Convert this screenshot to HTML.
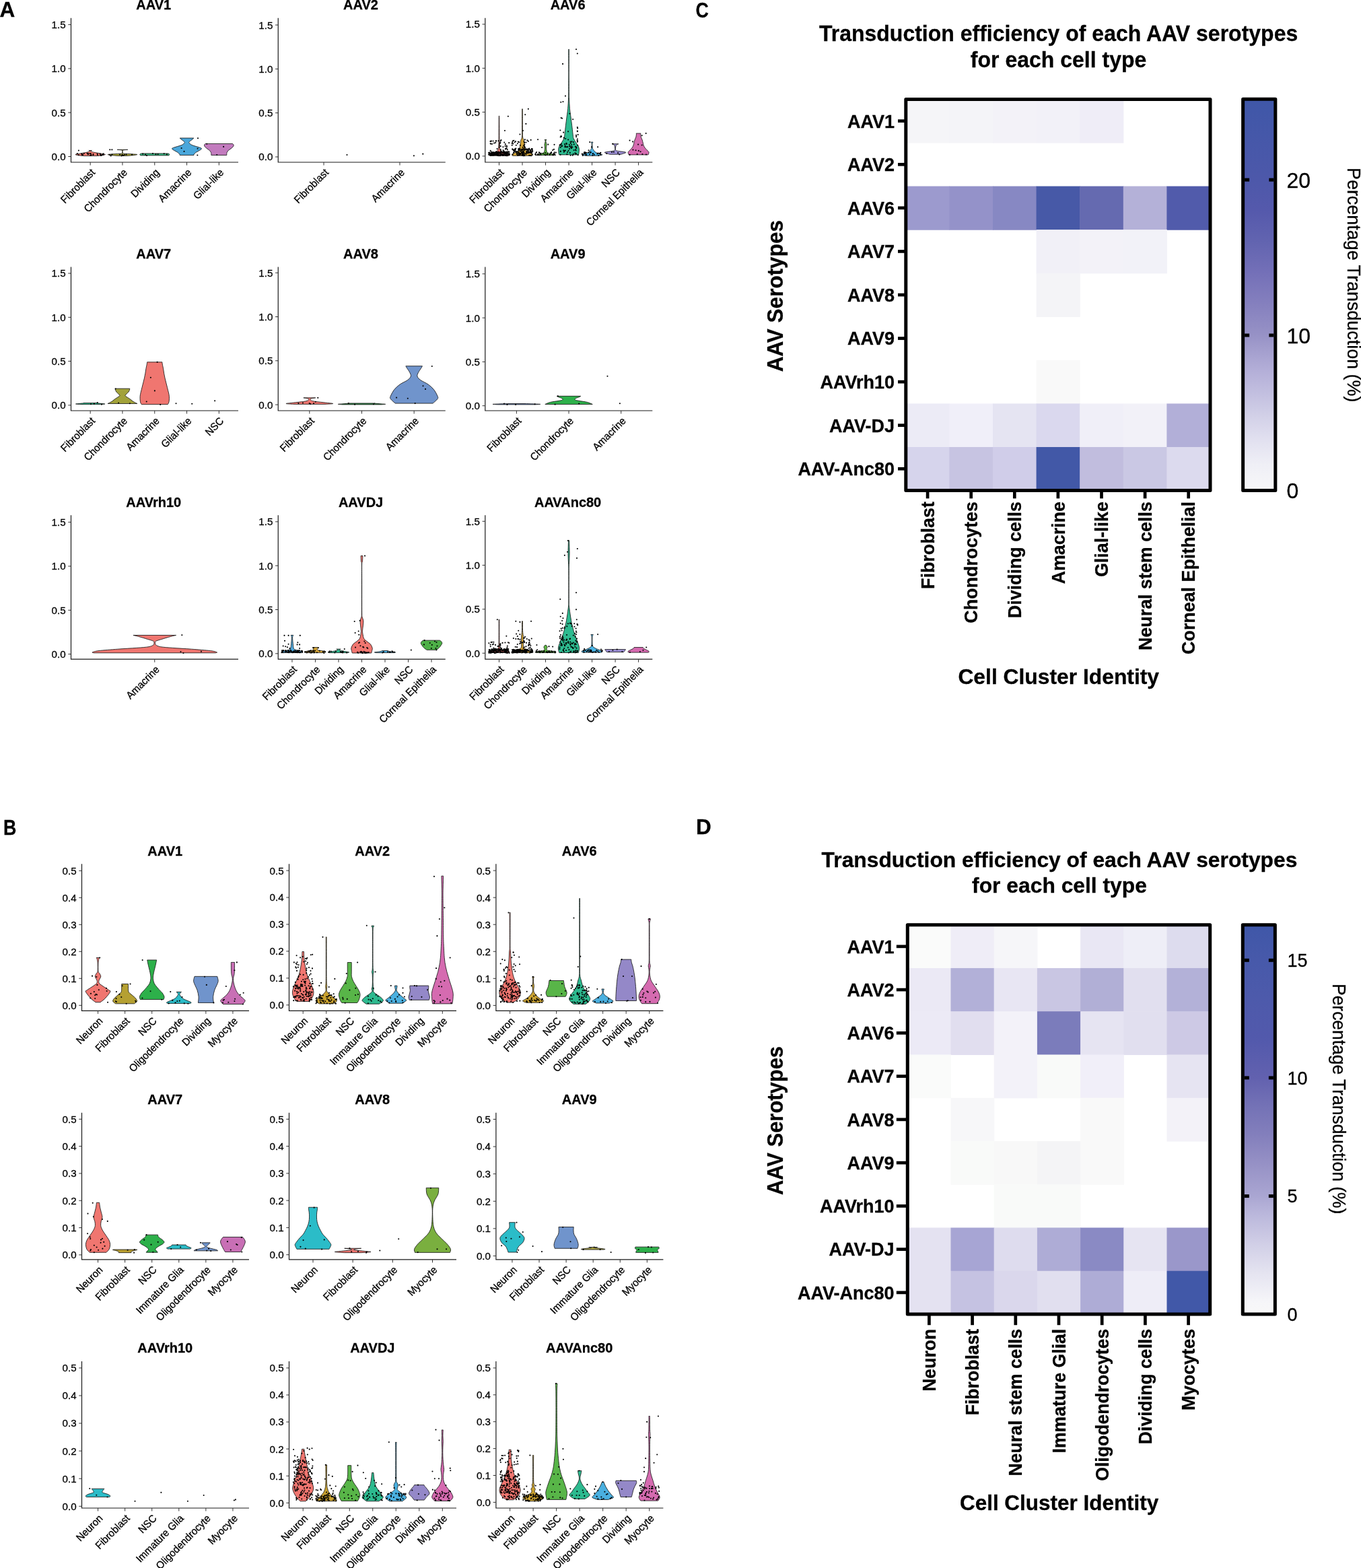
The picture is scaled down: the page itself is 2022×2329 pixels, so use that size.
<!DOCTYPE html>
<html><head><meta charset="utf-8"><title>AAV transduction figure</title>
<style>html,body{margin:0;padding:0;background:#fff;} svg{display:block;} text{font-family:"Liberation Sans",Arial,sans-serif;fill:#000;stroke:#000;stroke-width:0.3px;}</style>
</head><body>
<svg width="2022" height="2329" viewBox="0 0 2022 2329">
<rect width="2022" height="2329" fill="#fff"/>
<rect x="1345.80" y="147.40" width="65.20" height="65.18" fill="#F5F5F8"/>
<rect x="1410.40" y="147.40" width="65.20" height="65.18" fill="#F4F4F8"/>
<rect x="1475.00" y="147.40" width="65.20" height="65.18" fill="#F3F2F8"/>
<rect x="1539.60" y="147.40" width="65.20" height="65.18" fill="#F2F1F8"/>
<rect x="1604.20" y="147.40" width="65.20" height="65.18" fill="#EFEDF7"/>
<rect x="1345.80" y="276.56" width="65.20" height="65.18" fill="#9C9ACE"/>
<rect x="1410.40" y="276.56" width="65.20" height="65.18" fill="#9492C9"/>
<rect x="1475.00" y="276.56" width="65.20" height="65.18" fill="#8788C3"/>
<rect x="1539.60" y="276.56" width="65.20" height="65.18" fill="#4759A7"/>
<rect x="1604.20" y="276.56" width="65.20" height="65.18" fill="#656AB0"/>
<rect x="1668.80" y="276.56" width="65.20" height="65.18" fill="#B4B1D8"/>
<rect x="1733.40" y="276.56" width="65.20" height="65.18" fill="#515BAB"/>
<rect x="1539.60" y="341.13" width="65.20" height="65.18" fill="#F1F0F7"/>
<rect x="1604.20" y="341.13" width="65.20" height="65.18" fill="#F3F2F8"/>
<rect x="1668.80" y="341.13" width="65.20" height="65.18" fill="#F2F2F8"/>
<rect x="1539.60" y="405.71" width="65.20" height="65.18" fill="#F4F4F7"/>
<rect x="1539.60" y="534.87" width="65.20" height="65.18" fill="#F9F9F9"/>
<rect x="1345.80" y="599.44" width="65.20" height="65.18" fill="#ECEBF6"/>
<rect x="1410.40" y="599.44" width="65.20" height="65.18" fill="#F0EFF9"/>
<rect x="1475.00" y="599.44" width="65.20" height="65.18" fill="#E5E4F2"/>
<rect x="1539.60" y="599.44" width="65.20" height="65.18" fill="#DAD8EE"/>
<rect x="1604.20" y="599.44" width="65.20" height="65.18" fill="#F0EFF8"/>
<rect x="1668.80" y="599.44" width="65.20" height="65.18" fill="#F2F1F8"/>
<rect x="1733.40" y="599.44" width="65.20" height="65.18" fill="#B2AFD8"/>
<rect x="1345.80" y="664.02" width="65.20" height="65.18" fill="#D6D4EC"/>
<rect x="1410.40" y="664.02" width="65.20" height="65.18" fill="#C7C4E2"/>
<rect x="1475.00" y="664.02" width="65.20" height="65.18" fill="#D0CDE9"/>
<rect x="1539.60" y="664.02" width="65.20" height="65.18" fill="#4258A7"/>
<rect x="1604.20" y="664.02" width="65.20" height="65.18" fill="#C1BDDE"/>
<rect x="1668.80" y="664.02" width="65.20" height="65.18" fill="#CAC8E4"/>
<rect x="1733.40" y="664.02" width="65.20" height="65.18" fill="#DCDAEE"/>
<defs><linearGradient id="gC" x1="0" y1="1" x2="0" y2="0"><stop offset="0" stop-color="#F7F7F8"/><stop offset="0.067" stop-color="#EFEFF6"/><stop offset="0.127" stop-color="#E2E1F0"/><stop offset="0.187" stop-color="#D3D1E8"/><stop offset="0.246" stop-color="#C3C0E0"/><stop offset="0.306" stop-color="#B4AFD8"/><stop offset="0.397" stop-color="#9792C6"/><stop offset="0.476" stop-color="#8580BE"/><stop offset="0.556" stop-color="#7470B8"/><stop offset="0.635" stop-color="#6264B0"/><stop offset="0.714" stop-color="#5559AC"/><stop offset="0.794" stop-color="#4D58AA"/><stop offset="1" stop-color="#3F57A8"/></linearGradient></defs>
<rect x="1846.65" y="147.2" width="48.19999999999982" height="581.4000000000001" fill="url(#gC)"/>
<line x1="1334.0" y1="179.69" x2="1345.8" y2="179.69" stroke="#000" stroke-width="4.7"/>
<text transform="translate(1329.00,189.59)" font-size="27" font-weight="bold" text-anchor="end">AAV1</text>
<line x1="1334.0" y1="244.27" x2="1345.8" y2="244.27" stroke="#000" stroke-width="4.7"/>
<text transform="translate(1329.00,254.17)" font-size="27" font-weight="bold" text-anchor="end">AAV2</text>
<line x1="1334.0" y1="308.84" x2="1345.8" y2="308.84" stroke="#000" stroke-width="4.7"/>
<text transform="translate(1329.00,318.74)" font-size="27" font-weight="bold" text-anchor="end">AAV6</text>
<line x1="1334.0" y1="373.42" x2="1345.8" y2="373.42" stroke="#000" stroke-width="4.7"/>
<text transform="translate(1329.00,383.32)" font-size="27" font-weight="bold" text-anchor="end">AAV7</text>
<line x1="1334.0" y1="438.00" x2="1345.8" y2="438.00" stroke="#000" stroke-width="4.7"/>
<text transform="translate(1329.00,447.90)" font-size="27" font-weight="bold" text-anchor="end">AAV8</text>
<line x1="1334.0" y1="502.58" x2="1345.8" y2="502.58" stroke="#000" stroke-width="4.7"/>
<text transform="translate(1329.00,512.48)" font-size="27" font-weight="bold" text-anchor="end">AAV9</text>
<line x1="1334.0" y1="567.16" x2="1345.8" y2="567.16" stroke="#000" stroke-width="4.7"/>
<text transform="translate(1329.00,577.06)" font-size="27" font-weight="bold" text-anchor="end">AAVrh10</text>
<line x1="1334.0" y1="631.73" x2="1345.8" y2="631.73" stroke="#000" stroke-width="4.7"/>
<text transform="translate(1329.00,641.63)" font-size="27" font-weight="bold" text-anchor="end">AAV-DJ</text>
<line x1="1334.0" y1="696.31" x2="1345.8" y2="696.31" stroke="#000" stroke-width="4.7"/>
<text transform="translate(1329.00,706.21)" font-size="27" font-weight="bold" text-anchor="end">AAV-Anc80</text>
<line x1="1378.10" y1="728.6" x2="1378.10" y2="740.4" stroke="#000" stroke-width="4.7"/>
<text transform="translate(1387.70,745.10) rotate(-90) scale(0.995,1)" font-size="27" font-weight="bold" text-anchor="end">Fibroblast</text>
<line x1="1442.70" y1="728.6" x2="1442.70" y2="740.4" stroke="#000" stroke-width="4.7"/>
<text transform="translate(1452.30,745.10) rotate(-90) scale(0.995,1)" font-size="27" font-weight="bold" text-anchor="end">Chondrocytes</text>
<line x1="1507.30" y1="728.6" x2="1507.30" y2="740.4" stroke="#000" stroke-width="4.7"/>
<text transform="translate(1516.90,745.10) rotate(-90) scale(0.995,1)" font-size="27" font-weight="bold" text-anchor="end">Dividing cells</text>
<line x1="1571.90" y1="728.6" x2="1571.90" y2="740.4" stroke="#000" stroke-width="4.7"/>
<text transform="translate(1581.50,745.10) rotate(-90) scale(0.995,1)" font-size="27" font-weight="bold" text-anchor="end">Amacrine</text>
<line x1="1636.50" y1="728.6" x2="1636.50" y2="740.4" stroke="#000" stroke-width="4.7"/>
<text transform="translate(1646.10,745.10) rotate(-90) scale(0.995,1)" font-size="27" font-weight="bold" text-anchor="end">Glial-like</text>
<line x1="1701.10" y1="728.6" x2="1701.10" y2="740.4" stroke="#000" stroke-width="4.7"/>
<text transform="translate(1710.70,745.10) rotate(-90) scale(0.995,1)" font-size="27" font-weight="bold" text-anchor="end">Neural stem cells</text>
<line x1="1765.70" y1="728.6" x2="1765.70" y2="740.4" stroke="#000" stroke-width="4.7"/>
<text transform="translate(1775.30,745.10) rotate(-90) scale(0.995,1)" font-size="27" font-weight="bold" text-anchor="end">Corneal Epithelial</text>
<rect x="1345.8" y="147.4" width="452.20000000000005" height="581.2" fill="none" stroke="#000" stroke-width="5.0" stroke-linejoin="round"/>
<rect x="1846.65" y="147.2" width="48.19999999999982" height="581.4000000000001" fill="none" stroke="#000" stroke-width="5.0" stroke-linejoin="round"/>
<line x1="1849.15" y1="267.1" x2="1856.15" y2="267.1" stroke="#000" stroke-width="5"/>
<line x1="1885.35" y1="267.1" x2="1892.35" y2="267.1" stroke="#000" stroke-width="5"/>
<text transform="translate(1911.50,278.60)" font-size="32">20</text>
<line x1="1849.15" y1="498.0" x2="1856.15" y2="498.0" stroke="#000" stroke-width="5"/>
<line x1="1885.35" y1="498.0" x2="1892.35" y2="498.0" stroke="#000" stroke-width="5"/>
<text transform="translate(1911.50,509.50)" font-size="32">10</text>
<text transform="translate(1911.50,740.10)" font-size="32">0</text>
<text transform="translate(1572.60,61.30) scale(0.97,1)" font-size="33" font-weight="bold" text-anchor="middle">Transduction efficiency of each AAV serotypes</text>
<text transform="translate(1572.60,100.00) scale(0.97,1)" font-size="33" font-weight="bold" text-anchor="middle">for each cell type</text>
<text transform="translate(1163.20,439.70) rotate(-90) scale(0.955,1)" font-size="33" font-weight="bold" text-anchor="middle">AAV Serotypes</text>
<text transform="translate(1572.70,1015.70)" font-size="31.8" font-weight="bold" text-anchor="middle">Cell Cluster Identity</text>
<text transform="translate(2002.00,249.00) rotate(90) scale(0.975,1)" font-size="27.6">Percentage Transduction (%)</text>
<rect x="1348.30" y="1373.70" width="64.80" height="64.86" fill="#FAFBFA"/>
<rect x="1412.50" y="1373.70" width="64.80" height="64.86" fill="#EFEDF7"/>
<rect x="1476.70" y="1373.70" width="64.80" height="64.86" fill="#F6F6F9"/>
<rect x="1605.10" y="1373.70" width="64.80" height="64.86" fill="#E9E7F4"/>
<rect x="1669.30" y="1373.70" width="64.80" height="64.86" fill="#EEEEF7"/>
<rect x="1733.50" y="1373.70" width="64.80" height="64.86" fill="#DDDCEE"/>
<rect x="1348.30" y="1437.96" width="64.80" height="64.86" fill="#EBE9F5"/>
<rect x="1412.50" y="1437.96" width="64.80" height="64.86" fill="#B2B0D8"/>
<rect x="1476.70" y="1437.96" width="64.80" height="64.86" fill="#E8E6F3"/>
<rect x="1540.90" y="1437.96" width="64.80" height="64.86" fill="#C9C6E3"/>
<rect x="1605.10" y="1437.96" width="64.80" height="64.86" fill="#B1AFD6"/>
<rect x="1669.30" y="1437.96" width="64.80" height="64.86" fill="#E1DFEF"/>
<rect x="1733.50" y="1437.96" width="64.80" height="64.86" fill="#B3B1D8"/>
<rect x="1348.30" y="1502.21" width="64.80" height="64.86" fill="#ECEAF6"/>
<rect x="1412.50" y="1502.21" width="64.80" height="64.86" fill="#E1DEEF"/>
<rect x="1476.70" y="1502.21" width="64.80" height="64.86" fill="#F3F2F9"/>
<rect x="1540.90" y="1502.21" width="64.80" height="64.86" fill="#7B7CBB"/>
<rect x="1605.10" y="1502.21" width="64.80" height="64.86" fill="#E6E4F2"/>
<rect x="1669.30" y="1502.21" width="64.80" height="64.86" fill="#E1DFEF"/>
<rect x="1733.50" y="1502.21" width="64.80" height="64.86" fill="#CDC9E5"/>
<rect x="1348.30" y="1566.47" width="64.80" height="64.86" fill="#FAFBFA"/>
<rect x="1476.70" y="1566.47" width="64.80" height="64.86" fill="#F3F2F9"/>
<rect x="1540.90" y="1566.47" width="64.80" height="64.86" fill="#F9FAF9"/>
<rect x="1605.10" y="1566.47" width="64.80" height="64.86" fill="#F1EFF9"/>
<rect x="1733.50" y="1566.47" width="64.80" height="64.86" fill="#E6E4F2"/>
<rect x="1412.50" y="1630.72" width="64.80" height="64.86" fill="#F7F7F9"/>
<rect x="1605.10" y="1630.72" width="64.80" height="64.86" fill="#F9F9F9"/>
<rect x="1733.50" y="1630.72" width="64.80" height="64.86" fill="#F3F2F8"/>
<rect x="1412.50" y="1694.98" width="64.80" height="64.86" fill="#F9FAF9"/>
<rect x="1476.70" y="1694.98" width="64.80" height="64.86" fill="#F8F8F8"/>
<rect x="1540.90" y="1694.98" width="64.80" height="64.86" fill="#F4F4F6"/>
<rect x="1605.10" y="1694.98" width="64.80" height="64.86" fill="#F9F9F9"/>
<rect x="1476.70" y="1759.23" width="64.80" height="64.86" fill="#F9FAF9"/>
<rect x="1540.90" y="1759.23" width="64.80" height="64.86" fill="#F9FAF9"/>
<rect x="1348.30" y="1823.49" width="64.80" height="64.86" fill="#E4E2F1"/>
<rect x="1412.50" y="1823.49" width="64.80" height="64.86" fill="#A7A5D4"/>
<rect x="1476.70" y="1823.49" width="64.80" height="64.86" fill="#DEDCEE"/>
<rect x="1540.90" y="1823.49" width="64.80" height="64.86" fill="#AEACD6"/>
<rect x="1605.10" y="1823.49" width="64.80" height="64.86" fill="#8A8AC4"/>
<rect x="1669.30" y="1823.49" width="64.80" height="64.86" fill="#E6E4F2"/>
<rect x="1733.50" y="1823.49" width="64.80" height="64.86" fill="#9A97CA"/>
<rect x="1348.30" y="1887.74" width="64.80" height="64.86" fill="#E4E2F1"/>
<rect x="1412.50" y="1887.74" width="64.80" height="64.86" fill="#C5C2E2"/>
<rect x="1476.70" y="1887.74" width="64.80" height="64.86" fill="#DAD7EC"/>
<rect x="1540.90" y="1887.74" width="64.80" height="64.86" fill="#E1DFEF"/>
<rect x="1605.10" y="1887.74" width="64.80" height="64.86" fill="#AEACD6"/>
<rect x="1669.30" y="1887.74" width="64.80" height="64.86" fill="#EEEDF7"/>
<rect x="1733.50" y="1887.74" width="64.80" height="64.86" fill="#4158A8"/>
<defs><linearGradient id="gD" x1="0" y1="1" x2="0" y2="0"><stop offset="0" stop-color="#F8F8F8"/><stop offset="0.03" stop-color="#F6F6F9"/><stop offset="0.1" stop-color="#E6E5F1"/><stop offset="0.176" stop-color="#D2D0E7"/><stop offset="0.255" stop-color="#BBB8DC"/><stop offset="0.303" stop-color="#AAA6D2"/><stop offset="0.382" stop-color="#9792C6"/><stop offset="0.461" stop-color="#837FBC"/><stop offset="0.534" stop-color="#7472B6"/><stop offset="0.607" stop-color="#6261AF"/><stop offset="0.71" stop-color="#5259AC"/><stop offset="0.813" stop-color="#4D5AAB"/><stop offset="0.91" stop-color="#4759AA"/><stop offset="1" stop-color="#3F57A8"/></linearGradient></defs>
<rect x="1846.3" y="1373.7" width="48.049999999999955" height="578.3" fill="url(#gD)"/>
<line x1="1331.8" y1="1405.83" x2="1348.3" y2="1405.83" stroke="#000" stroke-width="4.7"/>
<text transform="translate(1328.50,1415.53)" font-size="27" font-weight="bold" text-anchor="end">AAV1</text>
<line x1="1331.8" y1="1470.08" x2="1348.3" y2="1470.08" stroke="#000" stroke-width="4.7"/>
<text transform="translate(1328.50,1479.78)" font-size="27" font-weight="bold" text-anchor="end">AAV2</text>
<line x1="1331.8" y1="1534.34" x2="1348.3" y2="1534.34" stroke="#000" stroke-width="4.7"/>
<text transform="translate(1328.50,1544.04)" font-size="27" font-weight="bold" text-anchor="end">AAV6</text>
<line x1="1331.8" y1="1598.59" x2="1348.3" y2="1598.59" stroke="#000" stroke-width="4.7"/>
<text transform="translate(1328.50,1608.29)" font-size="27" font-weight="bold" text-anchor="end">AAV7</text>
<line x1="1331.8" y1="1662.85" x2="1348.3" y2="1662.85" stroke="#000" stroke-width="4.7"/>
<text transform="translate(1328.50,1672.55)" font-size="27" font-weight="bold" text-anchor="end">AAV8</text>
<line x1="1331.8" y1="1727.11" x2="1348.3" y2="1727.11" stroke="#000" stroke-width="4.7"/>
<text transform="translate(1328.50,1736.81)" font-size="27" font-weight="bold" text-anchor="end">AAV9</text>
<line x1="1331.8" y1="1791.36" x2="1348.3" y2="1791.36" stroke="#000" stroke-width="4.7"/>
<text transform="translate(1328.50,1801.06)" font-size="27" font-weight="bold" text-anchor="end">AAVrh10</text>
<line x1="1331.8" y1="1855.62" x2="1348.3" y2="1855.62" stroke="#000" stroke-width="4.7"/>
<text transform="translate(1328.50,1865.32)" font-size="27" font-weight="bold" text-anchor="end">AAV-DJ</text>
<line x1="1331.8" y1="1919.87" x2="1348.3" y2="1919.87" stroke="#000" stroke-width="4.7"/>
<text transform="translate(1328.50,1929.57)" font-size="27" font-weight="bold" text-anchor="end">AAV-Anc80</text>
<line x1="1380.40" y1="1952.0" x2="1380.40" y2="1968.2" stroke="#000" stroke-width="4.7"/>
<text transform="translate(1390.00,1973.80) rotate(-90) scale(0.985,1)" font-size="27" font-weight="bold" text-anchor="end">Neuron</text>
<line x1="1444.60" y1="1952.0" x2="1444.60" y2="1968.2" stroke="#000" stroke-width="4.7"/>
<text transform="translate(1454.20,1973.80) rotate(-90) scale(0.985,1)" font-size="27" font-weight="bold" text-anchor="end">Fibroblast</text>
<line x1="1508.80" y1="1952.0" x2="1508.80" y2="1968.2" stroke="#000" stroke-width="4.7"/>
<text transform="translate(1518.40,1973.80) rotate(-90) scale(0.985,1)" font-size="27" font-weight="bold" text-anchor="end">Neural stem cells</text>
<line x1="1573.00" y1="1952.0" x2="1573.00" y2="1968.2" stroke="#000" stroke-width="4.7"/>
<text transform="translate(1582.60,1973.80) rotate(-90) scale(0.985,1)" font-size="27" font-weight="bold" text-anchor="end">Immature Glial</text>
<line x1="1637.20" y1="1952.0" x2="1637.20" y2="1968.2" stroke="#000" stroke-width="4.7"/>
<text transform="translate(1646.80,1973.80) rotate(-90) scale(0.985,1)" font-size="27" font-weight="bold" text-anchor="end">Oligodendrocytes</text>
<line x1="1701.40" y1="1952.0" x2="1701.40" y2="1968.2" stroke="#000" stroke-width="4.7"/>
<text transform="translate(1711.00,1973.80) rotate(-90) scale(0.985,1)" font-size="27" font-weight="bold" text-anchor="end">Dividing cells</text>
<line x1="1765.60" y1="1952.0" x2="1765.60" y2="1968.2" stroke="#000" stroke-width="4.7"/>
<text transform="translate(1775.20,1973.80) rotate(-90) scale(0.985,1)" font-size="27" font-weight="bold" text-anchor="end">Myocytes</text>
<rect x="1348.3" y="1373.7" width="449.4000000000001" height="578.3" fill="none" stroke="#000" stroke-width="5.0" stroke-linejoin="round"/>
<rect x="1846.3" y="1373.7" width="48.049999999999955" height="578.3" fill="none" stroke="#000" stroke-width="5.0" stroke-linejoin="round"/>
<line x1="1848.8" y1="1426.3" x2="1855.8" y2="1426.3" stroke="#000" stroke-width="5"/>
<line x1="1884.85" y1="1426.3" x2="1891.85" y2="1426.3" stroke="#000" stroke-width="5"/>
<text transform="translate(1912.50,1436.00)" font-size="27">15</text>
<line x1="1848.8" y1="1600.9" x2="1855.8" y2="1600.9" stroke="#000" stroke-width="5"/>
<line x1="1884.85" y1="1600.9" x2="1891.85" y2="1600.9" stroke="#000" stroke-width="5"/>
<text transform="translate(1912.50,1610.60)" font-size="27">10</text>
<line x1="1848.8" y1="1776.6" x2="1855.8" y2="1776.6" stroke="#000" stroke-width="5"/>
<line x1="1884.85" y1="1776.6" x2="1891.85" y2="1776.6" stroke="#000" stroke-width="5"/>
<text transform="translate(1912.50,1786.30)" font-size="27">5</text>
<text transform="translate(1912.50,1961.70)" font-size="27">0</text>
<text transform="translate(1574.00,1288.40)" font-size="31.8" font-weight="bold" text-anchor="middle">Transduction efficiency of each AAV serotypes</text>
<text transform="translate(1574.00,1325.90)" font-size="31.8" font-weight="bold" text-anchor="middle">for each cell type</text>
<text transform="translate(1163.10,1664.50) rotate(-90) scale(0.955,1)" font-size="32.4" font-weight="bold" text-anchor="middle">AAV Serotypes</text>
<text transform="translate(1573.60,2242.50) scale(1.015,1)" font-size="31.0" font-weight="bold" text-anchor="middle">Cell Cluster Identity</text>
<text transform="translate(1980.00,1461.00) rotate(90) scale(0.958,1)" font-size="27.6">Percentage Transduction (%)</text>
<text transform="translate(228.30,14.25)" font-size="20" font-weight="bold" text-anchor="middle">AAV1</text>
<path d="M123.71,231.57 C122.55,231.43 118.63,231.04 116.73,230.74 C114.84,230.43 112.92,230.04 112.34,229.76 C111.76,229.48 111.58,229.46 113.25,229.06 C114.91,228.67 119.52,227.90 122.31,227.39 C125.10,226.88 128.24,226.41 129.99,225.99 C131.73,225.57 132.17,225.16 132.78,224.88 C133.38,224.60 133.62,224.51 133.62,224.32 C133.62,224.13 133.07,223.90 132.78,223.76 C132.49,223.62 132.02,223.53 131.87,223.48 L136.47,223.48 C136.32,223.53 135.86,223.62 135.57,223.76 C135.28,223.90 134.73,224.13 134.73,224.32 C134.73,224.51 134.96,224.60 135.57,224.88 C136.17,225.16 136.61,225.57 138.36,225.99 C140.10,226.41 143.24,226.88 146.03,227.39 C148.82,227.90 153.44,228.67 155.10,229.06 C156.76,229.46 156.59,229.48 156.01,229.76 C155.42,230.04 153.51,230.43 151.61,230.74 C149.72,231.04 145.80,231.43 144.64,231.57 Z" fill="#F07A70" stroke="#1a1a1a" stroke-width="0.85" stroke-linejoin="round"/>
<circle cx="122.18" cy="230.27" r="1.05"/>
<circle cx="153.54" cy="228.20" r="1.05"/>
<circle cx="129.86" cy="227.98" r="1.05"/>
<circle cx="116.82" cy="230.18" r="1.05"/>
<circle cx="153.36" cy="229.60" r="1.05"/>
<circle cx="129.69" cy="227.71" r="1.05"/>
<circle cx="151.44" cy="230.30" r="1.05"/>
<circle cx="150.29" cy="230.84" r="1.05"/>
<circle cx="144.96" cy="229.97" r="1.05"/>
<circle cx="152.98" cy="229.81" r="1.05"/>
<circle cx="138.41" cy="230.06" r="1.05"/>
<circle cx="121.30" cy="228.75" r="1.05"/>
<circle cx="148.82" cy="228.66" r="1.05"/>
<circle cx="114.79" cy="228.15" r="1.05"/>
<circle cx="138.58" cy="229.03" r="1.05"/>
<circle cx="134.77" cy="228.11" r="1.05"/>
<circle cx="130.87" cy="229.37" r="1.05"/>
<circle cx="135.24" cy="230.79" r="1.05"/>
<circle cx="134.11" cy="230.96" r="1.05"/>
<circle cx="124.78" cy="228.00" r="1.05"/>
<circle cx="121.93" cy="229.09" r="1.05"/>
<circle cx="149.87" cy="230.46" r="1.05"/>
<circle cx="149.31" cy="230.33" r="1.05"/>
<circle cx="135.36" cy="229.85" r="1.05"/>
<circle cx="131.47" cy="228.28" r="1.05"/>
<circle cx="133.61" cy="228.27" r="1.05"/>
<circle cx="144.53" cy="228.45" r="1.05"/>
<circle cx="123.23" cy="230.02" r="1.05"/>
<circle cx="116.86" cy="223.48" r="1.05"/>
<path d="M174.29,231.43 C172.66,231.27 166.88,230.78 164.52,230.46 C162.16,230.13 159.55,229.76 160.13,229.48 C160.71,229.20 164.72,228.99 168.01,228.78 C171.30,228.57 177.64,228.46 179.87,228.23 C182.10,227.99 181.12,228.18 181.40,227.39 C181.68,226.60 182.03,224.27 181.54,223.48 C181.05,222.69 179.72,222.83 178.47,222.65 C177.23,222.46 174.81,222.41 174.08,222.37 L189.84,222.37 C189.11,222.41 186.69,222.46 185.45,222.65 C184.21,222.83 182.87,222.69 182.38,223.48 C181.89,224.27 182.24,226.60 182.52,227.39 C182.80,228.18 181.82,227.99 184.05,228.23 C186.29,228.46 192.62,228.57 195.91,228.78 C199.20,228.99 203.21,229.20 203.79,229.48 C204.38,229.76 201.76,230.13 199.40,230.46 C197.04,230.78 191.26,231.27 189.63,231.43 Z" fill="#A8A53A" stroke="#1a1a1a" stroke-width="0.85" stroke-linejoin="round"/>
<circle cx="196.05" cy="229.86" r="1.05"/>
<circle cx="187.67" cy="229.40" r="1.05"/>
<circle cx="181.38" cy="230.11" r="1.05"/>
<circle cx="180.56" cy="231.43" r="1.05"/>
<circle cx="183.39" cy="231.04" r="1.05"/>
<circle cx="166.36" cy="229.66" r="1.05"/>
<circle cx="182.26" cy="230.31" r="1.05"/>
<circle cx="163.12" cy="230.10" r="1.05"/>
<circle cx="185.18" cy="229.76" r="1.05"/>
<circle cx="178.08" cy="229.40" r="1.05"/>
<circle cx="163.31" cy="222.37" r="1.05"/>
<circle cx="166.38" cy="222.37" r="1.05"/>
<circle cx="164.71" cy="231.57" r="1.05"/>
<path d="M208.82,230.88 C208.67,230.76 208.07,230.48 207.92,230.18 C207.77,229.88 207.77,229.39 207.92,229.06 C208.07,228.74 208.44,228.41 208.82,228.23 C209.21,228.04 209.99,227.99 210.22,227.95 L249.28,227.95 C249.51,227.99 250.29,228.04 250.68,228.23 C251.06,228.41 251.43,228.74 251.58,229.06 C251.73,229.39 251.73,229.88 251.58,230.18 C251.43,230.48 250.83,230.76 250.68,230.88 Z" fill="#3DBA85" stroke="#1a1a1a" stroke-width="0.85" stroke-linejoin="round"/>
<circle cx="234.65" cy="228.96" r="1.05"/>
<circle cx="243.70" cy="228.22" r="1.05"/>
<circle cx="247.81" cy="229.35" r="1.05"/>
<circle cx="212.22" cy="228.61" r="1.05"/>
<circle cx="231.44" cy="229.12" r="1.05"/>
<circle cx="216.12" cy="229.67" r="1.05"/>
<circle cx="218.01" cy="231.02" r="1.05"/>
<circle cx="226.98" cy="228.08" r="1.05"/>
<path d="M267.08,230.46 C267.05,230.27 267.40,229.99 266.94,229.34 C266.47,228.69 265.42,227.41 264.29,226.55 C263.15,225.69 261.38,224.92 260.10,224.18 C258.82,223.44 257.34,222.71 256.61,222.09 C255.88,221.46 255.12,220.99 255.71,220.41 C256.29,219.83 258.20,219.25 260.10,218.60 C261.99,217.95 265.22,217.13 267.08,216.51 C268.94,215.88 270.21,215.41 271.26,214.83 C272.31,214.25 272.83,213.55 273.35,213.02 C273.88,212.48 274.52,212.21 274.40,211.62 C274.28,211.04 273.41,210.23 272.66,209.53 C271.90,208.83 270.62,208.02 269.87,207.44 C269.11,206.86 268.56,206.44 268.12,206.04 C267.68,205.65 267.37,205.23 267.21,205.07 L287.86,205.07 C287.71,205.23 287.40,205.65 286.96,206.04 C286.51,206.44 285.97,206.86 285.21,207.44 C284.46,208.02 283.18,208.83 282.42,209.53 C281.67,210.23 280.79,211.04 280.68,211.62 C280.56,212.21 281.20,212.48 281.72,213.02 C282.25,213.55 282.77,214.25 283.82,214.83 C284.86,215.41 286.14,215.88 288.00,216.51 C289.86,217.13 293.08,217.95 294.98,218.60 C296.87,219.25 298.79,219.83 299.37,220.41 C299.95,220.99 299.20,221.46 298.46,222.09 C297.73,222.71 296.26,223.44 294.98,224.18 C293.70,224.92 291.93,225.69 290.79,226.55 C289.65,227.41 288.61,228.69 288.14,229.34 C287.68,229.99 288.02,230.27 288.00,230.46 Z" fill="#4AA7DB" stroke="#1a1a1a" stroke-width="0.85" stroke-linejoin="round"/>
<circle cx="269.62" cy="219.99" r="1.05"/>
<circle cx="273.53" cy="224.88" r="1.05"/>
<circle cx="293.62" cy="220.69" r="1.05"/>
<circle cx="293.34" cy="230.46" r="1.05"/>
<circle cx="294.03" cy="205.35" r="1.05"/>
<path d="M313.82,230.46 C313.82,230.11 313.88,229.02 313.82,228.36 C313.76,227.71 313.88,227.37 313.47,226.55 C313.06,225.74 312.36,224.46 311.38,223.48 C310.39,222.51 308.70,221.62 307.54,220.69 C306.38,219.76 305.07,218.72 304.40,217.90 C303.73,217.09 303.49,216.46 303.49,215.81 C303.49,215.16 304.13,214.39 304.40,214.00 C304.67,213.60 304.98,213.53 305.10,213.44 L345.56,213.44 C345.67,213.53 345.99,213.60 346.25,214.00 C346.52,214.39 347.16,215.16 347.16,215.81 C347.16,216.46 346.93,217.09 346.25,217.90 C345.58,218.72 344.28,219.76 343.11,220.69 C341.95,221.62 340.27,222.51 339.28,223.48 C338.29,224.46 337.59,225.74 337.19,226.55 C336.78,227.37 336.89,227.71 336.84,228.36 C336.78,229.02 336.84,230.11 336.84,230.46 Z" fill="#C27BBE" stroke="#1a1a1a" stroke-width="0.85" stroke-linejoin="round"/>
<circle cx="307.29" cy="213.72" r="1.05"/>
<circle cx="332.12" cy="217.90" r="1.05"/>
<circle cx="322.22" cy="230.04" r="1.05"/>
<path d="M105.5,26.75 V241.0 H354.0" fill="none" stroke="#1a1a1a" stroke-width="1.2"/>
<line x1="101.3" y1="232.5" x2="105.5" y2="232.5" stroke="#333" stroke-width="1"/>
<text transform="translate(97.60,237.90)" font-size="15.2" text-anchor="end">0.0</text>
<line x1="101.3" y1="167.2" x2="105.5" y2="167.2" stroke="#333" stroke-width="1"/>
<text transform="translate(97.60,172.60)" font-size="15.2" text-anchor="end">0.5</text>
<line x1="101.3" y1="101.9" x2="105.5" y2="101.9" stroke="#333" stroke-width="1"/>
<text transform="translate(97.60,107.30)" font-size="15.2" text-anchor="end">1.0</text>
<line x1="101.3" y1="36.599999999999994" x2="105.5" y2="36.599999999999994" stroke="#333" stroke-width="1"/>
<text transform="translate(97.60,42.00)" font-size="15.2" text-anchor="end">1.5</text>
<line x1="134.17" y1="241.0" x2="134.17" y2="245.5" stroke="#333" stroke-width="1"/>
<text transform="translate(142.17,257.20) rotate(-45) scale(0.945,1)" font-size="15.6" text-anchor="end">Fibroblast</text>
<line x1="181.96" y1="241.0" x2="181.96" y2="245.5" stroke="#333" stroke-width="1"/>
<text transform="translate(189.96,257.20) rotate(-45) scale(0.945,1)" font-size="15.6" text-anchor="end">Chondrocyte</text>
<line x1="229.75" y1="241.0" x2="229.75" y2="245.5" stroke="#333" stroke-width="1"/>
<text transform="translate(237.75,257.20) rotate(-45) scale(0.945,1)" font-size="15.6" text-anchor="end">Dividing</text>
<line x1="277.54" y1="241.0" x2="277.54" y2="245.5" stroke="#333" stroke-width="1"/>
<text transform="translate(285.54,257.20) rotate(-45) scale(0.945,1)" font-size="15.6" text-anchor="end">Amacrine</text>
<line x1="325.33" y1="241.0" x2="325.33" y2="245.5" stroke="#333" stroke-width="1"/>
<text transform="translate(333.33,257.20) rotate(-45) scale(0.945,1)" font-size="15.6" text-anchor="end">Glial-like</text>
<text transform="translate(536.05,14.25)" font-size="20" font-weight="bold" text-anchor="middle">AAV2</text>
<circle cx="515.50" cy="230.00" r="1.05"/>
<circle cx="614.93" cy="231.34" r="1.05"/>
<circle cx="628.32" cy="228.66" r="1.05"/>
<path d="M413.25,26.75 V241.0 H661.75" fill="none" stroke="#1a1a1a" stroke-width="1.2"/>
<line x1="409.05" y1="233.0" x2="413.25" y2="233.0" stroke="#333" stroke-width="1"/>
<text transform="translate(405.35,238.40)" font-size="15.2" text-anchor="end">0.0</text>
<line x1="409.05" y1="167.7" x2="413.25" y2="167.7" stroke="#333" stroke-width="1"/>
<text transform="translate(405.35,173.10)" font-size="15.2" text-anchor="end">0.5</text>
<line x1="409.05" y1="102.4" x2="413.25" y2="102.4" stroke="#333" stroke-width="1"/>
<text transform="translate(405.35,107.80)" font-size="15.2" text-anchor="end">1.0</text>
<line x1="409.05" y1="37.099999999999994" x2="413.25" y2="37.099999999999994" stroke="#333" stroke-width="1"/>
<text transform="translate(405.35,42.50)" font-size="15.2" text-anchor="end">1.5</text>
<line x1="481.02" y1="241.0" x2="481.02" y2="245.5" stroke="#333" stroke-width="1"/>
<text transform="translate(489.02,257.20) rotate(-45) scale(0.945,1)" font-size="15.6" text-anchor="end">Fibroblast</text>
<line x1="593.98" y1="241.0" x2="593.98" y2="245.5" stroke="#333" stroke-width="1"/>
<text transform="translate(601.98,257.20) rotate(-45) scale(0.945,1)" font-size="15.6" text-anchor="end">Amacrine</text>
<text transform="translate(843.60,14.25)" font-size="20" font-weight="bold" text-anchor="middle">AAV6</text>
<path d="M727.56,231.32 C727.38,231.01 726.28,230.15 726.51,229.50 C726.74,228.85 727.15,228.11 728.95,227.41 C730.75,226.71 735.46,226.25 737.32,225.32 C739.18,224.39 739.53,223.11 740.11,221.83 C740.69,220.55 740.65,220.20 740.81,217.65 C740.97,215.09 741.03,211.83 741.09,206.48 C741.15,201.14 741.14,191.25 741.16,185.56 C741.18,179.86 741.22,174.51 741.23,172.30 L741.79,172.30 C741.80,174.51 741.83,179.86 741.86,185.56 C741.88,191.25 741.87,201.14 741.93,206.48 C741.98,211.83 742.04,215.09 742.21,217.65 C742.37,220.20 742.32,220.55 742.90,221.83 C743.48,223.11 743.83,224.39 745.69,225.32 C747.55,226.25 752.26,226.71 754.06,227.41 C755.87,228.11 756.27,228.85 756.51,229.50 C756.74,230.15 755.63,231.01 755.46,231.32 Z" fill="#F07A70" stroke="#1a1a1a" stroke-width="0.85" stroke-linejoin="round"/>
<circle cx="755.61" cy="229.31" r="1.05"/>
<circle cx="740.90" cy="228.55" r="1.05"/>
<circle cx="739.45" cy="227.03" r="1.05"/>
<circle cx="728.92" cy="230.08" r="1.05"/>
<circle cx="753.46" cy="230.07" r="1.05"/>
<circle cx="743.15" cy="231.13" r="1.05"/>
<circle cx="737.71" cy="227.27" r="1.05"/>
<circle cx="751.87" cy="227.15" r="1.05"/>
<circle cx="739.09" cy="228.46" r="1.05"/>
<circle cx="734.51" cy="228.52" r="1.05"/>
<circle cx="742.71" cy="230.33" r="1.05"/>
<circle cx="730.69" cy="227.36" r="1.05"/>
<circle cx="741.97" cy="227.02" r="1.05"/>
<circle cx="744.63" cy="226.83" r="1.05"/>
<circle cx="754.35" cy="227.00" r="1.05"/>
<circle cx="748.97" cy="226.64" r="1.05"/>
<circle cx="756.91" cy="229.84" r="1.05"/>
<circle cx="731.91" cy="226.25" r="1.05"/>
<circle cx="728.63" cy="231.02" r="1.05"/>
<circle cx="739.03" cy="230.86" r="1.05"/>
<circle cx="746.74" cy="225.92" r="1.05"/>
<circle cx="743.71" cy="225.86" r="1.05"/>
<circle cx="754.03" cy="227.47" r="1.05"/>
<circle cx="737.10" cy="226.65" r="1.05"/>
<circle cx="753.54" cy="228.68" r="1.05"/>
<circle cx="729.35" cy="227.19" r="1.05"/>
<circle cx="727.39" cy="228.65" r="1.05"/>
<circle cx="739.21" cy="226.76" r="1.05"/>
<circle cx="734.25" cy="228.55" r="1.05"/>
<circle cx="732.59" cy="226.82" r="1.05"/>
<circle cx="750.80" cy="230.85" r="1.05"/>
<circle cx="747.67" cy="230.21" r="1.05"/>
<circle cx="735.09" cy="229.65" r="1.05"/>
<circle cx="738.28" cy="229.98" r="1.05"/>
<circle cx="737.39" cy="229.98" r="1.05"/>
<circle cx="755.97" cy="228.32" r="1.05"/>
<circle cx="739.68" cy="228.75" r="1.05"/>
<circle cx="733.85" cy="226.74" r="1.05"/>
<circle cx="735.32" cy="227.55" r="1.05"/>
<circle cx="737.43" cy="225.35" r="1.05"/>
<circle cx="736.37" cy="226.10" r="1.05"/>
<circle cx="746.16" cy="228.96" r="1.05"/>
<circle cx="737.76" cy="226.55" r="1.05"/>
<circle cx="740.96" cy="228.72" r="1.05"/>
<circle cx="744.62" cy="229.20" r="1.05"/>
<circle cx="749.92" cy="229.40" r="1.05"/>
<circle cx="753.86" cy="225.43" r="1.05"/>
<circle cx="744.57" cy="229.66" r="1.05"/>
<circle cx="748.11" cy="225.97" r="1.05"/>
<circle cx="752.66" cy="230.58" r="1.05"/>
<circle cx="746.52" cy="228.70" r="1.05"/>
<circle cx="756.55" cy="229.37" r="1.05"/>
<circle cx="737.01" cy="227.16" r="1.05"/>
<circle cx="737.35" cy="225.68" r="1.05"/>
<circle cx="738.20" cy="226.33" r="1.05"/>
<circle cx="726.06" cy="227.02" r="1.05"/>
<circle cx="743.54" cy="230.33" r="1.05"/>
<circle cx="746.02" cy="228.56" r="1.05"/>
<circle cx="731.60" cy="226.67" r="1.05"/>
<circle cx="746.01" cy="230.34" r="1.05"/>
<circle cx="729.47" cy="228.93" r="1.05"/>
<circle cx="747.65" cy="226.78" r="1.05"/>
<circle cx="732.63" cy="228.80" r="1.05"/>
<circle cx="734.49" cy="227.14" r="1.05"/>
<circle cx="750.05" cy="227.71" r="1.05"/>
<circle cx="738.08" cy="229.12" r="1.05"/>
<circle cx="740.27" cy="229.90" r="1.05"/>
<circle cx="739.30" cy="229.70" r="1.05"/>
<circle cx="747.10" cy="230.77" r="1.05"/>
<circle cx="728.79" cy="229.48" r="1.05"/>
<circle cx="751.09" cy="228.26" r="1.05"/>
<circle cx="735.64" cy="226.89" r="1.05"/>
<circle cx="756.65" cy="228.22" r="1.05"/>
<circle cx="729.68" cy="225.37" r="1.05"/>
<circle cx="741.67" cy="227.12" r="1.05"/>
<circle cx="752.67" cy="228.51" r="1.05"/>
<circle cx="736.42" cy="228.98" r="1.05"/>
<circle cx="739.12" cy="228.68" r="1.05"/>
<circle cx="727.38" cy="230.02" r="1.05"/>
<circle cx="746.75" cy="229.77" r="1.05"/>
<circle cx="730.21" cy="230.39" r="1.05"/>
<circle cx="752.52" cy="226.53" r="1.05"/>
<circle cx="755.56" cy="225.36" r="1.05"/>
<circle cx="733.40" cy="230.13" r="1.05"/>
<circle cx="754.51" cy="225.86" r="1.05"/>
<circle cx="736.36" cy="229.99" r="1.05"/>
<circle cx="752.23" cy="231.17" r="1.05"/>
<circle cx="728.96" cy="230.14" r="1.05"/>
<circle cx="742.22" cy="231.27" r="1.05"/>
<circle cx="744.06" cy="228.41" r="1.05"/>
<circle cx="754.67" cy="229.50" r="1.05"/>
<circle cx="748.56" cy="230.66" r="1.05"/>
<circle cx="737.47" cy="226.66" r="1.05"/>
<circle cx="747.63" cy="229.92" r="1.05"/>
<circle cx="739.25" cy="227.50" r="1.05"/>
<circle cx="753.59" cy="231.21" r="1.05"/>
<circle cx="740.53" cy="231.17" r="1.05"/>
<circle cx="748.31" cy="225.33" r="1.05"/>
<circle cx="743.75" cy="227.01" r="1.05"/>
<circle cx="752.46" cy="229.65" r="1.05"/>
<circle cx="728.89" cy="229.62" r="1.05"/>
<circle cx="730.51" cy="228.24" r="1.05"/>
<circle cx="749.71" cy="227.71" r="1.05"/>
<circle cx="747.59" cy="228.83" r="1.05"/>
<circle cx="745.28" cy="226.00" r="1.05"/>
<circle cx="726.04" cy="229.62" r="1.05"/>
<circle cx="756.17" cy="230.57" r="1.05"/>
<circle cx="747.56" cy="229.74" r="1.05"/>
<circle cx="731.27" cy="229.58" r="1.05"/>
<circle cx="729.08" cy="229.74" r="1.05"/>
<circle cx="734.93" cy="229.80" r="1.05"/>
<circle cx="736.22" cy="227.55" r="1.05"/>
<circle cx="735.22" cy="230.07" r="1.05"/>
<circle cx="731.24" cy="230.55" r="1.05"/>
<circle cx="749.71" cy="227.26" r="1.05"/>
<circle cx="746.52" cy="230.76" r="1.05"/>
<circle cx="740.15" cy="225.64" r="1.05"/>
<circle cx="733.16" cy="226.29" r="1.05"/>
<circle cx="742.49" cy="230.46" r="1.05"/>
<circle cx="756.46" cy="225.69" r="1.05"/>
<circle cx="751.73" cy="225.57" r="1.05"/>
<circle cx="727.21" cy="228.01" r="1.05"/>
<circle cx="748.71" cy="225.71" r="1.05"/>
<circle cx="727.60" cy="228.91" r="1.05"/>
<circle cx="726.99" cy="227.72" r="1.05"/>
<circle cx="751.22" cy="228.64" r="1.05"/>
<circle cx="741.45" cy="226.39" r="1.05"/>
<circle cx="740.61" cy="226.25" r="1.05"/>
<circle cx="752.86" cy="228.50" r="1.05"/>
<circle cx="741.38" cy="225.74" r="1.05"/>
<circle cx="727.23" cy="226.81" r="1.05"/>
<circle cx="750.54" cy="226.25" r="1.05"/>
<circle cx="747.47" cy="230.38" r="1.05"/>
<circle cx="737.77" cy="226.99" r="1.05"/>
<circle cx="733.42" cy="230.59" r="1.05"/>
<circle cx="742.72" cy="227.73" r="1.05"/>
<circle cx="753.37" cy="225.91" r="1.05"/>
<circle cx="726.94" cy="226.60" r="1.05"/>
<circle cx="731.79" cy="230.48" r="1.05"/>
<circle cx="749.57" cy="228.54" r="1.05"/>
<circle cx="751.91" cy="227.26" r="1.05"/>
<circle cx="732.16" cy="227.55" r="1.05"/>
<circle cx="745.07" cy="225.56" r="1.05"/>
<circle cx="751.32" cy="227.98" r="1.05"/>
<circle cx="747.74" cy="226.25" r="1.05"/>
<circle cx="749.29" cy="225.63" r="1.05"/>
<circle cx="737.88" cy="227.85" r="1.05"/>
<circle cx="732.17" cy="229.33" r="1.05"/>
<circle cx="743.10" cy="230.41" r="1.05"/>
<circle cx="753.16" cy="228.68" r="1.05"/>
<circle cx="728.65" cy="223.69" r="1.05"/>
<circle cx="756.25" cy="212.16" r="1.05"/>
<circle cx="750.68" cy="216.88" r="1.05"/>
<circle cx="751.82" cy="220.21" r="1.05"/>
<circle cx="747.41" cy="218.25" r="1.05"/>
<circle cx="729.69" cy="209.33" r="1.05"/>
<circle cx="753.85" cy="222.34" r="1.05"/>
<circle cx="729.56" cy="213.68" r="1.05"/>
<circle cx="734.09" cy="212.44" r="1.05"/>
<circle cx="753.04" cy="218.06" r="1.05"/>
<circle cx="742.02" cy="215.43" r="1.05"/>
<circle cx="728.50" cy="210.06" r="1.05"/>
<circle cx="743.37" cy="211.50" r="1.05"/>
<circle cx="750.98" cy="221.41" r="1.05"/>
<circle cx="744.24" cy="224.42" r="1.05"/>
<circle cx="736.93" cy="209.80" r="1.05"/>
<circle cx="743.76" cy="222.26" r="1.05"/>
<circle cx="747.56" cy="223.27" r="1.05"/>
<circle cx="749.26" cy="211.61" r="1.05"/>
<circle cx="743.74" cy="217.09" r="1.05"/>
<circle cx="752.75" cy="220.60" r="1.05"/>
<circle cx="738.57" cy="221.06" r="1.05"/>
<circle cx="744.53" cy="207.97" r="1.05"/>
<circle cx="748.68" cy="224.60" r="1.05"/>
<circle cx="750.86" cy="214.15" r="1.05"/>
<circle cx="742.76" cy="212.91" r="1.05"/>
<circle cx="740.38" cy="209.29" r="1.05"/>
<circle cx="741.84" cy="218.50" r="1.05"/>
<circle cx="731.24" cy="213.80" r="1.05"/>
<circle cx="736.14" cy="212.04" r="1.05"/>
<circle cx="754.88" cy="172.72" r="1.05"/>
<circle cx="749.99" cy="193.93" r="1.05"/>
<circle cx="752.78" cy="216.53" r="1.05"/>
<circle cx="743.72" cy="209.27" r="1.05"/>
<circle cx="737.02" cy="209.00" r="1.05"/>
<circle cx="732.56" cy="209.55" r="1.05"/>
<circle cx="729.49" cy="209.97" r="1.05"/>
<circle cx="728.65" cy="213.18" r="1.05"/>
<path d="M761.37,231.32 C761.26,230.94 759.98,229.85 760.68,229.08 C761.37,228.32 763.93,227.69 765.56,226.71 C767.19,225.74 769.28,224.74 770.44,223.23 C771.60,221.71 772.07,219.51 772.53,217.65 C773.00,215.78 773.00,213.69 773.23,212.06 C773.46,210.44 773.60,209.04 773.93,207.88 C774.26,206.72 774.91,206.48 775.19,205.09 C775.46,203.69 775.52,202.76 775.60,199.51 C775.69,196.25 775.65,191.84 775.67,185.56 C775.70,179.28 775.73,165.79 775.74,161.84 L776.30,161.84 C776.31,165.79 776.35,179.28 776.37,185.56 C776.39,191.84 776.36,196.25 776.44,199.51 C776.52,202.76 776.58,203.69 776.86,205.09 C777.14,206.48 777.79,206.72 778.11,207.88 C778.44,209.04 778.58,210.44 778.81,212.06 C779.04,213.69 779.04,215.78 779.51,217.65 C779.97,219.51 780.44,221.71 781.60,223.23 C782.77,224.74 784.86,225.74 786.49,226.71 C788.11,227.69 790.67,228.32 791.37,229.08 C792.07,229.85 790.79,230.94 790.67,231.32 Z" fill="#D4A537" stroke="#1a1a1a" stroke-width="0.85" stroke-linejoin="round"/>
<circle cx="783.79" cy="227.44" r="1.05"/>
<circle cx="777.92" cy="225.80" r="1.05"/>
<circle cx="777.17" cy="227.80" r="1.05"/>
<circle cx="776.05" cy="222.17" r="1.05"/>
<circle cx="781.25" cy="228.27" r="1.05"/>
<circle cx="774.43" cy="223.12" r="1.05"/>
<circle cx="785.41" cy="221.82" r="1.05"/>
<circle cx="776.45" cy="230.76" r="1.05"/>
<circle cx="779.31" cy="228.43" r="1.05"/>
<circle cx="768.30" cy="228.92" r="1.05"/>
<circle cx="781.84" cy="227.21" r="1.05"/>
<circle cx="778.88" cy="229.96" r="1.05"/>
<circle cx="766.32" cy="220.66" r="1.05"/>
<circle cx="779.33" cy="231.26" r="1.05"/>
<circle cx="787.31" cy="222.48" r="1.05"/>
<circle cx="768.20" cy="228.09" r="1.05"/>
<circle cx="779.59" cy="222.62" r="1.05"/>
<circle cx="771.52" cy="228.20" r="1.05"/>
<circle cx="771.05" cy="227.45" r="1.05"/>
<circle cx="770.54" cy="220.90" r="1.05"/>
<circle cx="775.37" cy="230.37" r="1.05"/>
<circle cx="790.43" cy="229.47" r="1.05"/>
<circle cx="788.91" cy="231.19" r="1.05"/>
<circle cx="771.03" cy="222.55" r="1.05"/>
<circle cx="788.03" cy="222.70" r="1.05"/>
<circle cx="777.74" cy="231.25" r="1.05"/>
<circle cx="770.18" cy="228.26" r="1.05"/>
<circle cx="765.04" cy="221.32" r="1.05"/>
<circle cx="775.68" cy="221.83" r="1.05"/>
<circle cx="787.70" cy="223.36" r="1.05"/>
<circle cx="770.43" cy="222.13" r="1.05"/>
<circle cx="764.68" cy="223.30" r="1.05"/>
<circle cx="783.83" cy="222.57" r="1.05"/>
<circle cx="772.97" cy="224.67" r="1.05"/>
<circle cx="763.59" cy="223.09" r="1.05"/>
<circle cx="787.91" cy="230.86" r="1.05"/>
<circle cx="783.97" cy="224.07" r="1.05"/>
<circle cx="770.81" cy="226.86" r="1.05"/>
<circle cx="774.29" cy="224.02" r="1.05"/>
<circle cx="773.40" cy="228.91" r="1.05"/>
<circle cx="764.71" cy="222.31" r="1.05"/>
<circle cx="778.44" cy="223.36" r="1.05"/>
<circle cx="771.03" cy="230.07" r="1.05"/>
<circle cx="790.34" cy="225.63" r="1.05"/>
<circle cx="782.42" cy="225.38" r="1.05"/>
<circle cx="787.28" cy="225.29" r="1.05"/>
<circle cx="775.66" cy="222.00" r="1.05"/>
<circle cx="777.54" cy="225.99" r="1.05"/>
<circle cx="785.06" cy="225.12" r="1.05"/>
<circle cx="769.14" cy="230.86" r="1.05"/>
<circle cx="773.09" cy="228.14" r="1.05"/>
<circle cx="776.57" cy="225.03" r="1.05"/>
<circle cx="780.27" cy="221.41" r="1.05"/>
<circle cx="784.98" cy="223.54" r="1.05"/>
<circle cx="786.21" cy="230.71" r="1.05"/>
<circle cx="786.64" cy="231.03" r="1.05"/>
<circle cx="776.04" cy="229.22" r="1.05"/>
<circle cx="775.93" cy="227.46" r="1.05"/>
<circle cx="782.55" cy="221.27" r="1.05"/>
<circle cx="772.83" cy="228.52" r="1.05"/>
<circle cx="777.58" cy="221.16" r="1.05"/>
<circle cx="790.28" cy="224.30" r="1.05"/>
<circle cx="788.74" cy="225.20" r="1.05"/>
<circle cx="762.16" cy="221.97" r="1.05"/>
<circle cx="776.11" cy="222.93" r="1.05"/>
<circle cx="764.10" cy="224.53" r="1.05"/>
<circle cx="772.59" cy="230.11" r="1.05"/>
<circle cx="761.35" cy="221.53" r="1.05"/>
<circle cx="767.80" cy="228.82" r="1.05"/>
<circle cx="775.96" cy="226.57" r="1.05"/>
<circle cx="772.52" cy="227.87" r="1.05"/>
<circle cx="774.83" cy="226.29" r="1.05"/>
<circle cx="775.44" cy="221.85" r="1.05"/>
<circle cx="784.56" cy="221.45" r="1.05"/>
<circle cx="766.80" cy="226.31" r="1.05"/>
<circle cx="790.05" cy="226.96" r="1.05"/>
<circle cx="775.04" cy="225.93" r="1.05"/>
<circle cx="781.54" cy="229.10" r="1.05"/>
<circle cx="782.58" cy="222.28" r="1.05"/>
<circle cx="772.74" cy="222.14" r="1.05"/>
<circle cx="777.37" cy="229.69" r="1.05"/>
<circle cx="787.89" cy="224.62" r="1.05"/>
<circle cx="782.14" cy="225.36" r="1.05"/>
<circle cx="788.70" cy="226.97" r="1.05"/>
<circle cx="767.19" cy="224.98" r="1.05"/>
<circle cx="770.04" cy="225.95" r="1.05"/>
<circle cx="780.86" cy="221.86" r="1.05"/>
<circle cx="785.85" cy="226.64" r="1.05"/>
<circle cx="765.69" cy="222.70" r="1.05"/>
<circle cx="777.60" cy="221.47" r="1.05"/>
<circle cx="790.51" cy="222.91" r="1.05"/>
<circle cx="786.21" cy="220.53" r="1.05"/>
<circle cx="789.74" cy="221.08" r="1.05"/>
<circle cx="770.84" cy="223.75" r="1.05"/>
<circle cx="762.78" cy="223.34" r="1.05"/>
<circle cx="782.95" cy="225.94" r="1.05"/>
<circle cx="790.70" cy="221.06" r="1.05"/>
<circle cx="767.98" cy="225.93" r="1.05"/>
<circle cx="777.06" cy="228.02" r="1.05"/>
<circle cx="771.72" cy="221.43" r="1.05"/>
<circle cx="785.00" cy="227.08" r="1.05"/>
<circle cx="770.61" cy="230.32" r="1.05"/>
<circle cx="761.75" cy="229.56" r="1.05"/>
<circle cx="775.05" cy="227.58" r="1.05"/>
<circle cx="791.34" cy="224.48" r="1.05"/>
<circle cx="762.97" cy="227.04" r="1.05"/>
<circle cx="772.32" cy="220.88" r="1.05"/>
<circle cx="778.65" cy="227.07" r="1.05"/>
<circle cx="786.15" cy="221.29" r="1.05"/>
<circle cx="770.50" cy="221.58" r="1.05"/>
<circle cx="777.96" cy="224.99" r="1.05"/>
<circle cx="761.34" cy="221.46" r="1.05"/>
<circle cx="768.96" cy="225.56" r="1.05"/>
<circle cx="765.24" cy="224.89" r="1.05"/>
<circle cx="776.93" cy="229.66" r="1.05"/>
<circle cx="763.53" cy="225.95" r="1.05"/>
<circle cx="790.56" cy="222.32" r="1.05"/>
<circle cx="787.11" cy="226.48" r="1.05"/>
<circle cx="777.80" cy="221.08" r="1.05"/>
<circle cx="777.78" cy="231.27" r="1.05"/>
<circle cx="788.67" cy="207.88" r="1.05"/>
<circle cx="761.33" cy="210.89" r="1.05"/>
<circle cx="780.16" cy="219.48" r="1.05"/>
<circle cx="776.62" cy="218.86" r="1.05"/>
<circle cx="778.52" cy="210.52" r="1.05"/>
<circle cx="760.70" cy="215.70" r="1.05"/>
<circle cx="784.82" cy="209.84" r="1.05"/>
<circle cx="764.76" cy="211.36" r="1.05"/>
<circle cx="762.20" cy="213.41" r="1.05"/>
<circle cx="768.91" cy="213.25" r="1.05"/>
<circle cx="779.87" cy="207.38" r="1.05"/>
<circle cx="771.04" cy="211.14" r="1.05"/>
<circle cx="779.31" cy="214.79" r="1.05"/>
<circle cx="763.42" cy="208.75" r="1.05"/>
<circle cx="779.43" cy="211.83" r="1.05"/>
<circle cx="772.96" cy="215.75" r="1.05"/>
<circle cx="779.35" cy="217.80" r="1.05"/>
<circle cx="781.51" cy="211.53" r="1.05"/>
<circle cx="766.78" cy="215.78" r="1.05"/>
<circle cx="779.20" cy="218.06" r="1.05"/>
<circle cx="779.29" cy="218.86" r="1.05"/>
<circle cx="783.36" cy="208.42" r="1.05"/>
<circle cx="777.99" cy="216.16" r="1.05"/>
<circle cx="760.69" cy="212.93" r="1.05"/>
<circle cx="769.80" cy="210.56" r="1.05"/>
<circle cx="784.87" cy="161.84" r="1.05"/>
<circle cx="780.27" cy="170.21" r="1.05"/>
<circle cx="781.38" cy="183.88" r="1.05"/>
<circle cx="776.92" cy="193.93" r="1.05"/>
<circle cx="772.46" cy="199.51" r="1.05"/>
<circle cx="762.13" cy="209.00" r="1.05"/>
<circle cx="766.04" cy="209.97" r="1.05"/>
<path d="M795.19,230.48 C796.24,230.20 799.38,229.43 801.47,228.81 C803.56,228.18 806.47,227.64 807.75,226.71 C809.02,225.78 808.84,224.50 809.14,223.23 C809.44,221.95 809.58,220.44 809.56,219.04 C809.54,217.65 808.98,216.02 809.00,214.85 C809.02,213.69 809.51,212.99 809.70,212.06 C809.89,211.13 810.21,210.04 810.12,209.27 C810.02,208.51 809.30,207.76 809.14,207.46 L811.93,207.46 C811.77,207.76 811.05,208.51 810.95,209.27 C810.86,210.04 811.19,211.13 811.37,212.06 C811.56,212.99 812.05,213.69 812.07,214.85 C812.09,216.02 811.54,217.65 811.51,219.04 C811.49,220.44 811.63,221.95 811.93,223.23 C812.23,224.50 812.05,225.78 813.33,226.71 C814.61,227.64 817.51,228.18 819.60,228.81 C821.70,229.43 824.84,230.20 825.88,230.48 Z" fill="#5DB642" stroke="#1a1a1a" stroke-width="0.85" stroke-linejoin="round"/>
<circle cx="800.95" cy="226.34" r="1.05"/>
<circle cx="816.36" cy="229.71" r="1.05"/>
<circle cx="799.36" cy="228.75" r="1.05"/>
<circle cx="818.63" cy="227.36" r="1.05"/>
<circle cx="795.59" cy="229.82" r="1.05"/>
<circle cx="799.04" cy="230.32" r="1.05"/>
<circle cx="802.75" cy="228.08" r="1.05"/>
<circle cx="819.19" cy="226.15" r="1.05"/>
<circle cx="796.25" cy="227.28" r="1.05"/>
<circle cx="816.70" cy="230.11" r="1.05"/>
<circle cx="823.13" cy="229.23" r="1.05"/>
<circle cx="824.00" cy="228.61" r="1.05"/>
<circle cx="821.59" cy="229.41" r="1.05"/>
<circle cx="810.34" cy="230.39" r="1.05"/>
<circle cx="803.51" cy="229.94" r="1.05"/>
<circle cx="795.26" cy="229.05" r="1.05"/>
<circle cx="803.57" cy="227.73" r="1.05"/>
<circle cx="809.51" cy="229.49" r="1.05"/>
<circle cx="812.78" cy="229.90" r="1.05"/>
<circle cx="821.57" cy="230.45" r="1.05"/>
<circle cx="801.15" cy="230.21" r="1.05"/>
<circle cx="813.10" cy="227.99" r="1.05"/>
<circle cx="825.94" cy="226.51" r="1.05"/>
<circle cx="824.07" cy="228.84" r="1.05"/>
<circle cx="801.53" cy="226.93" r="1.05"/>
<circle cx="823.68" cy="226.21" r="1.05"/>
<circle cx="810.09" cy="226.93" r="1.05"/>
<circle cx="817.90" cy="227.64" r="1.05"/>
<circle cx="822.73" cy="228.01" r="1.05"/>
<circle cx="807.02" cy="228.31" r="1.05"/>
<circle cx="799.10" cy="207.18" r="1.05"/>
<circle cx="805.10" cy="219.04" r="1.05"/>
<circle cx="814.31" cy="214.58" r="1.05"/>
<circle cx="823.52" cy="214.85" r="1.05"/>
<circle cx="822.96" cy="221.83" r="1.05"/>
<circle cx="821.14" cy="222.95" r="1.05"/>
<circle cx="797.15" cy="226.02" r="1.05"/>
<path d="M830.75,229.92 C830.67,229.69 830.42,229.41 830.26,228.53 C830.10,227.64 829.86,225.88 829.77,224.62 C829.69,223.36 829.55,222.30 829.77,220.99 C829.99,219.69 830.32,218.37 831.10,216.81 C831.88,215.25 833.32,213.48 834.45,211.65 C835.58,209.81 837.17,207.32 837.87,205.79 C838.56,204.25 838.32,204.69 838.63,202.44 C838.95,200.18 839.32,195.95 839.75,192.25 C840.18,188.56 840.75,183.93 841.21,180.26 C841.68,176.58 842.13,173.30 842.54,170.21 C842.95,167.12 843.38,164.54 843.65,161.70 C843.93,158.87 844.05,156.03 844.21,153.19 C844.38,150.36 844.54,147.50 844.63,144.68 C844.72,141.87 844.74,140.54 844.77,136.31 C844.80,132.08 844.79,124.94 844.81,119.29 C844.82,113.64 844.88,110.08 844.88,102.41 C844.87,94.74 844.79,78.11 844.77,73.25 L845.33,73.25 C845.31,78.11 845.23,94.74 845.22,102.41 C845.22,110.08 845.28,113.64 845.29,119.29 C845.31,124.94 845.30,132.08 845.33,136.31 C845.36,140.54 845.38,141.87 845.47,144.68 C845.56,147.50 845.72,150.36 845.89,153.19 C846.05,156.03 846.17,158.87 846.45,161.70 C846.72,164.54 847.15,167.12 847.56,170.21 C847.97,173.30 848.42,176.58 848.89,180.26 C849.35,183.93 849.92,188.56 850.35,192.25 C850.78,195.95 851.15,200.18 851.47,202.44 C851.78,204.69 851.54,204.25 852.23,205.79 C852.93,207.32 854.52,209.81 855.65,211.65 C856.78,213.48 858.22,215.25 859.00,216.81 C859.78,218.37 860.11,219.69 860.33,220.99 C860.55,222.30 860.41,223.36 860.33,224.62 C860.24,225.88 860.00,227.64 859.84,228.53 C859.68,229.41 859.43,229.69 859.35,229.92 Z" fill="#2DBA8F" stroke="#1a1a1a" stroke-width="0.85" stroke-linejoin="round"/>
<circle cx="846.10" cy="221.09" r="1.05"/>
<circle cx="851.80" cy="228.87" r="1.05"/>
<circle cx="842.38" cy="229.15" r="1.05"/>
<circle cx="855.05" cy="228.49" r="1.05"/>
<circle cx="839.95" cy="223.53" r="1.05"/>
<circle cx="839.72" cy="218.09" r="1.05"/>
<circle cx="852.67" cy="223.00" r="1.05"/>
<circle cx="858.67" cy="230.19" r="1.05"/>
<circle cx="835.18" cy="216.67" r="1.05"/>
<circle cx="855.55" cy="223.48" r="1.05"/>
<circle cx="846.61" cy="216.71" r="1.05"/>
<circle cx="850.33" cy="218.44" r="1.05"/>
<circle cx="834.39" cy="216.97" r="1.05"/>
<circle cx="833.91" cy="213.69" r="1.05"/>
<circle cx="839.11" cy="214.13" r="1.05"/>
<circle cx="852.74" cy="214.36" r="1.05"/>
<circle cx="839.58" cy="216.52" r="1.05"/>
<circle cx="832.83" cy="224.47" r="1.05"/>
<circle cx="848.98" cy="218.62" r="1.05"/>
<circle cx="843.10" cy="226.06" r="1.05"/>
<circle cx="856.20" cy="228.43" r="1.05"/>
<circle cx="855.17" cy="222.32" r="1.05"/>
<circle cx="856.25" cy="219.88" r="1.05"/>
<circle cx="831.58" cy="215.39" r="1.05"/>
<circle cx="854.84" cy="217.78" r="1.05"/>
<circle cx="837.27" cy="223.41" r="1.05"/>
<circle cx="832.85" cy="218.86" r="1.05"/>
<circle cx="855.20" cy="228.01" r="1.05"/>
<circle cx="856.26" cy="218.46" r="1.05"/>
<circle cx="858.20" cy="215.68" r="1.05"/>
<circle cx="846.78" cy="226.92" r="1.05"/>
<circle cx="838.81" cy="224.13" r="1.05"/>
<circle cx="837.86" cy="225.78" r="1.05"/>
<circle cx="849.18" cy="215.27" r="1.05"/>
<circle cx="832.70" cy="225.08" r="1.05"/>
<circle cx="854.38" cy="227.25" r="1.05"/>
<circle cx="841.88" cy="218.37" r="1.05"/>
<circle cx="847.70" cy="230.75" r="1.05"/>
<circle cx="848.20" cy="219.12" r="1.05"/>
<circle cx="846.51" cy="217.65" r="1.05"/>
<circle cx="844.48" cy="223.84" r="1.05"/>
<circle cx="843.30" cy="218.16" r="1.05"/>
<circle cx="849.13" cy="218.02" r="1.05"/>
<circle cx="849.08" cy="220.23" r="1.05"/>
<circle cx="850.85" cy="230.79" r="1.05"/>
<circle cx="845.81" cy="214.68" r="1.05"/>
<circle cx="841.72" cy="213.91" r="1.05"/>
<circle cx="832.57" cy="229.76" r="1.05"/>
<circle cx="833.00" cy="215.10" r="1.05"/>
<circle cx="839.57" cy="218.36" r="1.05"/>
<circle cx="837.21" cy="196.65" r="1.05"/>
<circle cx="840.23" cy="205.98" r="1.05"/>
<circle cx="858.74" cy="200.07" r="1.05"/>
<circle cx="849.43" cy="210.37" r="1.05"/>
<circle cx="847.86" cy="212.64" r="1.05"/>
<circle cx="856.11" cy="203.17" r="1.05"/>
<circle cx="851.97" cy="211.12" r="1.05"/>
<circle cx="857.55" cy="208.59" r="1.05"/>
<circle cx="841.46" cy="212.70" r="1.05"/>
<circle cx="832.68" cy="203.46" r="1.05"/>
<circle cx="844.14" cy="207.55" r="1.05"/>
<circle cx="833.62" cy="201.99" r="1.05"/>
<circle cx="844.10" cy="195.36" r="1.05"/>
<circle cx="833.94" cy="203.04" r="1.05"/>
<circle cx="857.79" cy="194.59" r="1.05"/>
<circle cx="858.06" cy="209.54" r="1.05"/>
<circle cx="847.54" cy="210.46" r="1.05"/>
<circle cx="832.37" cy="193.45" r="1.05"/>
<circle cx="857.86" cy="195.32" r="1.05"/>
<circle cx="837.77" cy="204.66" r="1.05"/>
<circle cx="836.07" cy="94.88" r="1.05"/>
<circle cx="839.98" cy="142.59" r="1.05"/>
<circle cx="833.28" cy="151.80" r="1.05"/>
<circle cx="836.49" cy="150.96" r="1.05"/>
<circle cx="833.70" cy="175.09" r="1.05"/>
<circle cx="835.09" cy="175.79" r="1.05"/>
<circle cx="851.14" cy="177.19" r="1.05"/>
<circle cx="857.83" cy="189.05" r="1.05"/>
<circle cx="858.11" cy="190.44" r="1.05"/>
<circle cx="856.02" cy="200.90" r="1.05"/>
<circle cx="857.83" cy="206.48" r="1.05"/>
<circle cx="857.83" cy="210.67" r="1.05"/>
<circle cx="856.02" cy="73.25" r="1.05"/>
<circle cx="857.83" cy="79.53" r="1.05"/>
<circle cx="846.26" cy="168.82" r="1.05"/>
<path d="M870.50,231.32 C869.45,231.08 864.57,230.39 864.22,229.92 C863.87,229.46 866.89,229.06 868.40,228.53 C869.91,227.99 872.01,227.36 873.29,226.71 C874.56,226.06 875.38,225.32 876.08,224.62 C876.77,223.92 877.03,223.23 877.47,222.53 C877.91,221.83 878.45,221.48 878.73,220.44 C879.01,219.39 879.06,217.41 879.15,216.25 C879.23,215.09 879.38,214.32 879.22,213.46 C879.05,212.60 878.34,211.48 878.17,211.09 L880.96,211.09 C880.78,211.48 880.08,212.60 879.91,213.46 C879.75,214.32 879.90,215.09 879.98,216.25 C880.06,217.41 880.12,219.39 880.40,220.44 C880.68,221.48 881.21,221.83 881.66,222.53 C882.10,223.23 882.35,223.92 883.05,224.62 C883.75,225.32 884.56,226.06 885.84,226.71 C887.12,227.36 889.21,227.99 890.72,228.53 C892.24,229.06 895.26,229.46 894.91,229.92 C894.56,230.39 889.68,231.08 888.63,231.32 Z" fill="#4AB6E8" stroke="#1a1a1a" stroke-width="0.85" stroke-linejoin="round"/>
<circle cx="875.93" cy="229.30" r="1.05"/>
<circle cx="868.16" cy="227.42" r="1.05"/>
<circle cx="876.69" cy="226.10" r="1.05"/>
<circle cx="878.02" cy="226.20" r="1.05"/>
<circle cx="868.26" cy="228.33" r="1.05"/>
<circle cx="868.19" cy="226.42" r="1.05"/>
<circle cx="889.30" cy="231.10" r="1.05"/>
<circle cx="880.48" cy="228.59" r="1.05"/>
<circle cx="888.65" cy="227.56" r="1.05"/>
<circle cx="892.36" cy="226.73" r="1.05"/>
<circle cx="887.39" cy="228.56" r="1.05"/>
<circle cx="865.85" cy="231.02" r="1.05"/>
<circle cx="870.95" cy="226.71" r="1.05"/>
<circle cx="868.01" cy="227.47" r="1.05"/>
<circle cx="876.87" cy="226.71" r="1.05"/>
<circle cx="869.31" cy="226.35" r="1.05"/>
<circle cx="874.07" cy="226.64" r="1.05"/>
<circle cx="869.63" cy="227.47" r="1.05"/>
<circle cx="870.29" cy="230.11" r="1.05"/>
<circle cx="891.83" cy="227.56" r="1.05"/>
<circle cx="869.53" cy="228.02" r="1.05"/>
<circle cx="890.67" cy="227.93" r="1.05"/>
<circle cx="865.87" cy="229.22" r="1.05"/>
<circle cx="871.41" cy="229.69" r="1.05"/>
<circle cx="867.96" cy="226.89" r="1.05"/>
<circle cx="864.88" cy="228.47" r="1.05"/>
<circle cx="892.15" cy="229.66" r="1.05"/>
<circle cx="882.76" cy="229.64" r="1.05"/>
<circle cx="881.01" cy="228.08" r="1.05"/>
<circle cx="880.38" cy="230.93" r="1.05"/>
<circle cx="876.25" cy="211.09" r="1.05"/>
<circle cx="888.11" cy="218.34" r="1.05"/>
<circle cx="879.04" cy="218.34" r="1.05"/>
<circle cx="874.58" cy="223.23" r="1.05"/>
<path d="M905.71,229.22 C905.13,229.04 903.44,228.53 902.22,228.11 C901.00,227.69 898.73,227.11 898.38,226.71 C898.03,226.32 898.44,226.09 900.13,225.74 C901.81,225.39 906.31,225.04 908.50,224.62 C910.68,224.20 912.40,224.16 913.24,223.23 C914.08,222.30 913.61,220.32 913.52,219.04 C913.43,217.76 913.11,216.30 912.68,215.55 C912.25,214.81 911.52,214.88 910.94,214.58 C910.36,214.27 909.49,213.88 909.19,213.74 L918.96,213.74 C918.67,213.88 917.80,214.27 917.22,214.58 C916.64,214.88 915.90,214.81 915.47,215.55 C915.04,216.30 914.73,217.76 914.64,219.04 C914.54,220.32 914.08,222.30 914.91,223.23 C915.75,224.16 917.47,224.20 919.66,224.62 C921.84,225.04 926.34,225.39 928.03,225.74 C929.71,226.09 930.12,226.32 929.77,226.71 C929.42,227.11 927.16,227.69 925.94,228.11 C924.72,228.53 923.03,229.04 922.45,229.22 Z" fill="#9C8FD6" stroke="#1a1a1a" stroke-width="0.85" stroke-linejoin="round"/>
<circle cx="901.36" cy="228.11" r="1.05"/>
<circle cx="909.03" cy="226.02" r="1.05"/>
<circle cx="911.82" cy="225.74" r="1.05"/>
<circle cx="918.10" cy="227.13" r="1.05"/>
<circle cx="920.20" cy="229.50" r="1.05"/>
<circle cx="910.43" cy="213.46" r="1.05"/>
<path d="M934.29,229.92 C934.12,229.50 933.36,228.18 933.25,227.41 C933.13,226.64 932.96,226.25 933.59,225.32 C934.23,224.39 935.98,223.11 937.08,221.83 C938.19,220.55 939.47,219.04 940.22,217.65 C940.98,216.25 941.15,215.09 941.62,213.46 C942.08,211.83 942.49,209.51 943.01,207.88 C943.53,206.25 944.35,205.09 944.76,203.69 C945.16,202.30 945.39,200.44 945.45,199.51 C945.51,198.58 945.16,198.35 945.10,198.11 L952.08,198.11 C952.02,198.35 951.67,198.58 951.73,199.51 C951.79,200.44 952.02,202.30 952.43,203.69 C952.84,205.09 953.65,206.25 954.17,207.88 C954.70,209.51 955.10,211.83 955.57,213.46 C956.03,215.09 956.21,216.25 956.96,217.65 C957.72,219.04 959.00,220.55 960.10,221.83 C961.21,223.11 962.95,224.39 963.59,225.32 C964.23,226.25 964.05,226.64 963.94,227.41 C963.82,228.18 963.07,229.50 962.89,229.92 Z" fill="#D56BB0" stroke="#1a1a1a" stroke-width="0.85" stroke-linejoin="round"/>
<circle cx="935.54" cy="208.58" r="1.05"/>
<circle cx="940.15" cy="210.39" r="1.05"/>
<circle cx="948.10" cy="214.58" r="1.05"/>
<circle cx="953.68" cy="215.55" r="1.05"/>
<circle cx="940.42" cy="222.53" r="1.05"/>
<circle cx="944.61" cy="223.23" r="1.05"/>
<circle cx="948.79" cy="223.92" r="1.05"/>
<circle cx="951.58" cy="225.32" r="1.05"/>
<circle cx="935.54" cy="229.92" r="1.05"/>
<circle cx="946.70" cy="229.08" r="1.05"/>
<circle cx="954.38" cy="229.08" r="1.05"/>
<circle cx="959.96" cy="229.50" r="1.05"/>
<circle cx="959.68" cy="198.11" r="1.05"/>
<circle cx="953.68" cy="201.18" r="1.05"/>
<path d="M720.8,26.75 V241.0 H969.3" fill="none" stroke="#1a1a1a" stroke-width="1.2"/>
<line x1="716.5999999999999" y1="231.9" x2="720.8" y2="231.9" stroke="#333" stroke-width="1"/>
<text transform="translate(712.90,237.30)" font-size="15.2" text-anchor="end">0.0</text>
<line x1="716.5999999999999" y1="166.60000000000002" x2="720.8" y2="166.60000000000002" stroke="#333" stroke-width="1"/>
<text transform="translate(712.90,172.00)" font-size="15.2" text-anchor="end">0.5</text>
<line x1="716.5999999999999" y1="101.30000000000001" x2="720.8" y2="101.30000000000001" stroke="#333" stroke-width="1"/>
<text transform="translate(712.90,106.70)" font-size="15.2" text-anchor="end">1.0</text>
<line x1="716.5999999999999" y1="36.0" x2="720.8" y2="36.0" stroke="#333" stroke-width="1"/>
<text transform="translate(712.90,41.40)" font-size="15.2" text-anchor="end">1.5</text>
<line x1="741.51" y1="241.0" x2="741.51" y2="245.5" stroke="#333" stroke-width="1"/>
<text transform="translate(749.51,257.20) rotate(-45) scale(0.945,1)" font-size="15.6" text-anchor="end">Fibroblast</text>
<line x1="776.02" y1="241.0" x2="776.02" y2="245.5" stroke="#333" stroke-width="1"/>
<text transform="translate(784.02,257.20) rotate(-45) scale(0.945,1)" font-size="15.6" text-anchor="end">Chondrocyte</text>
<line x1="810.54" y1="241.0" x2="810.54" y2="245.5" stroke="#333" stroke-width="1"/>
<text transform="translate(818.54,257.20) rotate(-45) scale(0.945,1)" font-size="15.6" text-anchor="end">Dividing</text>
<line x1="845.05" y1="241.0" x2="845.05" y2="245.5" stroke="#333" stroke-width="1"/>
<text transform="translate(853.05,257.20) rotate(-45) scale(0.945,1)" font-size="15.6" text-anchor="end">Amacrine</text>
<line x1="879.56" y1="241.0" x2="879.56" y2="245.5" stroke="#333" stroke-width="1"/>
<text transform="translate(887.56,257.20) rotate(-45) scale(0.945,1)" font-size="15.6" text-anchor="end">Glial-like</text>
<line x1="914.08" y1="241.0" x2="914.08" y2="245.5" stroke="#333" stroke-width="1"/>
<text transform="translate(922.08,257.20) rotate(-45) scale(0.945,1)" font-size="15.6" text-anchor="end">NSC</text>
<line x1="948.59" y1="241.0" x2="948.59" y2="245.5" stroke="#333" stroke-width="1"/>
<text transform="translate(956.59,257.20) rotate(-45) scale(0.945,1)" font-size="15.6" text-anchor="end">Corneal Epithelia</text>
<text transform="translate(228.30,383.90)" font-size="20" font-weight="bold" text-anchor="middle">AAV7</text>
<path d="M120.22,600.64 C118.94,600.54 113.13,600.26 112.55,600.08 C111.97,599.89 114.87,599.73 116.73,599.52 C118.59,599.31 122.49,598.99 123.71,598.82 C124.93,598.66 124.00,598.59 124.06,598.54 L144.29,598.54 C144.35,598.59 143.42,598.66 144.64,598.82 C145.86,598.99 149.75,599.31 151.61,599.52 C153.47,599.73 156.38,599.89 155.80,600.08 C155.22,600.26 149.40,600.54 148.12,600.64 Z" fill="#2CB88A" stroke="#1a1a1a" stroke-width="0.85" stroke-linejoin="round"/>
<circle cx="134.99" cy="600.22" r="1.05"/>
<circle cx="139.88" cy="599.80" r="1.05"/>
<circle cx="144.76" cy="598.12" r="1.05"/>
<circle cx="151.04" cy="600.64" r="1.05"/>
<path d="M159.99,599.52 C160.40,599.33 161.33,598.99 162.43,598.40 C163.53,597.82 165.34,596.89 166.62,596.03 C167.89,595.17 168.82,594.17 170.10,593.24 C171.38,592.31 173.07,591.27 174.29,590.45 C175.51,589.64 176.85,588.94 177.43,588.36 C178.01,587.78 178.07,587.55 177.78,586.96 C177.49,586.38 176.50,585.69 175.68,584.87 C174.87,584.06 173.59,583.01 172.89,582.08 C172.20,581.15 171.79,580.11 171.50,579.29 C171.21,578.48 171.21,577.55 171.15,577.20 L192.77,577.20 C192.72,577.55 192.72,578.48 192.42,579.29 C192.13,580.11 191.73,581.15 191.03,582.08 C190.33,583.01 189.05,584.06 188.24,584.87 C187.43,585.69 186.44,586.38 186.15,586.96 C185.86,587.55 185.91,587.78 186.50,588.36 C187.08,588.94 188.41,589.64 189.63,590.45 C190.86,591.27 192.54,592.31 193.82,593.24 C195.10,594.17 196.03,595.17 197.31,596.03 C198.59,596.89 200.39,597.82 201.49,598.40 C202.60,598.99 203.53,599.33 203.93,599.52 Z" fill="#A2A23A" stroke="#1a1a1a" stroke-width="0.85" stroke-linejoin="round"/>
<circle cx="171.69" cy="577.48" r="1.05"/>
<circle cx="176.15" cy="598.54" r="1.05"/>
<circle cx="192.89" cy="599.24" r="1.05"/>
<path d="M210.22,600.64 C209.99,600.22 209.17,599.24 208.82,598.12 C208.47,597.01 208.24,595.57 208.13,593.94 C208.01,592.31 207.95,590.22 208.13,588.36 C208.30,586.50 208.71,584.87 209.17,582.78 C209.64,580.69 210.34,578.13 210.92,575.80 C211.50,573.48 212.08,571.15 212.66,568.83 C213.24,566.50 213.88,564.18 214.40,561.85 C214.93,559.53 215.39,557.20 215.80,554.88 C216.21,552.55 216.44,550.23 216.85,547.90 C217.25,545.58 217.95,542.60 218.24,540.93 C218.53,539.25 218.53,538.37 218.59,537.86 L240.91,537.86 C240.97,538.37 240.97,539.25 241.26,540.93 C241.55,542.60 242.25,545.58 242.65,547.90 C243.06,550.23 243.29,552.55 243.70,554.88 C244.11,557.20 244.57,559.53 245.10,561.85 C245.62,564.18 246.26,566.50 246.84,568.83 C247.42,571.15 248.00,573.48 248.58,575.80 C249.16,578.13 249.86,580.69 250.33,582.78 C250.79,584.87 251.20,586.50 251.37,588.36 C251.55,590.22 251.49,592.31 251.37,593.94 C251.26,595.57 251.03,597.01 250.68,598.12 C250.33,599.24 249.51,600.22 249.28,600.64 Z" fill="#F07670" stroke="#1a1a1a" stroke-width="0.85" stroke-linejoin="round"/>
<circle cx="233.63" cy="537.86" r="1.05"/>
<circle cx="223.86" cy="560.74" r="1.05"/>
<circle cx="229.86" cy="580.41" r="1.05"/>
<circle cx="217.72" cy="596.45" r="1.05"/>
<circle cx="238.23" cy="600.92" r="1.05"/>
<circle cx="261.53" cy="599.24" r="1.05"/>
<circle cx="285.25" cy="599.80" r="1.05"/>
<circle cx="319.15" cy="595.33" r="1.05"/>
<path d="M105.5,396.4 V610.0 H354.0" fill="none" stroke="#1a1a1a" stroke-width="1.2"/>
<line x1="101.3" y1="601.9" x2="105.5" y2="601.9" stroke="#333" stroke-width="1"/>
<text transform="translate(97.60,607.30)" font-size="15.2" text-anchor="end">0.0</text>
<line x1="101.3" y1="536.6" x2="105.5" y2="536.6" stroke="#333" stroke-width="1"/>
<text transform="translate(97.60,542.00)" font-size="15.2" text-anchor="end">0.5</text>
<line x1="101.3" y1="471.29999999999995" x2="105.5" y2="471.29999999999995" stroke="#333" stroke-width="1"/>
<text transform="translate(97.60,476.70)" font-size="15.2" text-anchor="end">1.0</text>
<line x1="101.3" y1="406.0" x2="105.5" y2="406.0" stroke="#333" stroke-width="1"/>
<text transform="translate(97.60,411.40)" font-size="15.2" text-anchor="end">1.5</text>
<line x1="134.17" y1="610.0" x2="134.17" y2="614.5" stroke="#333" stroke-width="1"/>
<text transform="translate(142.17,626.20) rotate(-45) scale(0.945,1)" font-size="15.6" text-anchor="end">Fibroblast</text>
<line x1="181.96" y1="610.0" x2="181.96" y2="614.5" stroke="#333" stroke-width="1"/>
<text transform="translate(189.96,626.20) rotate(-45) scale(0.945,1)" font-size="15.6" text-anchor="end">Chondrocyte</text>
<line x1="229.75" y1="610.0" x2="229.75" y2="614.5" stroke="#333" stroke-width="1"/>
<text transform="translate(237.75,626.20) rotate(-45) scale(0.945,1)" font-size="15.6" text-anchor="end">Amacrine</text>
<line x1="277.54" y1="610.0" x2="277.54" y2="614.5" stroke="#333" stroke-width="1"/>
<text transform="translate(285.54,626.20) rotate(-45) scale(0.945,1)" font-size="15.6" text-anchor="end">Glial-like</text>
<line x1="325.33" y1="610.0" x2="325.33" y2="614.5" stroke="#333" stroke-width="1"/>
<text transform="translate(333.33,626.20) rotate(-45) scale(0.945,1)" font-size="15.6" text-anchor="end">NSC</text>
<text transform="translate(536.05,383.90)" font-size="20" font-weight="bold" text-anchor="middle">AAV8</text>
<path d="M435.43,600.36 C433.69,600.22 425.32,599.85 424.97,599.52 C424.62,599.19 429.85,598.82 433.34,598.40 C436.82,597.99 442.52,597.40 445.89,597.01 C449.26,596.61 451.59,596.43 453.57,596.03 C455.54,595.64 456.91,595.17 457.75,594.64 C458.59,594.10 458.82,593.31 458.59,592.82 C458.36,592.34 457.63,592.03 456.36,591.71 C455.08,591.38 451.82,591.01 450.92,590.87 L468.77,590.87 C467.87,591.01 464.61,591.38 463.33,591.71 C462.05,592.03 461.33,592.34 461.10,592.82 C460.87,593.31 461.10,594.10 461.94,594.64 C462.77,595.17 464.15,595.64 466.12,596.03 C468.10,596.43 470.42,596.61 473.79,597.01 C477.17,597.40 482.86,597.99 486.35,598.40 C489.84,598.82 495.07,599.19 494.72,599.52 C494.37,599.85 486.00,600.22 484.26,600.36 Z" fill="#F07670" stroke="#1a1a1a" stroke-width="0.85" stroke-linejoin="round"/>
<circle cx="472.29" cy="590.87" r="1.05"/>
<circle cx="443.41" cy="599.10" r="1.05"/>
<circle cx="449.97" cy="598.54" r="1.05"/>
<circle cx="459.74" cy="598.96" r="1.05"/>
<circle cx="461.13" cy="599.94" r="1.05"/>
<circle cx="466.01" cy="599.24" r="1.05"/>
<circle cx="468.80" cy="596.73" r="1.05"/>
<path d="M508.20,600.92 C507.21,600.82 502.04,600.54 502.27,600.36 C502.51,600.17 506.98,600.01 509.60,599.80 C512.21,599.59 516.57,599.24 517.97,599.10 C519.36,598.96 517.97,598.99 517.97,598.96 L557.03,598.96 C557.03,598.99 555.64,598.96 557.03,599.10 C558.43,599.24 562.79,599.59 565.40,599.80 C568.02,600.01 572.49,600.17 572.73,600.36 C572.96,600.54 567.79,600.82 566.80,600.92 Z" fill="#2F8A48" stroke="#1a1a1a" stroke-width="0.85" stroke-linejoin="round"/>
<circle cx="517.63" cy="599.10" r="1.05"/>
<circle cx="527.12" cy="600.64" r="1.05"/>
<circle cx="555.02" cy="600.22" r="1.05"/>
<path d="M587.25,599.10 C586.09,598.01 581.44,594.34 580.28,592.54 C579.12,590.75 579.35,590.68 580.28,588.36 C581.21,586.03 583.53,581.50 585.86,578.59 C588.18,575.69 590.97,573.25 594.23,570.92 C597.49,568.60 602.72,566.62 605.39,564.64 C608.06,562.67 609.69,560.92 610.27,559.06 C610.85,557.20 609.92,555.69 608.88,553.48 C607.83,551.27 605.00,547.44 604.00,545.81 C603.00,544.18 603.07,544.07 602.88,543.72 L627.43,543.72 C627.25,544.07 627.32,544.18 626.32,545.81 C625.32,547.44 622.48,551.27 621.43,553.48 C620.39,555.69 619.46,557.20 620.04,559.06 C620.62,560.92 622.25,562.67 624.92,564.64 C627.60,566.62 632.83,568.60 636.08,570.92 C639.34,573.25 642.13,575.69 644.45,578.59 C646.78,581.50 649.10,586.03 650.03,588.36 C650.96,590.68 651.20,590.75 650.03,592.54 C648.87,594.34 644.22,598.01 643.06,599.10 Z" fill="#7094CC" stroke="#1a1a1a" stroke-width="0.85" stroke-linejoin="round"/>
<circle cx="641.79" cy="544.00" r="1.05"/>
<circle cx="628.54" cy="573.29" r="1.05"/>
<circle cx="632.03" cy="577.90" r="1.05"/>
<circle cx="589.06" cy="590.59" r="1.05"/>
<circle cx="605.80" cy="591.71" r="1.05"/>
<circle cx="616.68" cy="599.10" r="1.05"/>
<path d="M413.25,396.4 V610.0 H661.75" fill="none" stroke="#1a1a1a" stroke-width="1.2"/>
<line x1="409.05" y1="601.1" x2="413.25" y2="601.1" stroke="#333" stroke-width="1"/>
<text transform="translate(405.35,606.50)" font-size="15.2" text-anchor="end">0.0</text>
<line x1="409.05" y1="535.8000000000001" x2="413.25" y2="535.8000000000001" stroke="#333" stroke-width="1"/>
<text transform="translate(405.35,541.20)" font-size="15.2" text-anchor="end">0.5</text>
<line x1="409.05" y1="470.5" x2="413.25" y2="470.5" stroke="#333" stroke-width="1"/>
<text transform="translate(405.35,475.90)" font-size="15.2" text-anchor="end">1.0</text>
<line x1="409.05" y1="405.20000000000005" x2="413.25" y2="405.20000000000005" stroke="#333" stroke-width="1"/>
<text transform="translate(405.35,410.60)" font-size="15.2" text-anchor="end">1.5</text>
<line x1="459.84" y1="610.0" x2="459.84" y2="614.5" stroke="#333" stroke-width="1"/>
<text transform="translate(467.84,626.20) rotate(-45) scale(0.945,1)" font-size="15.6" text-anchor="end">Fibroblast</text>
<line x1="537.50" y1="610.0" x2="537.50" y2="614.5" stroke="#333" stroke-width="1"/>
<text transform="translate(545.50,626.20) rotate(-45) scale(0.945,1)" font-size="15.6" text-anchor="end">Chondrocyte</text>
<line x1="615.16" y1="610.0" x2="615.16" y2="614.5" stroke="#333" stroke-width="1"/>
<text transform="translate(623.16,626.20) rotate(-45) scale(0.945,1)" font-size="15.6" text-anchor="end">Amacrine</text>
<text transform="translate(843.60,383.90)" font-size="20" font-weight="bold" text-anchor="middle">AAV9</text>
<path d="M739.49,600.92 C738.27,600.82 731.01,600.54 732.17,600.36 C733.33,600.17 742.92,599.94 746.47,599.80 C750.01,599.66 752.28,599.57 753.44,599.52 L781.34,599.52 C782.51,599.57 784.77,599.66 788.32,599.80 C791.87,599.94 801.46,600.17 802.62,600.36 C803.78,600.54 796.52,600.82 795.30,600.92 Z" fill="#6C8CC8" stroke="#1a1a1a" stroke-width="0.85" stroke-linejoin="round"/>
<circle cx="749.02" cy="599.52" r="1.05"/>
<circle cx="753.48" cy="600.92" r="1.05"/>
<circle cx="766.04" cy="600.92" r="1.05"/>
<circle cx="794.64" cy="600.22" r="1.05"/>
<path d="M809.82,600.50 C811.11,599.99 814.18,598.29 817.57,597.43 C820.95,596.57 827.10,595.92 830.12,595.33 C833.15,594.75 834.89,594.52 835.70,593.94 C836.52,593.36 836.17,592.61 835.01,591.85 C833.84,591.08 830.01,589.92 828.73,589.34 C827.45,588.75 827.56,588.52 827.33,588.36 L862.77,588.36 C862.54,588.52 862.65,588.75 861.37,589.34 C860.09,589.92 856.26,591.08 855.09,591.85 C853.93,592.61 853.58,593.36 854.40,593.94 C855.21,594.52 856.95,594.75 859.98,595.33 C863.00,595.92 869.15,596.57 872.53,597.43 C875.92,598.29 878.99,599.99 880.28,600.50 Z" fill="#2DB04A" stroke="#1a1a1a" stroke-width="0.85" stroke-linejoin="round"/>
<circle cx="828.82" cy="588.36" r="1.05"/>
<circle cx="824.63" cy="600.64" r="1.05"/>
<circle cx="860.21" cy="599.52" r="1.05"/>
<circle cx="902.48" cy="558.78" r="1.05"/>
<circle cx="920.89" cy="599.24" r="1.05"/>
<path d="M720.8,396.4 V610.0 H969.3" fill="none" stroke="#1a1a1a" stroke-width="1.2"/>
<line x1="716.5999999999999" y1="602.7" x2="720.8" y2="602.7" stroke="#333" stroke-width="1"/>
<text transform="translate(712.90,608.10)" font-size="15.2" text-anchor="end">0.0</text>
<line x1="716.5999999999999" y1="537.4000000000001" x2="720.8" y2="537.4000000000001" stroke="#333" stroke-width="1"/>
<text transform="translate(712.90,542.80)" font-size="15.2" text-anchor="end">0.5</text>
<line x1="716.5999999999999" y1="472.1" x2="720.8" y2="472.1" stroke="#333" stroke-width="1"/>
<text transform="translate(712.90,477.50)" font-size="15.2" text-anchor="end">1.0</text>
<line x1="716.5999999999999" y1="406.80000000000007" x2="720.8" y2="406.80000000000007" stroke="#333" stroke-width="1"/>
<text transform="translate(712.90,412.20)" font-size="15.2" text-anchor="end">1.5</text>
<line x1="767.39" y1="610.0" x2="767.39" y2="614.5" stroke="#333" stroke-width="1"/>
<text transform="translate(775.39,626.20) rotate(-45) scale(0.945,1)" font-size="15.6" text-anchor="end">Fibroblast</text>
<line x1="845.05" y1="610.0" x2="845.05" y2="614.5" stroke="#333" stroke-width="1"/>
<text transform="translate(853.05,626.20) rotate(-45) scale(0.945,1)" font-size="15.6" text-anchor="end">Chondrocyte</text>
<line x1="922.71" y1="610.0" x2="922.71" y2="614.5" stroke="#333" stroke-width="1"/>
<text transform="translate(930.71,626.20) rotate(-45) scale(0.945,1)" font-size="15.6" text-anchor="end">Amacrine</text>
<text transform="translate(228.30,752.70)" font-size="20" font-weight="bold" text-anchor="middle">AAVrh10</text>
<path d="M139.07,969.76 C138.77,969.60 135.93,969.32 137.26,968.78 C138.58,968.25 140.74,967.32 147.02,966.55 C153.30,965.78 165.62,964.88 174.92,964.18 C184.22,963.48 195.15,962.95 202.82,962.37 C210.50,961.78 216.78,961.44 220.96,960.69 C225.15,959.95 226.63,958.83 227.94,957.90 C229.24,956.97 228.77,956.04 228.77,955.11 C228.77,954.18 229.47,953.25 227.94,952.32 C226.40,951.39 223.29,950.69 219.57,949.53 C215.85,948.37 209.22,946.35 205.61,945.35 C202.01,944.35 199.22,943.83 197.94,943.53 L261.56,943.53 C260.28,943.83 257.49,944.35 253.89,945.35 C250.28,946.35 243.65,948.37 239.93,949.53 C236.21,950.69 233.10,951.39 231.56,952.32 C230.03,953.25 230.73,954.18 230.73,955.11 C230.73,956.04 230.26,956.97 231.56,957.90 C232.87,958.83 234.35,959.95 238.54,960.69 C242.72,961.44 249.00,961.78 256.68,962.37 C264.35,962.95 275.28,963.48 284.58,964.18 C293.88,964.88 306.20,965.78 312.48,966.55 C318.76,967.32 320.92,968.25 322.24,968.78 C323.57,969.32 320.73,969.60 320.43,969.76 Z" fill="#F07670" stroke="#1a1a1a" stroke-width="0.85" stroke-linejoin="round"/>
<circle cx="270.32" cy="943.25" r="1.05"/>
<circle cx="268.50" cy="967.95" r="1.05"/>
<circle cx="272.41" cy="970.04" r="1.05"/>
<circle cx="298.92" cy="967.67" r="1.05"/>
<path d="M105.5,765.2 V979.2 H354.0" fill="none" stroke="#1a1a1a" stroke-width="1.2"/>
<line x1="101.3" y1="971.6" x2="105.5" y2="971.6" stroke="#333" stroke-width="1"/>
<text transform="translate(97.60,977.00)" font-size="15.2" text-anchor="end">0.0</text>
<line x1="101.3" y1="906.3000000000001" x2="105.5" y2="906.3000000000001" stroke="#333" stroke-width="1"/>
<text transform="translate(97.60,911.70)" font-size="15.2" text-anchor="end">0.5</text>
<line x1="101.3" y1="841.0" x2="105.5" y2="841.0" stroke="#333" stroke-width="1"/>
<text transform="translate(97.60,846.40)" font-size="15.2" text-anchor="end">1.0</text>
<line x1="101.3" y1="775.7" x2="105.5" y2="775.7" stroke="#333" stroke-width="1"/>
<text transform="translate(97.60,781.10)" font-size="15.2" text-anchor="end">1.5</text>
<line x1="229.75" y1="979.2" x2="229.75" y2="983.7" stroke="#333" stroke-width="1"/>
<text transform="translate(237.75,995.40) rotate(-45) scale(0.945,1)" font-size="15.6" text-anchor="end">Amacrine</text>
<text transform="translate(536.05,752.70)" font-size="20" font-weight="bold" text-anchor="middle">AAVDJ</text>
<path d="M420.01,969.55 C419.75,969.32 418.01,968.62 418.47,968.16 C418.94,967.69 420.91,967.27 422.80,966.76 C424.68,966.25 428.26,965.83 429.77,965.09 C431.28,964.35 431.42,963.46 431.87,962.30 C432.31,961.14 432.24,959.74 432.42,958.11 C432.61,956.49 432.84,954.16 432.98,952.53 C433.12,950.91 433.24,949.51 433.26,948.35 C433.28,947.19 433.26,946.26 433.12,945.56 C432.98,944.86 432.57,944.51 432.42,944.16 C432.27,943.81 432.25,943.58 432.21,943.47 L435.70,943.47 C435.67,943.58 435.64,943.81 435.49,944.16 C435.34,944.51 434.93,944.86 434.80,945.56 C434.66,946.26 434.63,947.19 434.66,948.35 C434.68,949.51 434.80,950.91 434.93,952.53 C435.07,954.16 435.31,956.49 435.49,958.11 C435.68,959.74 435.61,961.14 436.05,962.30 C436.49,963.46 436.63,964.35 438.14,965.09 C439.65,965.83 443.24,966.25 445.12,966.76 C447.00,967.27 448.98,967.69 449.44,968.16 C449.91,968.62 448.16,969.32 447.91,969.55 Z" fill="#4FA8DC" stroke="#1a1a1a" stroke-width="0.85" stroke-linejoin="round"/>
<circle cx="419.57" cy="968.79" r="1.05"/>
<circle cx="423.67" cy="968.24" r="1.05"/>
<circle cx="448.88" cy="966.82" r="1.05"/>
<circle cx="430.07" cy="967.42" r="1.05"/>
<circle cx="438.81" cy="968.00" r="1.05"/>
<circle cx="431.69" cy="967.75" r="1.05"/>
<circle cx="432.55" cy="967.06" r="1.05"/>
<circle cx="431.80" cy="965.87" r="1.05"/>
<circle cx="439.24" cy="968.87" r="1.05"/>
<circle cx="424.22" cy="965.98" r="1.05"/>
<circle cx="439.68" cy="968.49" r="1.05"/>
<circle cx="445.67" cy="969.13" r="1.05"/>
<circle cx="436.80" cy="968.02" r="1.05"/>
<circle cx="419.69" cy="967.84" r="1.05"/>
<circle cx="433.85" cy="968.65" r="1.05"/>
<circle cx="427.46" cy="968.64" r="1.05"/>
<circle cx="435.19" cy="968.57" r="1.05"/>
<circle cx="447.76" cy="966.70" r="1.05"/>
<circle cx="428.51" cy="966.09" r="1.05"/>
<circle cx="436.06" cy="967.60" r="1.05"/>
<circle cx="436.97" cy="968.80" r="1.05"/>
<circle cx="420.26" cy="969.12" r="1.05"/>
<circle cx="439.78" cy="969.03" r="1.05"/>
<circle cx="441.61" cy="966.29" r="1.05"/>
<circle cx="421.32" cy="965.93" r="1.05"/>
<circle cx="418.48" cy="969.19" r="1.05"/>
<circle cx="442.69" cy="968.93" r="1.05"/>
<circle cx="444.92" cy="966.36" r="1.05"/>
<circle cx="448.81" cy="967.63" r="1.05"/>
<circle cx="441.69" cy="967.35" r="1.05"/>
<circle cx="441.94" cy="969.16" r="1.05"/>
<circle cx="425.39" cy="966.68" r="1.05"/>
<circle cx="438.67" cy="965.91" r="1.05"/>
<circle cx="432.79" cy="967.64" r="1.05"/>
<circle cx="444.16" cy="965.98" r="1.05"/>
<circle cx="440.33" cy="968.17" r="1.05"/>
<circle cx="446.43" cy="969.01" r="1.05"/>
<circle cx="419.29" cy="967.53" r="1.05"/>
<circle cx="420.86" cy="966.27" r="1.05"/>
<circle cx="442.92" cy="966.93" r="1.05"/>
<circle cx="442.57" cy="967.29" r="1.05"/>
<circle cx="443.08" cy="967.74" r="1.05"/>
<circle cx="435.92" cy="968.77" r="1.05"/>
<circle cx="434.71" cy="969.27" r="1.05"/>
<circle cx="442.24" cy="966.74" r="1.05"/>
<circle cx="428.89" cy="967.89" r="1.05"/>
<circle cx="427.82" cy="968.85" r="1.05"/>
<circle cx="444.61" cy="969.28" r="1.05"/>
<circle cx="418.87" cy="968.83" r="1.05"/>
<circle cx="435.50" cy="968.42" r="1.05"/>
<circle cx="429.66" cy="968.86" r="1.05"/>
<circle cx="425.15" cy="967.49" r="1.05"/>
<circle cx="420.04" cy="967.39" r="1.05"/>
<circle cx="419.12" cy="966.14" r="1.05"/>
<circle cx="428.09" cy="966.55" r="1.05"/>
<circle cx="425.52" cy="968.10" r="1.05"/>
<circle cx="449.14" cy="968.84" r="1.05"/>
<circle cx="436.87" cy="967.07" r="1.05"/>
<circle cx="443.62" cy="968.01" r="1.05"/>
<circle cx="429.14" cy="969.31" r="1.05"/>
<circle cx="422.49" cy="943.88" r="1.05"/>
<circle cx="428.62" cy="943.88" r="1.05"/>
<circle cx="445.78" cy="943.88" r="1.05"/>
<circle cx="423.04" cy="951.84" r="1.05"/>
<circle cx="428.62" cy="956.72" r="1.05"/>
<circle cx="442.30" cy="954.21" r="1.05"/>
<circle cx="441.60" cy="957.42" r="1.05"/>
<circle cx="445.09" cy="957.42" r="1.05"/>
<circle cx="420.67" cy="959.51" r="1.05"/>
<circle cx="424.16" cy="960.21" r="1.05"/>
<circle cx="426.95" cy="961.18" r="1.05"/>
<circle cx="445.09" cy="963.00" r="1.05"/>
<circle cx="430.44" cy="963.00" r="1.05"/>
<path d="M455.92,969.55 C455.43,969.32 452.64,968.62 452.99,968.16 C453.34,967.69 456.13,967.16 458.01,966.76 C459.89,966.37 463.01,966.18 464.29,965.79 C465.57,965.39 465.57,964.86 465.68,964.39 C465.80,963.93 465.28,963.39 464.98,963.00 C464.69,962.60 464.05,962.25 463.94,962.02 C463.82,961.79 464.23,961.67 464.29,961.60 L472.66,961.60 C472.72,961.67 473.12,961.79 473.01,962.02 C472.89,962.25 472.25,962.60 471.96,963.00 C471.67,963.39 471.15,963.93 471.26,964.39 C471.38,964.86 471.38,965.39 472.66,965.79 C473.94,966.18 477.05,966.37 478.94,966.76 C480.82,967.16 483.61,967.69 483.96,968.16 C484.31,968.62 481.52,969.32 481.03,969.55 Z" fill="#D4A537" stroke="#1a1a1a" stroke-width="0.85" stroke-linejoin="round"/>
<circle cx="463.16" cy="969.26" r="1.05"/>
<circle cx="466.58" cy="969.48" r="1.05"/>
<circle cx="462.53" cy="968.64" r="1.05"/>
<circle cx="461.24" cy="969.44" r="1.05"/>
<circle cx="465.54" cy="966.79" r="1.05"/>
<circle cx="464.98" cy="967.52" r="1.05"/>
<circle cx="453.31" cy="968.84" r="1.05"/>
<circle cx="456.25" cy="968.27" r="1.05"/>
<circle cx="461.21" cy="966.59" r="1.05"/>
<circle cx="458.35" cy="967.59" r="1.05"/>
<circle cx="474.82" cy="966.75" r="1.05"/>
<circle cx="465.97" cy="966.60" r="1.05"/>
<circle cx="459.56" cy="967.90" r="1.05"/>
<circle cx="463.54" cy="968.47" r="1.05"/>
<circle cx="461.87" cy="966.47" r="1.05"/>
<circle cx="483.11" cy="968.22" r="1.05"/>
<circle cx="481.67" cy="967.20" r="1.05"/>
<circle cx="466.89" cy="968.74" r="1.05"/>
<circle cx="462.75" cy="969.50" r="1.05"/>
<circle cx="453.23" cy="967.99" r="1.05"/>
<circle cx="479.90" cy="968.14" r="1.05"/>
<circle cx="455.73" cy="969.45" r="1.05"/>
<circle cx="470.97" cy="969.23" r="1.05"/>
<circle cx="460.09" cy="966.82" r="1.05"/>
<circle cx="465.77" cy="967.24" r="1.05"/>
<circle cx="466.01" cy="962.02" r="1.05"/>
<circle cx="472.99" cy="962.30" r="1.05"/>
<circle cx="468.11" cy="966.48" r="1.05"/>
<circle cx="481.36" cy="969.97" r="1.05"/>
<path d="M489.04,969.55 C488.78,969.39 486.34,968.97 487.50,968.58 C488.66,968.18 493.66,967.65 496.01,967.18 C498.36,966.72 500.78,966.18 501.59,965.79 C502.40,965.39 501.18,965.09 500.89,964.81 C500.60,964.53 500.02,964.23 499.85,964.11 L506.13,964.11 C505.95,964.23 505.37,964.53 505.08,964.81 C504.79,965.09 503.57,965.39 504.38,965.79 C505.20,966.18 507.61,966.72 509.96,967.18 C512.31,967.65 517.31,968.18 518.47,968.58 C519.63,968.97 517.19,969.39 516.94,969.55 Z" fill="#2DBA8F" stroke="#1a1a1a" stroke-width="0.85" stroke-linejoin="round"/>
<circle cx="515.13" cy="969.41" r="1.05"/>
<circle cx="509.06" cy="969.52" r="1.05"/>
<circle cx="491.88" cy="967.48" r="1.05"/>
<circle cx="508.62" cy="967.82" r="1.05"/>
<circle cx="506.96" cy="968.90" r="1.05"/>
<circle cx="509.60" cy="967.48" r="1.05"/>
<circle cx="498.94" cy="967.54" r="1.05"/>
<circle cx="489.60" cy="967.24" r="1.05"/>
<circle cx="505.77" cy="968.04" r="1.05"/>
<circle cx="509.44" cy="968.69" r="1.05"/>
<circle cx="497.32" cy="969.39" r="1.05"/>
<circle cx="488.85" cy="968.65" r="1.05"/>
<circle cx="511.77" cy="963.97" r="1.05"/>
<path d="M523.27,969.97 C523.06,969.16 522.25,966.37 522.01,965.09 C521.78,963.81 521.43,963.69 521.88,962.30 C522.32,960.90 523.27,958.35 524.67,956.72 C526.06,955.09 528.62,953.93 530.25,952.53 C531.87,951.14 533.50,949.98 534.43,948.35 C535.36,946.72 535.48,944.63 535.83,942.77 C536.17,940.91 536.57,939.51 536.52,937.19 C536.48,934.86 535.78,931.37 535.55,928.82 C535.31,926.26 534.90,923.93 535.13,921.84 C535.36,919.75 536.58,918.12 536.94,916.26 C537.30,914.40 537.22,915.10 537.29,910.68 C537.36,906.26 537.35,897.89 537.36,889.75 C537.37,881.62 537.36,870.46 537.36,861.85 C537.36,853.25 537.50,842.79 537.36,838.14 C537.22,833.49 536.73,836.04 536.52,833.95 C536.31,831.86 536.17,826.98 536.10,825.58 L538.90,825.58 C538.83,826.98 538.69,831.86 538.48,833.95 C538.27,836.04 537.78,833.49 537.64,838.14 C537.50,842.79 537.64,853.25 537.64,861.85 C537.64,870.46 537.63,881.62 537.64,889.75 C537.65,897.89 537.64,906.26 537.71,910.68 C537.78,915.10 537.70,914.40 538.06,916.26 C538.42,918.12 539.64,919.75 539.87,921.84 C540.10,923.93 539.69,926.26 539.45,928.82 C539.22,931.37 538.52,934.86 538.48,937.19 C538.43,939.51 538.83,940.91 539.17,942.77 C539.52,944.63 539.64,946.72 540.57,948.35 C541.50,949.98 543.13,951.14 544.75,952.53 C546.38,953.93 548.94,955.09 550.33,956.72 C551.73,958.35 552.68,960.90 553.12,962.30 C553.57,963.69 553.22,963.81 552.99,965.09 C552.75,966.37 551.94,969.16 551.73,969.97 Z" fill="#F07670" stroke="#1a1a1a" stroke-width="0.85" stroke-linejoin="round"/>
<circle cx="539.06" cy="969.88" r="1.05"/>
<circle cx="542.24" cy="969.35" r="1.05"/>
<circle cx="545.45" cy="969.55" r="1.05"/>
<circle cx="531.55" cy="968.90" r="1.05"/>
<circle cx="546.92" cy="969.07" r="1.05"/>
<circle cx="537.52" cy="968.42" r="1.05"/>
<circle cx="538.12" cy="969.47" r="1.05"/>
<circle cx="543.96" cy="969.08" r="1.05"/>
<circle cx="540.60" cy="967.91" r="1.05"/>
<circle cx="536.32" cy="968.60" r="1.05"/>
<circle cx="537.97" cy="969.43" r="1.05"/>
<circle cx="538.27" cy="969.26" r="1.05"/>
<circle cx="531.07" cy="968.85" r="1.05"/>
<circle cx="536.37" cy="967.91" r="1.05"/>
<circle cx="542.17" cy="969.87" r="1.05"/>
<circle cx="535.13" cy="968.58" r="1.05"/>
<circle cx="532.07" cy="969.68" r="1.05"/>
<circle cx="543.89" cy="969.74" r="1.05"/>
<circle cx="547.78" cy="969.15" r="1.05"/>
<circle cx="542.12" cy="968.67" r="1.05"/>
<circle cx="542.05" cy="825.58" r="1.05"/>
<circle cx="526.70" cy="922.96" r="1.05"/>
<circle cx="534.65" cy="921.84" r="1.05"/>
<circle cx="527.68" cy="939.98" r="1.05"/>
<circle cx="532.70" cy="937.47" r="1.05"/>
<circle cx="533.26" cy="942.77" r="1.05"/>
<circle cx="534.09" cy="954.21" r="1.05"/>
<circle cx="532.98" cy="955.04" r="1.05"/>
<circle cx="541.35" cy="952.53" r="1.05"/>
<circle cx="542.74" cy="955.04" r="1.05"/>
<circle cx="535.49" cy="959.23" r="1.05"/>
<circle cx="539.26" cy="960.90" r="1.05"/>
<circle cx="540.23" cy="961.60" r="1.05"/>
<circle cx="528.09" cy="961.60" r="1.05"/>
<circle cx="545.25" cy="962.02" r="1.05"/>
<circle cx="546.23" cy="963.00" r="1.05"/>
<path d="M558.06,969.55 C557.81,969.41 555.60,969.00 556.53,968.72 C557.46,968.44 561.76,968.20 563.64,967.88 C565.53,967.55 567.13,967.00 567.83,966.76 C568.53,966.53 567.83,966.53 567.83,966.48 L576.20,966.48 C576.20,966.53 575.50,966.53 576.20,966.76 C576.90,967.00 578.50,967.55 580.38,967.88 C582.27,968.20 586.57,968.44 587.50,968.72 C588.43,969.00 586.22,969.41 585.96,969.55 Z" fill="#4FB3E5" stroke="#1a1a1a" stroke-width="0.85" stroke-linejoin="round"/>
<circle cx="585.59" cy="968.58" r="1.05"/>
<circle cx="579.69" cy="968.59" r="1.05"/>
<circle cx="583.15" cy="968.17" r="1.05"/>
<circle cx="576.26" cy="968.21" r="1.05"/>
<circle cx="569.92" cy="968.34" r="1.05"/>
<circle cx="568.31" cy="969.38" r="1.05"/>
<circle cx="582.50" cy="967.18" r="1.05"/>
<circle cx="579.02" cy="969.00" r="1.05"/>
<circle cx="610.82" cy="965.51" r="1.05"/>
<path d="M634.07,965.37 C633.37,964.86 631.04,963.39 629.88,962.30 C628.72,961.21 627.86,959.97 627.09,958.81 C626.32,957.65 625.34,956.37 625.28,955.32 C625.22,954.28 626.15,953.23 626.74,952.53 C627.33,951.84 628.49,951.37 628.83,951.14 L653.25,951.14 C653.60,951.37 654.75,951.84 655.34,952.53 C655.93,953.23 656.86,954.28 656.81,955.32 C656.75,956.37 655.76,957.65 654.99,958.81 C654.23,959.97 653.36,961.21 652.20,962.30 C651.04,963.39 648.71,964.86 648.02,965.37 Z" fill="#4DB047" stroke="#1a1a1a" stroke-width="0.85" stroke-linejoin="round"/>
<circle cx="630.63" cy="951.14" r="1.05"/>
<circle cx="645.98" cy="952.53" r="1.05"/>
<circle cx="648.49" cy="953.93" r="1.05"/>
<circle cx="629.94" cy="957.42" r="1.05"/>
<circle cx="638.73" cy="955.04" r="1.05"/>
<circle cx="641.79" cy="957.83" r="1.05"/>
<circle cx="649.47" cy="959.51" r="1.05"/>
<circle cx="640.82" cy="963.00" r="1.05"/>
<circle cx="647.38" cy="963.00" r="1.05"/>
<circle cx="648.49" cy="965.37" r="1.05"/>
<path d="M413.25,765.2 V979.2 H661.75" fill="none" stroke="#1a1a1a" stroke-width="1.2"/>
<line x1="409.05" y1="970.8" x2="413.25" y2="970.8" stroke="#333" stroke-width="1"/>
<text transform="translate(405.35,976.20)" font-size="15.2" text-anchor="end">0.0</text>
<line x1="409.05" y1="905.5" x2="413.25" y2="905.5" stroke="#333" stroke-width="1"/>
<text transform="translate(405.35,910.90)" font-size="15.2" text-anchor="end">0.5</text>
<line x1="409.05" y1="840.1999999999999" x2="413.25" y2="840.1999999999999" stroke="#333" stroke-width="1"/>
<text transform="translate(405.35,845.60)" font-size="15.2" text-anchor="end">1.0</text>
<line x1="409.05" y1="774.9" x2="413.25" y2="774.9" stroke="#333" stroke-width="1"/>
<text transform="translate(405.35,780.30)" font-size="15.2" text-anchor="end">1.5</text>
<line x1="433.96" y1="979.2" x2="433.96" y2="983.7" stroke="#333" stroke-width="1"/>
<text transform="translate(441.96,995.40) rotate(-45) scale(0.945,1)" font-size="15.6" text-anchor="end">Fibroblast</text>
<line x1="468.47" y1="979.2" x2="468.47" y2="983.7" stroke="#333" stroke-width="1"/>
<text transform="translate(476.47,995.40) rotate(-45) scale(0.945,1)" font-size="15.6" text-anchor="end">Chondrocyte</text>
<line x1="502.99" y1="979.2" x2="502.99" y2="983.7" stroke="#333" stroke-width="1"/>
<text transform="translate(510.99,995.40) rotate(-45) scale(0.945,1)" font-size="15.6" text-anchor="end">Dividing</text>
<line x1="537.50" y1="979.2" x2="537.50" y2="983.7" stroke="#333" stroke-width="1"/>
<text transform="translate(545.50,995.40) rotate(-45) scale(0.945,1)" font-size="15.6" text-anchor="end">Amacrine</text>
<line x1="572.01" y1="979.2" x2="572.01" y2="983.7" stroke="#333" stroke-width="1"/>
<text transform="translate(580.01,995.40) rotate(-45) scale(0.945,1)" font-size="15.6" text-anchor="end">Glial-like</text>
<line x1="606.53" y1="979.2" x2="606.53" y2="983.7" stroke="#333" stroke-width="1"/>
<text transform="translate(614.53,995.40) rotate(-45) scale(0.945,1)" font-size="15.6" text-anchor="end">NSC</text>
<line x1="641.04" y1="979.2" x2="641.04" y2="983.7" stroke="#333" stroke-width="1"/>
<text transform="translate(649.04,995.40) rotate(-45) scale(0.945,1)" font-size="15.6" text-anchor="end">Corneal Epithelia</text>
<text transform="translate(843.60,752.70)" font-size="20" font-weight="bold" text-anchor="middle">AAVAnc80</text>
<path d="M727.56,969.50 C727.30,969.27 725.44,968.64 726.02,968.11 C726.60,967.57 728.93,966.88 731.05,966.29 C733.16,965.71 737.11,965.60 738.72,964.62 C740.32,963.64 740.28,962.30 740.67,960.44 C741.07,958.58 741.01,956.95 741.09,953.46 C741.17,949.97 741.15,945.04 741.16,939.51 C741.17,933.98 741.16,923.47 741.16,920.26 L741.86,920.26 C741.86,923.47 741.85,933.98 741.86,939.51 C741.87,945.04 741.85,949.97 741.93,953.46 C742.01,956.95 741.95,958.58 742.35,960.44 C742.74,962.30 742.69,963.64 744.30,964.62 C745.90,965.60 749.86,965.71 751.97,966.29 C754.09,966.88 756.41,967.57 756.99,968.11 C757.58,968.64 755.71,969.27 755.46,969.50 Z" fill="#F07670" stroke="#1a1a1a" stroke-width="0.85" stroke-linejoin="round"/>
<circle cx="736.42" cy="964.55" r="1.05"/>
<circle cx="734.56" cy="964.29" r="1.05"/>
<circle cx="751.52" cy="968.17" r="1.05"/>
<circle cx="730.59" cy="966.81" r="1.05"/>
<circle cx="742.93" cy="967.82" r="1.05"/>
<circle cx="744.87" cy="964.32" r="1.05"/>
<circle cx="752.42" cy="966.63" r="1.05"/>
<circle cx="736.38" cy="965.69" r="1.05"/>
<circle cx="752.39" cy="967.22" r="1.05"/>
<circle cx="737.70" cy="964.16" r="1.05"/>
<circle cx="737.87" cy="968.15" r="1.05"/>
<circle cx="734.24" cy="965.24" r="1.05"/>
<circle cx="737.97" cy="969.13" r="1.05"/>
<circle cx="743.47" cy="969.13" r="1.05"/>
<circle cx="752.73" cy="964.38" r="1.05"/>
<circle cx="734.16" cy="968.24" r="1.05"/>
<circle cx="753.78" cy="969.64" r="1.05"/>
<circle cx="733.24" cy="968.88" r="1.05"/>
<circle cx="726.61" cy="967.91" r="1.05"/>
<circle cx="747.36" cy="965.62" r="1.05"/>
<circle cx="751.80" cy="967.10" r="1.05"/>
<circle cx="749.74" cy="966.65" r="1.05"/>
<circle cx="735.17" cy="964.33" r="1.05"/>
<circle cx="739.24" cy="968.25" r="1.05"/>
<circle cx="736.14" cy="966.82" r="1.05"/>
<circle cx="737.00" cy="969.36" r="1.05"/>
<circle cx="727.17" cy="969.55" r="1.05"/>
<circle cx="751.99" cy="967.98" r="1.05"/>
<circle cx="741.64" cy="966.10" r="1.05"/>
<circle cx="747.68" cy="968.57" r="1.05"/>
<circle cx="746.26" cy="965.54" r="1.05"/>
<circle cx="728.87" cy="966.77" r="1.05"/>
<circle cx="728.54" cy="969.34" r="1.05"/>
<circle cx="744.57" cy="968.28" r="1.05"/>
<circle cx="745.05" cy="968.97" r="1.05"/>
<circle cx="727.67" cy="968.84" r="1.05"/>
<circle cx="726.41" cy="969.82" r="1.05"/>
<circle cx="727.28" cy="967.23" r="1.05"/>
<circle cx="746.48" cy="966.82" r="1.05"/>
<circle cx="750.41" cy="966.97" r="1.05"/>
<circle cx="735.81" cy="966.76" r="1.05"/>
<circle cx="751.61" cy="965.09" r="1.05"/>
<circle cx="735.87" cy="969.86" r="1.05"/>
<circle cx="729.69" cy="969.01" r="1.05"/>
<circle cx="726.83" cy="965.06" r="1.05"/>
<circle cx="754.10" cy="969.79" r="1.05"/>
<circle cx="746.29" cy="969.22" r="1.05"/>
<circle cx="737.98" cy="968.61" r="1.05"/>
<circle cx="751.17" cy="967.41" r="1.05"/>
<circle cx="748.59" cy="964.19" r="1.05"/>
<circle cx="755.46" cy="968.23" r="1.05"/>
<circle cx="733.98" cy="968.49" r="1.05"/>
<circle cx="741.86" cy="965.04" r="1.05"/>
<circle cx="734.39" cy="965.65" r="1.05"/>
<circle cx="726.78" cy="967.28" r="1.05"/>
<circle cx="753.78" cy="965.46" r="1.05"/>
<circle cx="732.82" cy="967.66" r="1.05"/>
<circle cx="751.60" cy="968.28" r="1.05"/>
<circle cx="732.45" cy="966.90" r="1.05"/>
<circle cx="742.24" cy="964.79" r="1.05"/>
<circle cx="730.11" cy="966.41" r="1.05"/>
<circle cx="732.36" cy="964.38" r="1.05"/>
<circle cx="736.31" cy="964.49" r="1.05"/>
<circle cx="749.88" cy="964.88" r="1.05"/>
<circle cx="742.96" cy="969.33" r="1.05"/>
<circle cx="749.02" cy="964.18" r="1.05"/>
<circle cx="737.49" cy="967.03" r="1.05"/>
<circle cx="745.60" cy="965.79" r="1.05"/>
<circle cx="752.67" cy="968.90" r="1.05"/>
<circle cx="753.15" cy="965.18" r="1.05"/>
<circle cx="752.72" cy="968.26" r="1.05"/>
<circle cx="740.27" cy="969.02" r="1.05"/>
<circle cx="750.78" cy="966.36" r="1.05"/>
<circle cx="740.97" cy="967.18" r="1.05"/>
<circle cx="726.60" cy="968.06" r="1.05"/>
<circle cx="742.59" cy="966.30" r="1.05"/>
<circle cx="752.06" cy="969.67" r="1.05"/>
<circle cx="729.41" cy="966.35" r="1.05"/>
<circle cx="743.84" cy="964.74" r="1.05"/>
<circle cx="739.76" cy="968.51" r="1.05"/>
<circle cx="727.10" cy="968.06" r="1.05"/>
<circle cx="752.53" cy="968.83" r="1.05"/>
<circle cx="749.89" cy="966.10" r="1.05"/>
<circle cx="730.31" cy="964.37" r="1.05"/>
<circle cx="742.41" cy="966.69" r="1.05"/>
<circle cx="732.90" cy="966.89" r="1.05"/>
<circle cx="727.28" cy="967.23" r="1.05"/>
<circle cx="746.72" cy="966.14" r="1.05"/>
<circle cx="752.03" cy="969.09" r="1.05"/>
<circle cx="751.18" cy="968.89" r="1.05"/>
<circle cx="750.20" cy="965.92" r="1.05"/>
<circle cx="726.78" cy="968.10" r="1.05"/>
<circle cx="755.28" cy="964.06" r="1.05"/>
<circle cx="738.71" cy="968.54" r="1.05"/>
<circle cx="740.66" cy="966.58" r="1.05"/>
<circle cx="743.72" cy="964.94" r="1.05"/>
<circle cx="727.25" cy="966.83" r="1.05"/>
<circle cx="731.88" cy="968.92" r="1.05"/>
<circle cx="753.00" cy="966.76" r="1.05"/>
<circle cx="734.98" cy="966.21" r="1.05"/>
<circle cx="728.95" cy="967.59" r="1.05"/>
<circle cx="743.62" cy="964.51" r="1.05"/>
<circle cx="748.13" cy="965.76" r="1.05"/>
<circle cx="751.11" cy="968.11" r="1.05"/>
<circle cx="729.23" cy="969.62" r="1.05"/>
<circle cx="750.18" cy="964.25" r="1.05"/>
<circle cx="749.87" cy="968.45" r="1.05"/>
<circle cx="727.50" cy="965.66" r="1.05"/>
<circle cx="745.26" cy="964.21" r="1.05"/>
<circle cx="736.40" cy="966.98" r="1.05"/>
<circle cx="744.82" cy="964.89" r="1.05"/>
<circle cx="739.44" cy="968.79" r="1.05"/>
<circle cx="732.95" cy="968.01" r="1.05"/>
<circle cx="731.49" cy="965.35" r="1.05"/>
<circle cx="732.62" cy="968.28" r="1.05"/>
<circle cx="732.98" cy="965.28" r="1.05"/>
<circle cx="749.69" cy="964.84" r="1.05"/>
<circle cx="740.97" cy="967.02" r="1.05"/>
<circle cx="744.33" cy="968.63" r="1.05"/>
<circle cx="739.90" cy="966.02" r="1.05"/>
<circle cx="744.64" cy="964.74" r="1.05"/>
<circle cx="751.16" cy="965.58" r="1.05"/>
<circle cx="752.02" cy="964.43" r="1.05"/>
<circle cx="743.28" cy="966.79" r="1.05"/>
<circle cx="737.58" cy="967.61" r="1.05"/>
<circle cx="743.52" cy="968.65" r="1.05"/>
<circle cx="729.88" cy="968.26" r="1.05"/>
<circle cx="734.80" cy="969.89" r="1.05"/>
<circle cx="734.10" cy="966.57" r="1.05"/>
<circle cx="729.42" cy="969.75" r="1.05"/>
<circle cx="749.70" cy="965.72" r="1.05"/>
<circle cx="727.62" cy="965.02" r="1.05"/>
<circle cx="731.19" cy="968.87" r="1.05"/>
<circle cx="742.06" cy="964.27" r="1.05"/>
<circle cx="727.11" cy="966.35" r="1.05"/>
<circle cx="740.56" cy="964.09" r="1.05"/>
<circle cx="738.29" cy="965.17" r="1.05"/>
<circle cx="749.91" cy="968.73" r="1.05"/>
<circle cx="756.59" cy="969.88" r="1.05"/>
<circle cx="749.37" cy="967.78" r="1.05"/>
<circle cx="745.48" cy="965.68" r="1.05"/>
<circle cx="736.53" cy="965.69" r="1.05"/>
<circle cx="755.29" cy="966.39" r="1.05"/>
<circle cx="730.13" cy="968.76" r="1.05"/>
<circle cx="737.91" cy="967.43" r="1.05"/>
<circle cx="727.50" cy="968.24" r="1.05"/>
<circle cx="740.45" cy="963.97" r="1.05"/>
<circle cx="751.04" cy="966.20" r="1.05"/>
<circle cx="754.96" cy="966.51" r="1.05"/>
<circle cx="736.86" cy="969.19" r="1.05"/>
<circle cx="746.56" cy="954.92" r="1.05"/>
<circle cx="726.32" cy="955.18" r="1.05"/>
<circle cx="729.63" cy="954.08" r="1.05"/>
<circle cx="743.41" cy="958.81" r="1.05"/>
<circle cx="754.96" cy="954.18" r="1.05"/>
<circle cx="741.19" cy="959.64" r="1.05"/>
<circle cx="750.46" cy="954.55" r="1.05"/>
<circle cx="739.52" cy="959.97" r="1.05"/>
<circle cx="743.32" cy="961.52" r="1.05"/>
<circle cx="733.35" cy="953.82" r="1.05"/>
<circle cx="743.45" cy="956.39" r="1.05"/>
<circle cx="733.16" cy="956.62" r="1.05"/>
<circle cx="742.98" cy="957.30" r="1.05"/>
<circle cx="728.63" cy="957.61" r="1.05"/>
<circle cx="753.83" cy="959.50" r="1.05"/>
<circle cx="753.06" cy="963.47" r="1.05"/>
<circle cx="733.37" cy="962.62" r="1.05"/>
<circle cx="735.58" cy="963.53" r="1.05"/>
<circle cx="728.71" cy="960.31" r="1.05"/>
<circle cx="756.28" cy="954.98" r="1.05"/>
<circle cx="738.83" cy="920.26" r="1.05"/>
<circle cx="752.37" cy="944.81" r="1.05"/>
<circle cx="730.88" cy="953.74" r="1.05"/>
<circle cx="731.86" cy="957.37" r="1.05"/>
<circle cx="736.04" cy="957.92" r="1.05"/>
<circle cx="745.11" cy="962.95" r="1.05"/>
<circle cx="753.48" cy="961.83" r="1.05"/>
<circle cx="754.18" cy="964.34" r="1.05"/>
<path d="M762.07,969.50 C761.82,969.27 759.84,968.69 760.54,968.11 C761.23,967.53 764.37,966.71 766.26,966.02 C768.14,965.32 770.50,964.62 771.84,963.92 C773.17,963.23 773.81,962.88 774.28,961.83 C774.74,960.78 774.59,959.51 774.63,957.65 C774.66,955.78 774.49,952.76 774.49,950.67 C774.49,948.58 774.49,946.95 774.63,945.09 C774.77,943.23 775.16,941.60 775.32,939.51 C775.49,937.42 775.57,935.32 775.60,932.53 C775.64,929.74 775.55,924.40 775.53,922.77 L776.51,922.77 C776.50,924.40 776.41,929.74 776.44,932.53 C776.48,935.32 776.56,937.42 776.72,939.51 C776.88,941.60 777.28,943.23 777.42,945.09 C777.56,946.95 777.56,948.58 777.56,950.67 C777.56,952.76 777.38,955.78 777.42,957.65 C777.45,959.51 777.30,960.78 777.77,961.83 C778.23,962.88 778.87,963.23 780.21,963.92 C781.54,964.62 783.90,965.32 785.79,966.02 C787.67,966.71 790.81,967.53 791.51,968.11 C792.21,968.69 790.23,969.27 789.97,969.50 Z" fill="#D4A537" stroke="#1a1a1a" stroke-width="0.85" stroke-linejoin="round"/>
<circle cx="774.05" cy="966.25" r="1.05"/>
<circle cx="778.87" cy="965.37" r="1.05"/>
<circle cx="789.77" cy="965.54" r="1.05"/>
<circle cx="780.40" cy="964.72" r="1.05"/>
<circle cx="767.47" cy="969.56" r="1.05"/>
<circle cx="764.42" cy="968.31" r="1.05"/>
<circle cx="769.53" cy="968.40" r="1.05"/>
<circle cx="777.52" cy="967.77" r="1.05"/>
<circle cx="765.76" cy="968.09" r="1.05"/>
<circle cx="782.10" cy="965.45" r="1.05"/>
<circle cx="772.58" cy="969.11" r="1.05"/>
<circle cx="762.09" cy="966.48" r="1.05"/>
<circle cx="779.75" cy="967.68" r="1.05"/>
<circle cx="763.77" cy="966.01" r="1.05"/>
<circle cx="767.73" cy="966.32" r="1.05"/>
<circle cx="791.10" cy="966.38" r="1.05"/>
<circle cx="772.25" cy="965.94" r="1.05"/>
<circle cx="768.83" cy="968.77" r="1.05"/>
<circle cx="789.67" cy="968.53" r="1.05"/>
<circle cx="763.30" cy="969.50" r="1.05"/>
<circle cx="783.80" cy="964.77" r="1.05"/>
<circle cx="781.52" cy="964.88" r="1.05"/>
<circle cx="773.79" cy="967.36" r="1.05"/>
<circle cx="780.24" cy="969.53" r="1.05"/>
<circle cx="762.23" cy="966.50" r="1.05"/>
<circle cx="772.06" cy="966.06" r="1.05"/>
<circle cx="790.45" cy="968.84" r="1.05"/>
<circle cx="785.76" cy="967.22" r="1.05"/>
<circle cx="775.15" cy="966.66" r="1.05"/>
<circle cx="782.89" cy="969.18" r="1.05"/>
<circle cx="767.45" cy="966.55" r="1.05"/>
<circle cx="767.95" cy="965.43" r="1.05"/>
<circle cx="767.96" cy="965.10" r="1.05"/>
<circle cx="763.70" cy="965.13" r="1.05"/>
<circle cx="784.99" cy="966.08" r="1.05"/>
<circle cx="778.87" cy="967.68" r="1.05"/>
<circle cx="770.70" cy="967.64" r="1.05"/>
<circle cx="770.00" cy="964.72" r="1.05"/>
<circle cx="766.84" cy="966.78" r="1.05"/>
<circle cx="774.08" cy="967.06" r="1.05"/>
<circle cx="775.88" cy="968.87" r="1.05"/>
<circle cx="761.44" cy="969.73" r="1.05"/>
<circle cx="788.32" cy="967.43" r="1.05"/>
<circle cx="787.40" cy="964.68" r="1.05"/>
<circle cx="782.76" cy="967.28" r="1.05"/>
<circle cx="776.06" cy="968.86" r="1.05"/>
<circle cx="767.31" cy="968.10" r="1.05"/>
<circle cx="773.03" cy="965.83" r="1.05"/>
<circle cx="764.87" cy="968.47" r="1.05"/>
<circle cx="762.95" cy="964.83" r="1.05"/>
<circle cx="772.03" cy="967.70" r="1.05"/>
<circle cx="787.79" cy="968.59" r="1.05"/>
<circle cx="769.15" cy="969.50" r="1.05"/>
<circle cx="766.98" cy="965.52" r="1.05"/>
<circle cx="762.54" cy="967.75" r="1.05"/>
<circle cx="790.36" cy="965.14" r="1.05"/>
<circle cx="778.99" cy="965.92" r="1.05"/>
<circle cx="763.05" cy="968.66" r="1.05"/>
<circle cx="771.34" cy="967.04" r="1.05"/>
<circle cx="788.93" cy="968.86" r="1.05"/>
<circle cx="778.31" cy="968.02" r="1.05"/>
<circle cx="775.35" cy="969.52" r="1.05"/>
<circle cx="764.54" cy="966.81" r="1.05"/>
<circle cx="781.47" cy="969.39" r="1.05"/>
<circle cx="766.70" cy="966.78" r="1.05"/>
<circle cx="781.74" cy="967.05" r="1.05"/>
<circle cx="776.72" cy="968.77" r="1.05"/>
<circle cx="783.79" cy="966.07" r="1.05"/>
<circle cx="783.51" cy="966.19" r="1.05"/>
<circle cx="780.65" cy="967.33" r="1.05"/>
<circle cx="768.44" cy="968.17" r="1.05"/>
<circle cx="770.25" cy="966.61" r="1.05"/>
<circle cx="772.09" cy="967.21" r="1.05"/>
<circle cx="773.02" cy="965.17" r="1.05"/>
<circle cx="776.57" cy="966.84" r="1.05"/>
<circle cx="769.31" cy="967.08" r="1.05"/>
<circle cx="762.45" cy="966.96" r="1.05"/>
<circle cx="781.71" cy="965.05" r="1.05"/>
<circle cx="772.53" cy="968.33" r="1.05"/>
<circle cx="760.57" cy="969.27" r="1.05"/>
<circle cx="762.92" cy="968.49" r="1.05"/>
<circle cx="780.12" cy="967.25" r="1.05"/>
<circle cx="782.49" cy="966.95" r="1.05"/>
<circle cx="774.28" cy="967.37" r="1.05"/>
<circle cx="790.36" cy="967.60" r="1.05"/>
<circle cx="779.20" cy="968.34" r="1.05"/>
<circle cx="772.27" cy="968.84" r="1.05"/>
<circle cx="768.17" cy="967.69" r="1.05"/>
<circle cx="765.11" cy="965.50" r="1.05"/>
<circle cx="776.42" cy="965.73" r="1.05"/>
<circle cx="765.86" cy="969.22" r="1.05"/>
<circle cx="771.34" cy="965.48" r="1.05"/>
<circle cx="769.12" cy="964.79" r="1.05"/>
<circle cx="771.50" cy="966.80" r="1.05"/>
<circle cx="763.20" cy="967.93" r="1.05"/>
<circle cx="780.10" cy="967.27" r="1.05"/>
<circle cx="789.43" cy="968.07" r="1.05"/>
<circle cx="772.24" cy="965.00" r="1.05"/>
<circle cx="787.96" cy="968.37" r="1.05"/>
<circle cx="770.59" cy="967.48" r="1.05"/>
<circle cx="780.24" cy="966.70" r="1.05"/>
<circle cx="769.79" cy="965.47" r="1.05"/>
<circle cx="789.43" cy="965.76" r="1.05"/>
<circle cx="781.72" cy="964.86" r="1.05"/>
<circle cx="760.94" cy="967.88" r="1.05"/>
<circle cx="790.93" cy="967.77" r="1.05"/>
<circle cx="777.28" cy="966.59" r="1.05"/>
<circle cx="775.05" cy="965.98" r="1.05"/>
<circle cx="780.25" cy="968.78" r="1.05"/>
<circle cx="787.15" cy="969.81" r="1.05"/>
<circle cx="770.28" cy="965.68" r="1.05"/>
<circle cx="769.47" cy="968.52" r="1.05"/>
<circle cx="777.54" cy="967.56" r="1.05"/>
<circle cx="761.15" cy="965.14" r="1.05"/>
<circle cx="791.36" cy="968.57" r="1.05"/>
<circle cx="781.62" cy="967.94" r="1.05"/>
<circle cx="779.45" cy="965.55" r="1.05"/>
<circle cx="781.61" cy="967.85" r="1.05"/>
<circle cx="782.51" cy="967.56" r="1.05"/>
<circle cx="775.81" cy="965.77" r="1.05"/>
<circle cx="762.85" cy="948.09" r="1.05"/>
<circle cx="775.84" cy="954.46" r="1.05"/>
<circle cx="779.16" cy="953.84" r="1.05"/>
<circle cx="773.42" cy="955.06" r="1.05"/>
<circle cx="770.11" cy="949.08" r="1.05"/>
<circle cx="785.69" cy="962.81" r="1.05"/>
<circle cx="785.70" cy="950.24" r="1.05"/>
<circle cx="789.43" cy="963.51" r="1.05"/>
<circle cx="779.27" cy="961.31" r="1.05"/>
<circle cx="779.03" cy="953.92" r="1.05"/>
<circle cx="785.93" cy="954.71" r="1.05"/>
<circle cx="772.19" cy="955.99" r="1.05"/>
<circle cx="785.99" cy="957.66" r="1.05"/>
<circle cx="777.79" cy="947.78" r="1.05"/>
<circle cx="772.47" cy="949.86" r="1.05"/>
<circle cx="789.77" cy="948.53" r="1.05"/>
<circle cx="786.62" cy="954.04" r="1.05"/>
<circle cx="787.47" cy="956.73" r="1.05"/>
<circle cx="786.00" cy="957.30" r="1.05"/>
<circle cx="779.22" cy="947.50" r="1.05"/>
<circle cx="781.54" cy="960.24" r="1.05"/>
<circle cx="765.74" cy="960.86" r="1.05"/>
<circle cx="775.97" cy="954.26" r="1.05"/>
<circle cx="777.67" cy="962.76" r="1.05"/>
<circle cx="785.12" cy="958.91" r="1.05"/>
<circle cx="766.32" cy="922.77" r="1.05"/>
<circle cx="772.46" cy="923.88" r="1.05"/>
<circle cx="789.06" cy="922.77" r="1.05"/>
<circle cx="770.22" cy="936.72" r="1.05"/>
<circle cx="767.15" cy="941.60" r="1.05"/>
<circle cx="772.32" cy="942.30" r="1.05"/>
<circle cx="768.83" cy="945.09" r="1.05"/>
<circle cx="766.32" cy="949.00" r="1.05"/>
<circle cx="769.53" cy="949.00" r="1.05"/>
<circle cx="779.99" cy="945.79" r="1.05"/>
<circle cx="782.78" cy="949.00" r="1.05"/>
<circle cx="786.69" cy="951.37" r="1.05"/>
<circle cx="778.59" cy="952.06" r="1.05"/>
<circle cx="782.08" cy="954.85" r="1.05"/>
<circle cx="773.01" cy="952.76" r="1.05"/>
<circle cx="768.83" cy="956.95" r="1.05"/>
<circle cx="785.57" cy="956.95" r="1.05"/>
<circle cx="788.36" cy="959.04" r="1.05"/>
<circle cx="787.66" cy="961.83" r="1.05"/>
<circle cx="768.13" cy="961.13" r="1.05"/>
<path d="M796.59,969.50 C796.33,969.34 794.12,968.92 795.05,968.53 C795.98,968.13 800.05,967.55 802.17,967.13 C804.28,966.71 806.61,966.43 807.75,966.02 C808.89,965.60 808.84,965.09 809.00,964.62 C809.16,964.16 808.89,963.69 808.72,963.23 C808.56,962.76 808.12,962.30 808.02,961.83 C807.93,961.37 808.00,960.88 808.16,960.44 C808.33,959.99 808.77,959.53 809.00,959.18 C809.23,958.83 809.47,958.48 809.56,958.34 L811.51,958.34 C811.61,958.48 811.84,958.83 812.07,959.18 C812.30,959.53 812.75,959.99 812.91,960.44 C813.07,960.88 813.14,961.37 813.05,961.83 C812.95,962.30 812.51,962.76 812.35,963.23 C812.19,963.69 811.91,964.16 812.07,964.62 C812.23,965.09 812.19,965.60 813.33,966.02 C814.47,966.43 816.79,966.71 818.91,967.13 C821.02,967.55 825.09,968.13 826.02,968.53 C826.95,968.92 824.74,969.34 824.49,969.50 Z" fill="#5DB642" stroke="#1a1a1a" stroke-width="0.85" stroke-linejoin="round"/>
<circle cx="806.46" cy="969.09" r="1.05"/>
<circle cx="802.30" cy="968.04" r="1.05"/>
<circle cx="800.51" cy="967.86" r="1.05"/>
<circle cx="801.02" cy="967.45" r="1.05"/>
<circle cx="824.71" cy="969.38" r="1.05"/>
<circle cx="796.92" cy="968.39" r="1.05"/>
<circle cx="801.61" cy="968.78" r="1.05"/>
<circle cx="815.88" cy="967.00" r="1.05"/>
<circle cx="812.00" cy="968.26" r="1.05"/>
<circle cx="816.07" cy="968.69" r="1.05"/>
<circle cx="814.07" cy="968.20" r="1.05"/>
<circle cx="798.08" cy="968.00" r="1.05"/>
<circle cx="804.08" cy="967.46" r="1.05"/>
<circle cx="821.57" cy="967.47" r="1.05"/>
<circle cx="811.69" cy="968.08" r="1.05"/>
<circle cx="802.27" cy="967.80" r="1.05"/>
<circle cx="817.58" cy="969.06" r="1.05"/>
<circle cx="813.15" cy="969.27" r="1.05"/>
<circle cx="824.82" cy="968.17" r="1.05"/>
<circle cx="819.22" cy="966.95" r="1.05"/>
<circle cx="800.61" cy="967.49" r="1.05"/>
<circle cx="801.29" cy="967.57" r="1.05"/>
<circle cx="820.20" cy="968.82" r="1.05"/>
<circle cx="824.16" cy="967.63" r="1.05"/>
<circle cx="808.68" cy="967.10" r="1.05"/>
<circle cx="802.25" cy="969.16" r="1.05"/>
<circle cx="806.66" cy="968.66" r="1.05"/>
<circle cx="806.31" cy="968.58" r="1.05"/>
<circle cx="796.72" cy="966.84" r="1.05"/>
<circle cx="808.34" cy="968.04" r="1.05"/>
<circle cx="797.43" cy="958.06" r="1.05"/>
<circle cx="798.12" cy="965.32" r="1.05"/>
<circle cx="815.56" cy="960.16" r="1.05"/>
<circle cx="821.14" cy="960.44" r="1.05"/>
<path d="M830.75,969.50 C830.70,969.34 830.69,969.71 830.47,968.53 C830.25,967.34 829.27,964.57 829.42,962.39 C829.58,960.20 830.62,957.74 831.38,955.41 C832.13,953.09 833.09,950.76 833.96,948.44 C834.83,946.11 835.81,943.93 836.61,941.46 C837.41,939.00 838.09,936.25 838.77,933.65 C839.46,931.05 840.14,928.60 840.73,925.84 C841.31,923.07 841.78,919.98 842.26,917.05 C842.74,914.12 843.19,911.17 843.59,908.26 C843.98,905.35 844.42,901.77 844.63,899.61 C844.85,897.45 844.82,898.19 844.88,895.28 C844.93,892.38 844.93,887.26 844.95,882.17 C844.96,877.08 844.96,870.55 844.95,864.73 C844.93,858.92 844.93,851.64 844.88,847.29 C844.82,842.95 844.74,841.55 844.63,838.64 C844.52,835.74 844.32,832.76 844.21,829.85 C844.11,826.95 844.00,824.11 844.00,821.21 C844.00,818.30 844.14,815.32 844.21,812.42 C844.28,809.51 844.39,805.37 844.42,803.77 C844.46,802.16 844.42,802.95 844.42,802.79 L845.68,802.79 C845.68,802.95 845.64,802.16 845.68,803.77 C845.71,805.37 845.82,809.51 845.89,812.42 C845.96,815.32 846.10,818.30 846.10,821.21 C846.10,824.11 845.99,826.95 845.89,829.85 C845.78,832.76 845.58,835.74 845.47,838.64 C845.36,841.55 845.28,842.95 845.22,847.29 C845.17,851.64 845.17,858.92 845.15,864.73 C845.14,870.55 845.14,877.08 845.15,882.17 C845.17,887.26 845.17,892.38 845.22,895.28 C845.28,898.19 845.25,897.45 845.47,899.61 C845.68,901.77 846.12,905.35 846.51,908.26 C846.91,911.17 847.36,914.12 847.84,917.05 C848.32,919.98 848.79,923.07 849.37,925.84 C849.96,928.60 850.64,931.05 851.33,933.65 C852.01,936.25 852.69,939.00 853.49,941.46 C854.29,943.93 855.27,946.11 856.14,948.44 C857.01,950.76 857.97,953.09 858.72,955.41 C859.48,957.74 860.52,960.20 860.67,962.39 C860.83,964.57 859.85,967.34 859.63,968.53 C859.41,969.71 859.40,969.34 859.35,969.50 Z" fill="#2DBA8F" stroke="#1a1a1a" stroke-width="0.85" stroke-linejoin="round"/>
<circle cx="832.01" cy="948.30" r="1.05"/>
<circle cx="836.74" cy="966.33" r="1.05"/>
<circle cx="838.21" cy="962.94" r="1.05"/>
<circle cx="843.63" cy="954.45" r="1.05"/>
<circle cx="847.14" cy="956.58" r="1.05"/>
<circle cx="832.35" cy="953.56" r="1.05"/>
<circle cx="833.62" cy="956.08" r="1.05"/>
<circle cx="847.04" cy="948.59" r="1.05"/>
<circle cx="851.02" cy="962.47" r="1.05"/>
<circle cx="841.28" cy="950.96" r="1.05"/>
<circle cx="856.51" cy="962.67" r="1.05"/>
<circle cx="854.27" cy="955.90" r="1.05"/>
<circle cx="834.33" cy="949.92" r="1.05"/>
<circle cx="844.23" cy="952.82" r="1.05"/>
<circle cx="837.93" cy="967.74" r="1.05"/>
<circle cx="853.82" cy="957.78" r="1.05"/>
<circle cx="851.77" cy="954.58" r="1.05"/>
<circle cx="854.25" cy="967.34" r="1.05"/>
<circle cx="856.91" cy="953.68" r="1.05"/>
<circle cx="856.23" cy="968.63" r="1.05"/>
<circle cx="840.91" cy="955.05" r="1.05"/>
<circle cx="855.59" cy="966.05" r="1.05"/>
<circle cx="854.34" cy="960.75" r="1.05"/>
<circle cx="836.07" cy="948.88" r="1.05"/>
<circle cx="857.00" cy="948.59" r="1.05"/>
<circle cx="849.64" cy="961.03" r="1.05"/>
<circle cx="834.69" cy="957.31" r="1.05"/>
<circle cx="852.23" cy="967.25" r="1.05"/>
<circle cx="847.34" cy="953.58" r="1.05"/>
<circle cx="851.55" cy="962.93" r="1.05"/>
<circle cx="836.20" cy="951.41" r="1.05"/>
<circle cx="842.18" cy="950.01" r="1.05"/>
<circle cx="849.25" cy="955.46" r="1.05"/>
<circle cx="837.59" cy="953.78" r="1.05"/>
<circle cx="841.18" cy="954.76" r="1.05"/>
<circle cx="846.49" cy="949.14" r="1.05"/>
<circle cx="831.43" cy="963.90" r="1.05"/>
<circle cx="857.80" cy="967.87" r="1.05"/>
<circle cx="831.58" cy="961.52" r="1.05"/>
<circle cx="855.82" cy="957.00" r="1.05"/>
<circle cx="851.21" cy="961.94" r="1.05"/>
<circle cx="835.66" cy="949.23" r="1.05"/>
<circle cx="847.57" cy="957.90" r="1.05"/>
<circle cx="834.82" cy="958.72" r="1.05"/>
<circle cx="833.89" cy="969.03" r="1.05"/>
<circle cx="838.94" cy="959.11" r="1.05"/>
<circle cx="854.73" cy="969.37" r="1.05"/>
<circle cx="852.30" cy="968.68" r="1.05"/>
<circle cx="833.15" cy="958.51" r="1.05"/>
<circle cx="841.86" cy="949.65" r="1.05"/>
<circle cx="838.40" cy="957.06" r="1.05"/>
<circle cx="843.85" cy="961.82" r="1.05"/>
<circle cx="839.44" cy="958.98" r="1.05"/>
<circle cx="848.36" cy="967.46" r="1.05"/>
<circle cx="845.37" cy="965.11" r="1.05"/>
<circle cx="855.42" cy="951.66" r="1.05"/>
<circle cx="844.67" cy="954.96" r="1.05"/>
<circle cx="857.90" cy="966.66" r="1.05"/>
<circle cx="834.90" cy="947.66" r="1.05"/>
<circle cx="836.93" cy="965.14" r="1.05"/>
<circle cx="848.32" cy="960.61" r="1.05"/>
<circle cx="840.96" cy="956.73" r="1.05"/>
<circle cx="833.91" cy="955.76" r="1.05"/>
<circle cx="841.04" cy="966.05" r="1.05"/>
<circle cx="844.81" cy="969.43" r="1.05"/>
<circle cx="836.54" cy="947.40" r="1.05"/>
<circle cx="850.33" cy="956.16" r="1.05"/>
<circle cx="857.39" cy="952.93" r="1.05"/>
<circle cx="847.14" cy="968.33" r="1.05"/>
<circle cx="838.15" cy="950.58" r="1.05"/>
<circle cx="858.15" cy="928.49" r="1.05"/>
<circle cx="851.82" cy="943.72" r="1.05"/>
<circle cx="839.03" cy="931.54" r="1.05"/>
<circle cx="856.38" cy="939.30" r="1.05"/>
<circle cx="849.65" cy="929.95" r="1.05"/>
<circle cx="831.59" cy="937.29" r="1.05"/>
<circle cx="835.83" cy="945.41" r="1.05"/>
<circle cx="847.35" cy="925.86" r="1.05"/>
<circle cx="832.19" cy="945.60" r="1.05"/>
<circle cx="842.01" cy="942.95" r="1.05"/>
<circle cx="847.05" cy="925.66" r="1.05"/>
<circle cx="843.90" cy="926.33" r="1.05"/>
<circle cx="855.66" cy="933.48" r="1.05"/>
<circle cx="842.31" cy="930.35" r="1.05"/>
<circle cx="835.62" cy="927.08" r="1.05"/>
<circle cx="853.46" cy="930.69" r="1.05"/>
<circle cx="838.69" cy="933.29" r="1.05"/>
<circle cx="848.98" cy="926.63" r="1.05"/>
<circle cx="835.99" cy="932.81" r="1.05"/>
<circle cx="855.80" cy="937.48" r="1.05"/>
<circle cx="843.88" cy="803.07" r="1.05"/>
<circle cx="857.83" cy="815.07" r="1.05"/>
<circle cx="843.05" cy="819.81" r="1.05"/>
<circle cx="838.86" cy="824.83" r="1.05"/>
<circle cx="857.00" cy="829.02" r="1.05"/>
<circle cx="856.02" cy="880.22" r="1.05"/>
<circle cx="832.30" cy="889.98" r="1.05"/>
<circle cx="856.02" cy="905.33" r="1.05"/>
<circle cx="835.79" cy="910.91" r="1.05"/>
<circle cx="832.72" cy="915.79" r="1.05"/>
<circle cx="836.49" cy="918.30" r="1.05"/>
<circle cx="835.09" cy="922.07" r="1.05"/>
<circle cx="832.72" cy="925.84" r="1.05"/>
<circle cx="856.72" cy="920.26" r="1.05"/>
<circle cx="853.23" cy="926.26" r="1.05"/>
<circle cx="857.42" cy="926.95" r="1.05"/>
<circle cx="858.11" cy="927.65" r="1.05"/>
<circle cx="833.70" cy="933.65" r="1.05"/>
<circle cx="834.68" cy="936.44" r="1.05"/>
<circle cx="833.00" cy="943.00" r="1.05"/>
<circle cx="831.89" cy="945.79" r="1.05"/>
<circle cx="853.93" cy="940.90" r="1.05"/>
<circle cx="856.02" cy="942.30" r="1.05"/>
<circle cx="854.63" cy="945.79" r="1.05"/>
<path d="M865.61,969.08 C865.36,968.81 863.50,968.04 864.08,967.41 C864.66,966.78 867.45,966.02 869.10,965.32 C870.75,964.62 872.59,963.92 873.98,963.23 C875.38,962.53 876.68,961.83 877.47,961.13 C878.26,960.44 878.45,960.32 878.73,959.04 C879.01,957.76 879.08,955.55 879.15,953.46 C879.22,951.37 879.25,948.11 879.15,946.48 C879.04,944.86 878.74,944.35 878.52,943.69 C878.30,943.04 877.94,942.76 877.82,942.58 L881.31,942.58 C881.19,942.76 880.83,943.04 880.61,943.69 C880.39,944.35 880.09,944.86 879.98,946.48 C879.88,948.11 879.91,951.37 879.98,953.46 C880.05,955.55 880.12,957.76 880.40,959.04 C880.68,960.32 880.87,960.44 881.66,961.13 C882.45,961.83 883.75,962.53 885.14,963.23 C886.54,963.92 888.38,964.62 890.03,965.32 C891.68,966.02 894.47,966.78 895.05,967.41 C895.63,968.04 893.77,968.81 893.51,969.08 Z" fill="#4AB6E8" stroke="#1a1a1a" stroke-width="0.85" stroke-linejoin="round"/>
<circle cx="871.63" cy="967.65" r="1.05"/>
<circle cx="874.82" cy="968.31" r="1.05"/>
<circle cx="867.34" cy="966.07" r="1.05"/>
<circle cx="877.43" cy="967.94" r="1.05"/>
<circle cx="894.14" cy="967.52" r="1.05"/>
<circle cx="869.55" cy="965.99" r="1.05"/>
<circle cx="874.10" cy="965.48" r="1.05"/>
<circle cx="878.72" cy="968.13" r="1.05"/>
<circle cx="878.46" cy="965.96" r="1.05"/>
<circle cx="876.58" cy="967.67" r="1.05"/>
<circle cx="894.69" cy="966.19" r="1.05"/>
<circle cx="885.30" cy="968.47" r="1.05"/>
<circle cx="875.82" cy="965.55" r="1.05"/>
<circle cx="884.73" cy="968.42" r="1.05"/>
<circle cx="886.15" cy="966.05" r="1.05"/>
<circle cx="893.34" cy="966.70" r="1.05"/>
<circle cx="888.11" cy="966.93" r="1.05"/>
<circle cx="882.49" cy="968.23" r="1.05"/>
<circle cx="867.08" cy="966.68" r="1.05"/>
<circle cx="867.56" cy="968.86" r="1.05"/>
<circle cx="878.13" cy="966.74" r="1.05"/>
<circle cx="889.77" cy="968.70" r="1.05"/>
<circle cx="880.43" cy="968.88" r="1.05"/>
<circle cx="873.08" cy="966.47" r="1.05"/>
<circle cx="877.48" cy="965.55" r="1.05"/>
<circle cx="888.11" cy="942.30" r="1.05"/>
<circle cx="868.16" cy="963.92" r="1.05"/>
<circle cx="879.74" cy="959.04" r="1.05"/>
<circle cx="892.99" cy="964.62" r="1.05"/>
<path d="M901.52,968.53 C901.29,968.22 900.53,967.25 900.13,966.71 C899.72,966.18 899.31,965.67 899.08,965.32 C898.85,964.97 898.79,964.74 898.73,964.62 L929.42,964.62 C929.37,964.74 929.31,964.97 929.07,965.32 C928.84,965.67 928.44,966.18 928.03,966.71 C927.62,967.25 926.87,968.22 926.63,968.53 Z" fill="#9C8FD6" stroke="#1a1a1a" stroke-width="0.85" stroke-linejoin="round"/>
<circle cx="904.85" cy="968.11" r="1.05"/>
<circle cx="910.43" cy="965.74" r="1.05"/>
<circle cx="916.71" cy="964.62" r="1.05"/>
<circle cx="924.38" cy="968.11" r="1.05"/>
<path d="M933.59,969.08 C933.51,968.81 932.58,968.04 933.11,967.41 C933.63,966.78 935.43,966.02 936.73,965.32 C938.04,964.62 940.05,963.85 940.92,963.23 C941.79,962.60 941.79,961.83 941.96,961.55 L955.22,961.55 C955.39,961.83 955.39,962.60 956.26,963.23 C957.14,963.85 959.15,964.62 960.45,965.32 C961.75,966.02 963.55,966.78 964.08,967.41 C964.60,968.04 963.67,968.81 963.59,969.08 Z" fill="#D56BB0" stroke="#1a1a1a" stroke-width="0.85" stroke-linejoin="round"/>
<circle cx="935.96" cy="968.81" r="1.05"/>
<circle cx="950.89" cy="968.11" r="1.05"/>
<circle cx="955.49" cy="965.74" r="1.05"/>
<circle cx="960.23" cy="961.55" r="1.05"/>
<path d="M720.8,765.2 V979.2 H969.3" fill="none" stroke="#1a1a1a" stroke-width="1.2"/>
<line x1="716.5999999999999" y1="970.2" x2="720.8" y2="970.2" stroke="#333" stroke-width="1"/>
<text transform="translate(712.90,975.60)" font-size="15.2" text-anchor="end">0.0</text>
<line x1="716.5999999999999" y1="904.9000000000001" x2="720.8" y2="904.9000000000001" stroke="#333" stroke-width="1"/>
<text transform="translate(712.90,910.30)" font-size="15.2" text-anchor="end">0.5</text>
<line x1="716.5999999999999" y1="839.6" x2="720.8" y2="839.6" stroke="#333" stroke-width="1"/>
<text transform="translate(712.90,845.00)" font-size="15.2" text-anchor="end">1.0</text>
<line x1="716.5999999999999" y1="774.3000000000001" x2="720.8" y2="774.3000000000001" stroke="#333" stroke-width="1"/>
<text transform="translate(712.90,779.70)" font-size="15.2" text-anchor="end">1.5</text>
<line x1="741.51" y1="979.2" x2="741.51" y2="983.7" stroke="#333" stroke-width="1"/>
<text transform="translate(749.51,995.40) rotate(-45) scale(0.945,1)" font-size="15.6" text-anchor="end">Fibroblast</text>
<line x1="776.02" y1="979.2" x2="776.02" y2="983.7" stroke="#333" stroke-width="1"/>
<text transform="translate(784.02,995.40) rotate(-45) scale(0.945,1)" font-size="15.6" text-anchor="end">Chondrocyte</text>
<line x1="810.54" y1="979.2" x2="810.54" y2="983.7" stroke="#333" stroke-width="1"/>
<text transform="translate(818.54,995.40) rotate(-45) scale(0.945,1)" font-size="15.6" text-anchor="end">Dividing</text>
<line x1="845.05" y1="979.2" x2="845.05" y2="983.7" stroke="#333" stroke-width="1"/>
<text transform="translate(853.05,995.40) rotate(-45) scale(0.945,1)" font-size="15.6" text-anchor="end">Amacrine</text>
<line x1="879.56" y1="979.2" x2="879.56" y2="983.7" stroke="#333" stroke-width="1"/>
<text transform="translate(887.56,995.40) rotate(-45) scale(0.945,1)" font-size="15.6" text-anchor="end">Glial-like</text>
<line x1="914.08" y1="979.2" x2="914.08" y2="983.7" stroke="#333" stroke-width="1"/>
<text transform="translate(922.08,995.40) rotate(-45) scale(0.945,1)" font-size="15.6" text-anchor="end">NSC</text>
<line x1="948.59" y1="979.2" x2="948.59" y2="983.7" stroke="#333" stroke-width="1"/>
<text transform="translate(956.59,995.40) rotate(-45) scale(0.945,1)" font-size="15.6" text-anchor="end">Corneal Epithelia</text>
<text transform="translate(245.30,1270.65)" font-size="20" font-weight="bold" text-anchor="middle">AAV1</text>
<path d="M142.06,1488.71 C140.90,1487.78 137.53,1485.68 135.09,1483.12 C132.64,1480.57 128.34,1475.45 127.41,1473.36 C126.48,1471.27 127.76,1471.96 129.50,1470.57 C131.25,1469.17 135.55,1466.62 137.88,1464.99 C140.20,1463.36 142.41,1462.20 143.46,1460.80 C144.50,1459.41 144.39,1458.01 144.15,1456.62 C143.92,1455.22 142.53,1453.60 142.06,1452.43 C141.60,1451.27 141.13,1450.81 141.36,1449.64 C141.60,1448.48 142.83,1446.62 143.46,1445.46 C144.08,1444.30 144.85,1445.23 145.13,1442.67 C145.41,1440.11 145.29,1433.13 145.13,1430.11 C144.97,1427.09 144.48,1425.81 144.15,1424.53 C143.83,1423.25 143.34,1422.79 143.18,1422.44 L147.92,1422.44 C147.76,1422.79 147.27,1423.25 146.94,1424.53 C146.62,1425.81 146.13,1427.09 145.97,1430.11 C145.80,1433.13 145.69,1440.11 145.97,1442.67 C146.25,1445.23 147.01,1444.30 147.64,1445.46 C148.27,1446.62 149.50,1448.48 149.73,1449.64 C149.97,1450.81 149.50,1451.27 149.04,1452.43 C148.57,1453.60 147.18,1455.22 146.94,1456.62 C146.71,1458.01 146.59,1459.41 147.64,1460.80 C148.69,1462.20 150.90,1463.36 153.22,1464.99 C155.55,1466.62 159.85,1469.17 161.59,1470.57 C163.34,1471.96 164.61,1471.27 163.68,1473.36 C162.75,1475.45 158.45,1480.57 156.01,1483.12 C153.57,1485.68 150.20,1487.78 149.04,1488.71 Z" fill="#F07670" stroke="#1a1a1a" stroke-width="0.85" stroke-linejoin="round"/>
<circle cx="148.20" cy="1422.44" r="1.05"/>
<circle cx="137.04" cy="1449.64" r="1.05"/>
<circle cx="143.32" cy="1451.04" r="1.05"/>
<circle cx="144.44" cy="1462.90" r="1.05"/>
<circle cx="146.81" cy="1470.29" r="1.05"/>
<circle cx="157.97" cy="1467.78" r="1.05"/>
<circle cx="158.67" cy="1471.96" r="1.05"/>
<circle cx="139.83" cy="1473.08" r="1.05"/>
<circle cx="134.95" cy="1475.87" r="1.05"/>
<circle cx="142.62" cy="1476.85" r="1.05"/>
<circle cx="144.02" cy="1477.54" r="1.05"/>
<circle cx="141.23" cy="1478.24" r="1.05"/>
<circle cx="134.25" cy="1482.43" r="1.05"/>
<circle cx="141.23" cy="1483.12" r="1.05"/>
<circle cx="160.06" cy="1488.71" r="1.05"/>
<path d="M171.68,1490.80 C171.10,1490.33 168.84,1488.82 168.19,1488.01 C167.54,1487.19 167.54,1486.73 167.77,1485.92 C168.00,1485.10 168.82,1484.06 169.59,1483.12 C170.35,1482.19 171.21,1481.38 172.38,1480.33 C173.54,1479.29 175.34,1477.89 176.56,1476.85 C177.78,1475.80 179.03,1475.10 179.70,1474.06 C180.37,1473.01 180.43,1472.66 180.61,1470.57 C180.78,1468.48 180.72,1463.01 180.75,1461.50 L190.51,1461.50 C190.54,1463.01 190.48,1468.48 190.65,1470.57 C190.83,1472.66 190.88,1473.01 191.56,1474.06 C192.23,1475.10 193.48,1475.80 194.70,1476.85 C195.92,1477.89 197.72,1479.29 198.88,1480.33 C200.04,1481.38 200.91,1482.19 201.67,1483.12 C202.44,1484.06 203.25,1485.10 203.49,1485.92 C203.72,1486.73 203.72,1487.19 203.07,1488.01 C202.42,1488.82 200.16,1490.33 199.58,1490.80 Z" fill="#B5A032" stroke="#1a1a1a" stroke-width="0.85" stroke-linejoin="round"/>
<circle cx="193.54" cy="1461.50" r="1.05"/>
<circle cx="181.69" cy="1464.29" r="1.05"/>
<circle cx="172.90" cy="1473.08" r="1.05"/>
<circle cx="177.50" cy="1476.85" r="1.05"/>
<circle cx="180.29" cy="1481.03" r="1.05"/>
<circle cx="172.62" cy="1483.12" r="1.05"/>
<circle cx="171.92" cy="1487.31" r="1.05"/>
<circle cx="172.90" cy="1488.01" r="1.05"/>
<circle cx="201.22" cy="1486.61" r="1.05"/>
<circle cx="201.92" cy="1488.01" r="1.05"/>
<circle cx="187.69" cy="1490.80" r="1.05"/>
<path d="M208.27,1484.52 C208.13,1483.82 207.09,1481.96 207.43,1480.33 C207.78,1478.71 209.41,1476.15 210.36,1474.75 C211.32,1473.36 211.88,1473.36 213.15,1471.96 C214.43,1470.57 216.53,1468.24 218.04,1466.38 C219.55,1464.52 221.23,1462.90 222.22,1460.80 C223.21,1458.71 223.73,1455.92 223.97,1453.83 C224.20,1451.74 223.91,1450.34 223.62,1448.25 C223.33,1446.16 222.75,1443.60 222.22,1441.27 C221.70,1438.95 221.06,1436.85 220.48,1434.30 C219.90,1431.74 219.02,1427.32 218.73,1425.93 L232.69,1425.93 C232.39,1427.32 231.52,1431.74 230.94,1434.30 C230.36,1436.85 229.72,1438.95 229.20,1441.27 C228.67,1443.60 228.09,1446.16 227.80,1448.25 C227.51,1450.34 227.22,1451.74 227.45,1453.83 C227.69,1455.92 228.21,1458.71 229.20,1460.80 C230.19,1462.90 231.87,1464.52 233.38,1466.38 C234.89,1468.24 236.99,1470.57 238.27,1471.96 C239.54,1473.36 240.10,1473.36 241.06,1474.75 C242.01,1476.15 243.64,1478.71 243.99,1480.33 C244.33,1481.96 243.29,1483.82 243.15,1484.52 Z" fill="#2DB04A" stroke="#1a1a1a" stroke-width="0.85" stroke-linejoin="round"/>
<circle cx="211.68" cy="1425.93" r="1.05"/>
<circle cx="223.54" cy="1472.24" r="1.05"/>
<circle cx="211.40" cy="1482.43" r="1.05"/>
<circle cx="240.28" cy="1484.80" r="1.05"/>
<path d="M249.05,1490.38 C248.79,1490.15 246.93,1489.61 247.51,1488.98 C248.10,1488.36 250.89,1487.36 252.54,1486.61 C254.19,1485.87 256.02,1485.22 257.42,1484.52 C258.81,1483.82 260.04,1483.12 260.91,1482.43 C261.78,1481.73 262.05,1481.15 262.65,1480.33 C263.26,1479.52 264.30,1478.36 264.53,1477.54 C264.77,1476.73 264.45,1476.15 264.05,1475.45 C263.64,1474.75 262.42,1473.71 262.09,1473.36 L269.49,1473.36 C269.16,1473.71 267.94,1474.75 267.53,1475.45 C267.13,1476.15 266.81,1476.73 267.05,1477.54 C267.28,1478.36 268.32,1479.52 268.93,1480.33 C269.53,1481.15 269.80,1481.73 270.67,1482.43 C271.55,1483.12 272.77,1483.82 274.16,1484.52 C275.56,1485.22 277.39,1485.87 279.04,1486.61 C280.69,1487.36 283.48,1488.36 284.07,1488.98 C284.65,1489.61 282.79,1490.15 282.53,1490.38 Z" fill="#2BBCC8" stroke="#1a1a1a" stroke-width="0.85" stroke-linejoin="round"/>
<circle cx="253.25" cy="1473.08" r="1.05"/>
<circle cx="270.55" cy="1481.03" r="1.05"/>
<circle cx="256.32" cy="1485.92" r="1.05"/>
<circle cx="263.30" cy="1487.03" r="1.05"/>
<circle cx="266.79" cy="1486.61" r="1.05"/>
<circle cx="260.51" cy="1489.40" r="1.05"/>
<circle cx="250.74" cy="1490.38" r="1.05"/>
<circle cx="273.76" cy="1490.38" r="1.05"/>
<circle cx="279.34" cy="1490.80" r="1.05"/>
<path d="M294.36,1489.40 C294.48,1487.89 295.29,1483.47 295.06,1480.33 C294.83,1477.20 293.84,1473.36 292.97,1470.57 C292.09,1467.78 290.72,1465.80 289.83,1463.59 C288.93,1461.38 287.77,1459.41 287.60,1457.32 C287.42,1455.22 288.53,1452.20 288.78,1451.04 C289.04,1449.88 289.07,1450.46 289.13,1450.34 L322.61,1450.34 C322.67,1450.46 322.71,1449.88 322.96,1451.04 C323.22,1452.20 324.32,1455.22 324.15,1457.32 C323.97,1459.41 322.81,1461.38 321.91,1463.59 C321.02,1465.80 319.65,1467.78 318.78,1470.57 C317.90,1473.36 316.92,1477.20 316.68,1480.33 C316.45,1483.47 317.26,1487.89 317.38,1489.40 Z" fill="#7094CC" stroke="#1a1a1a" stroke-width="0.85" stroke-linejoin="round"/>
<circle cx="304.04" cy="1450.76" r="1.05"/>
<circle cx="306.83" cy="1462.90" r="1.05"/>
<circle cx="317.43" cy="1489.40" r="1.05"/>
<path d="M331.30,1491.50 C330.90,1491.03 329.44,1489.64 328.86,1488.71 C328.28,1487.78 327.41,1486.96 327.82,1485.92 C328.22,1484.87 330.02,1483.59 331.30,1482.43 C332.58,1481.26 334.21,1480.22 335.49,1478.94 C336.77,1477.66 337.99,1476.15 338.98,1474.75 C339.96,1473.36 340.60,1472.43 341.42,1470.57 C342.23,1468.71 343.22,1465.92 343.86,1463.59 C344.50,1461.27 345.07,1458.71 345.25,1456.62 C345.44,1454.53 345.21,1452.67 344.98,1451.04 C344.74,1449.41 344.11,1448.71 343.86,1446.85 C343.60,1444.99 343.52,1442.78 343.44,1439.88 C343.36,1436.97 343.38,1431.16 343.37,1429.41 L348.53,1429.41 C348.52,1431.16 348.54,1436.97 348.46,1439.88 C348.38,1442.78 348.30,1444.99 348.04,1446.85 C347.79,1448.71 347.16,1449.41 346.93,1451.04 C346.70,1452.67 346.46,1454.53 346.65,1456.62 C346.84,1458.71 347.40,1461.27 348.04,1463.59 C348.68,1465.92 349.67,1468.71 350.49,1470.57 C351.30,1472.43 351.94,1473.36 352.93,1474.75 C353.92,1476.15 355.14,1477.66 356.41,1478.94 C357.69,1480.22 359.32,1481.26 360.60,1482.43 C361.88,1483.59 363.68,1484.87 364.09,1485.92 C364.49,1486.96 363.62,1487.78 363.04,1488.71 C362.46,1489.64 361.01,1491.03 360.60,1491.50 Z" fill="#C86FB5" stroke="#1a1a1a" stroke-width="0.85" stroke-linejoin="round"/>
<circle cx="351.89" cy="1429.41" r="1.05"/>
<circle cx="348.40" cy="1441.27" r="1.05"/>
<circle cx="335.84" cy="1464.99" r="1.05"/>
<circle cx="361.65" cy="1474.75" r="1.05"/>
<circle cx="356.77" cy="1477.54" r="1.05"/>
<circle cx="333.05" cy="1484.80" r="1.05"/>
<circle cx="331.66" cy="1485.64" r="1.05"/>
<circle cx="349.10" cy="1483.82" r="1.05"/>
<circle cx="348.40" cy="1487.03" r="1.05"/>
<circle cx="339.33" cy="1488.71" r="1.05"/>
<circle cx="330.96" cy="1489.40" r="1.05"/>
<circle cx="360.96" cy="1491.50" r="1.05"/>
<path d="M121.5,1283.25 V1501.3 H370.0" fill="none" stroke="#1a1a1a" stroke-width="1.2"/>
<line x1="117.3" y1="1493.3" x2="121.5" y2="1493.3" stroke="#333" stroke-width="1"/>
<text transform="translate(113.60,1498.70)" font-size="15.2" text-anchor="end">0.0</text>
<line x1="117.3" y1="1453.3" x2="121.5" y2="1453.3" stroke="#333" stroke-width="1"/>
<text transform="translate(113.60,1458.70)" font-size="15.2" text-anchor="end">0.1</text>
<line x1="117.3" y1="1413.3" x2="121.5" y2="1413.3" stroke="#333" stroke-width="1"/>
<text transform="translate(113.60,1418.70)" font-size="15.2" text-anchor="end">0.2</text>
<line x1="117.3" y1="1373.3" x2="121.5" y2="1373.3" stroke="#333" stroke-width="1"/>
<text transform="translate(113.60,1378.70)" font-size="15.2" text-anchor="end">0.3</text>
<line x1="117.3" y1="1333.3" x2="121.5" y2="1333.3" stroke="#333" stroke-width="1"/>
<text transform="translate(113.60,1338.70)" font-size="15.2" text-anchor="end">0.4</text>
<line x1="117.3" y1="1293.3" x2="121.5" y2="1293.3" stroke="#333" stroke-width="1"/>
<text transform="translate(113.60,1298.70)" font-size="15.2" text-anchor="end">0.5</text>
<line x1="145.55" y1="1501.3" x2="145.55" y2="1505.8" stroke="#333" stroke-width="1"/>
<text transform="translate(153.55,1517.50) rotate(-45) scale(0.945,1)" font-size="15.6" text-anchor="end">Neuron</text>
<line x1="185.63" y1="1501.3" x2="185.63" y2="1505.8" stroke="#333" stroke-width="1"/>
<text transform="translate(193.63,1517.50) rotate(-45) scale(0.945,1)" font-size="15.6" text-anchor="end">Fibroblast</text>
<line x1="225.71" y1="1501.3" x2="225.71" y2="1505.8" stroke="#333" stroke-width="1"/>
<text transform="translate(233.71,1517.50) rotate(-45) scale(0.945,1)" font-size="15.6" text-anchor="end">NSC</text>
<line x1="265.79" y1="1501.3" x2="265.79" y2="1505.8" stroke="#333" stroke-width="1"/>
<text transform="translate(273.79,1517.50) rotate(-45) scale(0.945,1)" font-size="15.6" text-anchor="end">Oligodendrocyte</text>
<line x1="305.87" y1="1501.3" x2="305.87" y2="1505.8" stroke="#333" stroke-width="1"/>
<text transform="translate(313.87,1517.50) rotate(-45) scale(0.945,1)" font-size="15.6" text-anchor="end">Dividing</text>
<line x1="345.95" y1="1501.3" x2="345.95" y2="1505.8" stroke="#333" stroke-width="1"/>
<text transform="translate(353.95,1517.50) rotate(-45) scale(0.945,1)" font-size="15.6" text-anchor="end">Myocyte</text>
<text transform="translate(553.30,1270.65)" font-size="20" font-weight="bold" text-anchor="middle">AAV2</text>
<path d="M440.79,1487.41 C440.15,1486.59 437.97,1484.27 436.95,1482.52 C435.94,1480.78 435.09,1478.80 434.72,1476.94 C434.35,1475.08 434.35,1473.45 434.72,1471.36 C435.09,1469.27 436.06,1466.71 436.95,1464.39 C437.85,1462.06 439.05,1459.74 440.09,1457.41 C441.14,1455.09 442.36,1452.76 443.23,1450.44 C444.10,1448.11 444.74,1445.78 445.33,1443.46 C445.91,1441.13 446.31,1438.81 446.72,1436.48 C447.13,1434.16 447.44,1431.83 447.77,1429.51 C448.09,1427.18 448.48,1425.21 448.67,1422.53 C448.87,1419.86 448.91,1414.98 448.95,1413.47 L451.46,1413.47 C451.51,1414.98 451.55,1419.86 451.74,1422.53 C451.94,1425.21 452.32,1427.18 452.65,1429.51 C452.98,1431.83 453.29,1434.16 453.70,1436.48 C454.10,1438.81 454.51,1441.13 455.09,1443.46 C455.67,1445.78 456.31,1448.11 457.18,1450.44 C458.06,1452.76 459.28,1455.09 460.32,1457.41 C461.37,1459.74 462.57,1462.06 463.46,1464.39 C464.36,1466.71 465.32,1469.27 465.69,1471.36 C466.07,1473.45 466.07,1475.08 465.69,1476.94 C465.32,1478.80 464.47,1480.78 463.46,1482.52 C462.45,1484.27 460.26,1486.59 459.63,1487.41 Z" fill="#F07670" stroke="#1a1a1a" stroke-width="0.85" stroke-linejoin="round"/>
<circle cx="439.57" cy="1486.12" r="1.05"/>
<circle cx="454.37" cy="1477.13" r="1.05"/>
<circle cx="451.35" cy="1486.22" r="1.05"/>
<circle cx="438.74" cy="1479.71" r="1.05"/>
<circle cx="450.70" cy="1486.09" r="1.05"/>
<circle cx="454.78" cy="1468.65" r="1.05"/>
<circle cx="459.96" cy="1483.33" r="1.05"/>
<circle cx="461.79" cy="1478.25" r="1.05"/>
<circle cx="460.86" cy="1484.55" r="1.05"/>
<circle cx="457.51" cy="1474.53" r="1.05"/>
<circle cx="436.24" cy="1486.15" r="1.05"/>
<circle cx="443.60" cy="1467.56" r="1.05"/>
<circle cx="460.09" cy="1460.74" r="1.05"/>
<circle cx="448.15" cy="1464.41" r="1.05"/>
<circle cx="455.58" cy="1479.82" r="1.05"/>
<circle cx="460.45" cy="1468.22" r="1.05"/>
<circle cx="441.51" cy="1467.63" r="1.05"/>
<circle cx="444.07" cy="1466.46" r="1.05"/>
<circle cx="445.11" cy="1466.76" r="1.05"/>
<circle cx="441.47" cy="1475.58" r="1.05"/>
<circle cx="436.42" cy="1465.49" r="1.05"/>
<circle cx="449.38" cy="1464.90" r="1.05"/>
<circle cx="447.95" cy="1457.80" r="1.05"/>
<circle cx="454.75" cy="1483.72" r="1.05"/>
<circle cx="460.10" cy="1467.91" r="1.05"/>
<circle cx="441.52" cy="1463.56" r="1.05"/>
<circle cx="459.95" cy="1485.43" r="1.05"/>
<circle cx="451.85" cy="1457.68" r="1.05"/>
<circle cx="462.06" cy="1473.58" r="1.05"/>
<circle cx="457.63" cy="1479.92" r="1.05"/>
<circle cx="447.86" cy="1475.94" r="1.05"/>
<circle cx="460.23" cy="1478.80" r="1.05"/>
<circle cx="453.59" cy="1460.51" r="1.05"/>
<circle cx="460.98" cy="1465.65" r="1.05"/>
<circle cx="445.96" cy="1467.96" r="1.05"/>
<circle cx="464.55" cy="1469.23" r="1.05"/>
<circle cx="464.08" cy="1457.45" r="1.05"/>
<circle cx="453.89" cy="1457.85" r="1.05"/>
<circle cx="443.30" cy="1468.69" r="1.05"/>
<circle cx="455.18" cy="1474.07" r="1.05"/>
<circle cx="449.04" cy="1481.78" r="1.05"/>
<circle cx="443.86" cy="1481.86" r="1.05"/>
<circle cx="439.28" cy="1481.14" r="1.05"/>
<circle cx="454.54" cy="1471.26" r="1.05"/>
<circle cx="441.96" cy="1465.60" r="1.05"/>
<circle cx="458.60" cy="1477.02" r="1.05"/>
<circle cx="446.23" cy="1472.34" r="1.05"/>
<circle cx="447.03" cy="1463.17" r="1.05"/>
<circle cx="450.30" cy="1478.10" r="1.05"/>
<circle cx="441.08" cy="1472.91" r="1.05"/>
<circle cx="453.01" cy="1459.39" r="1.05"/>
<circle cx="439.09" cy="1468.56" r="1.05"/>
<circle cx="446.75" cy="1484.63" r="1.05"/>
<circle cx="452.05" cy="1484.70" r="1.05"/>
<circle cx="438.87" cy="1458.92" r="1.05"/>
<circle cx="454.30" cy="1477.42" r="1.05"/>
<circle cx="459.55" cy="1473.06" r="1.05"/>
<circle cx="444.52" cy="1466.80" r="1.05"/>
<circle cx="449.26" cy="1462.55" r="1.05"/>
<circle cx="463.56" cy="1473.73" r="1.05"/>
<circle cx="455.09" cy="1476.41" r="1.05"/>
<circle cx="464.66" cy="1460.88" r="1.05"/>
<circle cx="462.32" cy="1465.23" r="1.05"/>
<circle cx="441.89" cy="1486.21" r="1.05"/>
<circle cx="441.07" cy="1465.41" r="1.05"/>
<circle cx="452.31" cy="1458.87" r="1.05"/>
<circle cx="451.82" cy="1487.05" r="1.05"/>
<circle cx="443.21" cy="1474.03" r="1.05"/>
<circle cx="440.03" cy="1464.13" r="1.05"/>
<circle cx="464.11" cy="1460.96" r="1.05"/>
<circle cx="453.18" cy="1463.60" r="1.05"/>
<circle cx="447.28" cy="1461.82" r="1.05"/>
<circle cx="437.06" cy="1480.59" r="1.05"/>
<circle cx="445.04" cy="1466.98" r="1.05"/>
<circle cx="451.62" cy="1480.68" r="1.05"/>
<circle cx="438.18" cy="1471.65" r="1.05"/>
<circle cx="449.68" cy="1477.26" r="1.05"/>
<circle cx="462.09" cy="1481.52" r="1.05"/>
<circle cx="450.25" cy="1482.55" r="1.05"/>
<circle cx="458.63" cy="1479.49" r="1.05"/>
<circle cx="454.87" cy="1466.65" r="1.05"/>
<circle cx="439.17" cy="1464.43" r="1.05"/>
<circle cx="444.72" cy="1479.23" r="1.05"/>
<circle cx="435.87" cy="1465.40" r="1.05"/>
<circle cx="453.85" cy="1477.11" r="1.05"/>
<circle cx="442.52" cy="1479.03" r="1.05"/>
<circle cx="458.62" cy="1474.66" r="1.05"/>
<circle cx="439.21" cy="1467.75" r="1.05"/>
<circle cx="446.22" cy="1470.29" r="1.05"/>
<circle cx="463.05" cy="1484.89" r="1.05"/>
<circle cx="458.72" cy="1480.08" r="1.05"/>
<circle cx="440.67" cy="1479.14" r="1.05"/>
<circle cx="451.22" cy="1473.13" r="1.05"/>
<circle cx="459.11" cy="1474.96" r="1.05"/>
<circle cx="436.39" cy="1481.23" r="1.05"/>
<circle cx="455.65" cy="1468.50" r="1.05"/>
<circle cx="452.64" cy="1457.87" r="1.05"/>
<circle cx="458.54" cy="1464.28" r="1.05"/>
<circle cx="447.82" cy="1463.01" r="1.05"/>
<circle cx="454.13" cy="1471.73" r="1.05"/>
<circle cx="459.61" cy="1487.34" r="1.05"/>
<circle cx="461.36" cy="1475.99" r="1.05"/>
<circle cx="437.80" cy="1480.94" r="1.05"/>
<circle cx="447.44" cy="1485.50" r="1.05"/>
<circle cx="459.74" cy="1485.83" r="1.05"/>
<circle cx="446.83" cy="1464.93" r="1.05"/>
<circle cx="445.69" cy="1481.18" r="1.05"/>
<circle cx="446.66" cy="1479.70" r="1.05"/>
<circle cx="455.99" cy="1473.25" r="1.05"/>
<circle cx="438.73" cy="1463.36" r="1.05"/>
<circle cx="457.93" cy="1450.90" r="1.05"/>
<circle cx="461.71" cy="1446.44" r="1.05"/>
<circle cx="439.25" cy="1436.42" r="1.05"/>
<circle cx="456.36" cy="1422.68" r="1.05"/>
<circle cx="461.44" cy="1441.95" r="1.05"/>
<circle cx="442.79" cy="1436.63" r="1.05"/>
<circle cx="453.50" cy="1454.18" r="1.05"/>
<circle cx="459.90" cy="1448.28" r="1.05"/>
<circle cx="445.99" cy="1447.33" r="1.05"/>
<circle cx="455.18" cy="1445.39" r="1.05"/>
<circle cx="440.62" cy="1419.28" r="1.05"/>
<circle cx="454.16" cy="1427.46" r="1.05"/>
<circle cx="464.15" cy="1417.83" r="1.05"/>
<circle cx="449.65" cy="1421.00" r="1.05"/>
<circle cx="455.44" cy="1424.15" r="1.05"/>
<circle cx="439.92" cy="1431.11" r="1.05"/>
<circle cx="463.45" cy="1454.02" r="1.05"/>
<circle cx="441.66" cy="1454.24" r="1.05"/>
<circle cx="456.96" cy="1429.75" r="1.05"/>
<circle cx="436.87" cy="1429.38" r="1.05"/>
<circle cx="450.30" cy="1455.06" r="1.05"/>
<circle cx="443.83" cy="1449.79" r="1.05"/>
<circle cx="459.00" cy="1437.12" r="1.05"/>
<circle cx="440.16" cy="1437.70" r="1.05"/>
<circle cx="454.05" cy="1423.79" r="1.05"/>
<circle cx="450.66" cy="1447.92" r="1.05"/>
<circle cx="441.55" cy="1429.25" r="1.05"/>
<circle cx="455.26" cy="1441.08" r="1.05"/>
<circle cx="464.00" cy="1438.40" r="1.05"/>
<circle cx="456.33" cy="1453.36" r="1.05"/>
<circle cx="446.14" cy="1422.37" r="1.05"/>
<circle cx="461.80" cy="1418.27" r="1.05"/>
<circle cx="443.16" cy="1451.39" r="1.05"/>
<circle cx="455.91" cy="1431.94" r="1.05"/>
<circle cx="441.05" cy="1441.90" r="1.05"/>
<circle cx="451.30" cy="1428.46" r="1.05"/>
<circle cx="441.24" cy="1432.51" r="1.05"/>
<circle cx="455.58" cy="1438.37" r="1.05"/>
<circle cx="443.61" cy="1433.31" r="1.05"/>
<circle cx="442.74" cy="1454.79" r="1.05"/>
<path d="M474.26,1490.89 C473.39,1490.20 469.26,1488.10 469.03,1486.71 C468.79,1485.31 471.29,1483.92 472.86,1482.52 C474.43,1481.13 476.82,1479.73 478.44,1478.34 C480.07,1476.94 481.68,1475.31 482.63,1474.15 C483.58,1472.99 483.95,1472.52 484.16,1471.36 C484.37,1470.20 483.95,1468.34 483.89,1467.18 C483.82,1466.01 483.70,1465.55 483.75,1464.39 C483.79,1463.22 484.06,1462.53 484.16,1460.20 C484.27,1457.88 484.34,1455.55 484.37,1450.44 C484.41,1445.32 484.37,1436.48 484.37,1429.51 C484.37,1422.53 484.39,1414.86 484.37,1408.58 C484.36,1402.30 484.32,1394.63 484.30,1391.84 L485.14,1391.84 C485.13,1394.63 485.08,1402.30 485.07,1408.58 C485.06,1414.86 485.07,1422.53 485.07,1429.51 C485.07,1436.48 485.04,1445.32 485.07,1450.44 C485.11,1455.55 485.18,1457.88 485.28,1460.20 C485.38,1462.53 485.65,1463.22 485.70,1464.39 C485.75,1465.55 485.63,1466.01 485.56,1467.18 C485.49,1468.34 485.07,1470.20 485.28,1471.36 C485.49,1472.52 485.86,1472.99 486.81,1474.15 C487.77,1475.31 489.37,1476.94 491.00,1478.34 C492.63,1479.73 495.01,1481.13 496.58,1482.52 C498.15,1483.92 500.65,1485.31 500.42,1486.71 C500.18,1488.10 496.06,1490.20 495.19,1490.89 Z" fill="#C9A130" stroke="#1a1a1a" stroke-width="0.85" stroke-linejoin="round"/>
<circle cx="499.79" cy="1484.75" r="1.05"/>
<circle cx="488.19" cy="1479.11" r="1.05"/>
<circle cx="490.81" cy="1478.24" r="1.05"/>
<circle cx="475.95" cy="1481.40" r="1.05"/>
<circle cx="476.02" cy="1488.62" r="1.05"/>
<circle cx="483.27" cy="1487.29" r="1.05"/>
<circle cx="474.59" cy="1482.96" r="1.05"/>
<circle cx="488.14" cy="1484.71" r="1.05"/>
<circle cx="480.52" cy="1486.39" r="1.05"/>
<circle cx="480.13" cy="1487.59" r="1.05"/>
<circle cx="489.21" cy="1478.43" r="1.05"/>
<circle cx="488.91" cy="1486.91" r="1.05"/>
<circle cx="475.54" cy="1485.78" r="1.05"/>
<circle cx="481.65" cy="1489.80" r="1.05"/>
<circle cx="498.56" cy="1484.79" r="1.05"/>
<circle cx="477.54" cy="1482.07" r="1.05"/>
<circle cx="490.24" cy="1490.83" r="1.05"/>
<circle cx="470.81" cy="1487.05" r="1.05"/>
<circle cx="492.44" cy="1485.40" r="1.05"/>
<circle cx="470.75" cy="1488.51" r="1.05"/>
<circle cx="488.68" cy="1485.42" r="1.05"/>
<circle cx="476.94" cy="1483.24" r="1.05"/>
<circle cx="495.95" cy="1489.01" r="1.05"/>
<circle cx="474.26" cy="1480.27" r="1.05"/>
<circle cx="478.48" cy="1486.11" r="1.05"/>
<circle cx="493.28" cy="1490.29" r="1.05"/>
<circle cx="499.81" cy="1483.94" r="1.05"/>
<circle cx="478.88" cy="1483.03" r="1.05"/>
<circle cx="485.79" cy="1490.30" r="1.05"/>
<circle cx="475.35" cy="1478.58" r="1.05"/>
<circle cx="470.73" cy="1481.96" r="1.05"/>
<circle cx="491.43" cy="1482.05" r="1.05"/>
<circle cx="490.99" cy="1487.18" r="1.05"/>
<circle cx="476.99" cy="1489.48" r="1.05"/>
<circle cx="470.46" cy="1485.54" r="1.05"/>
<circle cx="492.55" cy="1478.03" r="1.05"/>
<circle cx="498.89" cy="1490.75" r="1.05"/>
<circle cx="495.42" cy="1481.50" r="1.05"/>
<circle cx="496.82" cy="1480.34" r="1.05"/>
<circle cx="470.72" cy="1489.07" r="1.05"/>
<circle cx="485.92" cy="1483.79" r="1.05"/>
<circle cx="486.81" cy="1480.70" r="1.05"/>
<circle cx="469.52" cy="1490.34" r="1.05"/>
<circle cx="485.07" cy="1480.49" r="1.05"/>
<circle cx="479.80" cy="1478.61" r="1.05"/>
<circle cx="496.34" cy="1487.14" r="1.05"/>
<circle cx="498.34" cy="1490.20" r="1.05"/>
<circle cx="474.12" cy="1481.61" r="1.05"/>
<circle cx="476.60" cy="1478.44" r="1.05"/>
<circle cx="469.66" cy="1483.04" r="1.05"/>
<circle cx="479.50" cy="1391.84" r="1.05"/>
<circle cx="497.36" cy="1453.92" r="1.05"/>
<circle cx="477.13" cy="1459.92" r="1.05"/>
<circle cx="474.34" cy="1464.11" r="1.05"/>
<circle cx="488.71" cy="1466.06" r="1.05"/>
<circle cx="488.99" cy="1474.85" r="1.05"/>
<circle cx="495.69" cy="1476.24" r="1.05"/>
<circle cx="475.04" cy="1476.94" r="1.05"/>
<path d="M507.73,1489.50 C507.32,1488.80 505.99,1487.29 505.29,1485.31 C504.58,1483.34 503.47,1479.96 503.47,1477.64 C503.47,1475.31 504.29,1473.57 505.29,1471.36 C506.29,1469.15 508.08,1466.71 509.47,1464.39 C510.87,1462.06 512.55,1459.74 513.66,1457.41 C514.76,1455.09 515.67,1452.76 516.10,1450.44 C516.53,1448.11 516.21,1446.95 516.24,1443.46 C516.26,1439.97 516.24,1431.83 516.24,1429.51 L522.24,1429.51 C522.24,1431.83 522.21,1439.97 522.24,1443.46 C522.26,1446.95 521.94,1448.11 522.38,1450.44 C522.81,1452.76 523.71,1455.09 524.82,1457.41 C525.92,1459.74 527.61,1462.06 529.00,1464.39 C530.40,1466.71 532.19,1469.15 533.19,1471.36 C534.19,1473.57 535.00,1475.31 535.00,1477.64 C535.00,1479.96 533.90,1483.34 533.19,1485.31 C532.48,1487.29 531.15,1488.80 530.75,1489.50 Z" fill="#58B548" stroke="#1a1a1a" stroke-width="0.85" stroke-linejoin="round"/>
<circle cx="531.12" cy="1429.51" r="1.05"/>
<circle cx="514.80" cy="1445.97" r="1.05"/>
<circle cx="513.82" cy="1460.48" r="1.05"/>
<circle cx="519.40" cy="1470.66" r="1.05"/>
<circle cx="528.33" cy="1467.87" r="1.05"/>
<circle cx="528.05" cy="1478.06" r="1.05"/>
<circle cx="531.96" cy="1476.94" r="1.05"/>
<circle cx="509.22" cy="1481.82" r="1.05"/>
<circle cx="509.64" cy="1483.92" r="1.05"/>
<circle cx="515.77" cy="1483.92" r="1.05"/>
<circle cx="512.71" cy="1489.78" r="1.05"/>
<path d="M543.98,1491.17 C543.29,1490.66 540.79,1488.96 539.80,1488.10 C538.81,1487.24 537.94,1486.94 538.06,1486.01 C538.17,1485.08 539.16,1483.80 540.50,1482.52 C541.83,1481.24 544.33,1479.62 546.08,1478.34 C547.82,1477.06 549.80,1475.90 550.96,1474.85 C552.12,1473.80 552.80,1472.87 553.05,1472.06 C553.31,1471.25 552.61,1470.66 552.49,1469.97 C552.38,1469.27 552.26,1468.57 552.35,1467.87 C552.45,1467.18 552.88,1467.53 553.05,1465.78 C553.23,1464.04 553.38,1460.43 553.40,1457.41 C553.42,1454.39 553.34,1449.97 553.19,1447.65 C553.04,1445.32 552.49,1444.74 552.49,1443.46 C552.49,1442.18 553.03,1442.30 553.19,1439.97 C553.35,1437.65 553.42,1435.90 553.47,1429.51 C553.52,1423.11 553.49,1409.98 553.47,1401.61 C553.45,1393.24 553.52,1383.47 553.33,1379.29 C553.15,1375.10 552.58,1377.19 552.35,1376.50 C552.13,1375.80 552.06,1375.33 552.01,1375.10 L555.49,1375.10 C555.44,1375.33 555.37,1375.80 555.15,1376.50 C554.92,1377.19 554.35,1375.10 554.17,1379.29 C553.98,1383.47 554.05,1393.24 554.03,1401.61 C554.01,1409.98 553.98,1423.11 554.03,1429.51 C554.08,1435.90 554.15,1437.65 554.31,1439.97 C554.47,1442.30 555.01,1442.18 555.01,1443.46 C555.01,1444.74 554.46,1445.32 554.31,1447.65 C554.16,1449.97 554.08,1454.39 554.10,1457.41 C554.12,1460.43 554.27,1464.04 554.45,1465.78 C554.62,1467.53 555.05,1467.18 555.15,1467.87 C555.24,1468.57 555.12,1469.27 555.01,1469.97 C554.89,1470.66 554.19,1471.25 554.45,1472.06 C554.70,1472.87 555.38,1473.80 556.54,1474.85 C557.70,1475.90 559.68,1477.06 561.42,1478.34 C563.17,1479.62 565.67,1481.24 567.00,1482.52 C568.34,1483.80 569.33,1485.08 569.44,1486.01 C569.56,1486.94 568.69,1487.24 567.70,1488.10 C566.71,1488.96 564.21,1490.66 563.52,1491.17 Z" fill="#2DBA8F" stroke="#1a1a1a" stroke-width="0.85" stroke-linejoin="round"/>
<circle cx="544.79" cy="1374.82" r="1.05"/>
<circle cx="557.63" cy="1443.46" r="1.05"/>
<circle cx="554.56" cy="1467.87" r="1.05"/>
<circle cx="546.89" cy="1479.73" r="1.05"/>
<circle cx="547.58" cy="1484.61" r="1.05"/>
<circle cx="550.37" cy="1485.03" r="1.05"/>
<circle cx="551.77" cy="1486.71" r="1.05"/>
<circle cx="546.89" cy="1490.20" r="1.05"/>
<circle cx="561.53" cy="1479.73" r="1.05"/>
<circle cx="562.23" cy="1486.01" r="1.05"/>
<circle cx="565.02" cy="1487.41" r="1.05"/>
<circle cx="567.11" cy="1488.80" r="1.05"/>
<circle cx="558.74" cy="1477.64" r="1.05"/>
<circle cx="553.86" cy="1483.22" r="1.05"/>
<path d="M578.50,1490.20 C577.57,1489.50 573.38,1487.17 572.92,1486.01 C572.45,1484.85 574.55,1484.27 575.71,1483.22 C576.87,1482.17 578.44,1481.01 579.89,1479.73 C581.35,1478.45 583.24,1476.83 584.43,1475.55 C585.61,1474.27 586.51,1472.99 587.01,1472.06 C587.51,1471.13 587.47,1470.90 587.43,1469.97 C587.38,1469.04 586.88,1467.46 586.73,1466.48 C586.58,1465.50 586.55,1464.50 586.52,1464.11 L590.01,1464.11 C589.97,1464.50 589.95,1465.50 589.80,1466.48 C589.65,1467.46 589.15,1469.04 589.10,1469.97 C589.05,1470.90 589.02,1471.13 589.52,1472.06 C590.02,1472.99 590.91,1474.27 592.10,1475.55 C593.29,1476.83 595.18,1478.45 596.63,1479.73 C598.09,1481.01 599.66,1482.17 600.82,1483.22 C601.98,1484.27 604.07,1484.85 603.61,1486.01 C603.14,1487.17 598.96,1489.50 598.03,1490.20 Z" fill="#4AB0E0" stroke="#1a1a1a" stroke-width="0.85" stroke-linejoin="round"/>
<circle cx="580.79" cy="1464.11" r="1.05"/>
<circle cx="598.50" cy="1467.46" r="1.05"/>
<circle cx="598.50" cy="1474.85" r="1.05"/>
<circle cx="592.92" cy="1477.64" r="1.05"/>
<circle cx="590.55" cy="1480.43" r="1.05"/>
<circle cx="579.95" cy="1482.24" r="1.05"/>
<circle cx="586.92" cy="1483.92" r="1.05"/>
<circle cx="600.88" cy="1480.43" r="1.05"/>
<circle cx="588.04" cy="1486.71" r="1.05"/>
<circle cx="588.32" cy="1488.10" r="1.05"/>
<circle cx="581.76" cy="1486.99" r="1.05"/>
<circle cx="575.48" cy="1486.71" r="1.05"/>
<circle cx="578.27" cy="1489.50" r="1.05"/>
<circle cx="597.81" cy="1486.01" r="1.05"/>
<circle cx="598.50" cy="1489.22" r="1.05"/>
<path d="M608.13,1485.31 C607.95,1484.61 607.08,1482.52 607.08,1481.13 C607.08,1479.73 607.75,1478.57 608.13,1476.94 C608.51,1475.31 609.27,1472.99 609.38,1471.36 C609.50,1469.73 608.92,1468.39 608.83,1467.18 C608.73,1465.97 608.83,1464.62 608.83,1464.11 L636.73,1464.11 C636.73,1464.62 636.82,1465.97 636.73,1467.18 C636.64,1468.39 636.05,1469.73 636.17,1471.36 C636.29,1472.99 637.04,1475.31 637.43,1476.94 C637.81,1478.57 638.47,1479.73 638.47,1481.13 C638.47,1482.52 637.60,1484.61 637.43,1485.31 Z" fill="#9488C8" stroke="#1a1a1a" stroke-width="0.85" stroke-linejoin="round"/>
<circle cx="615.94" cy="1464.11" r="1.05"/>
<circle cx="619.01" cy="1464.39" r="1.05"/>
<circle cx="635.19" cy="1470.25" r="1.05"/>
<circle cx="611.76" cy="1480.01" r="1.05"/>
<circle cx="626.41" cy="1480.85" r="1.05"/>
<circle cx="611.06" cy="1485.03" r="1.05"/>
<path d="M642.64,1490.89 C642.50,1489.96 642.02,1487.87 641.81,1485.31 C641.60,1482.75 641.13,1478.57 641.39,1475.55 C641.64,1472.52 642.49,1470.20 643.34,1467.18 C644.19,1464.15 645.61,1460.20 646.48,1457.41 C647.35,1454.62 647.87,1452.76 648.57,1450.44 C649.27,1448.11 650.05,1445.78 650.66,1443.46 C651.28,1441.13 651.78,1438.81 652.27,1436.48 C652.76,1434.16 653.25,1431.83 653.59,1429.51 C653.94,1427.18 654.15,1424.86 654.36,1422.53 C654.57,1420.21 654.65,1419.05 654.85,1415.56 C655.05,1412.07 655.37,1406.26 655.55,1401.61 C655.72,1396.96 655.79,1394.63 655.90,1387.66 C656.00,1380.68 656.08,1369.06 656.18,1359.75 C656.27,1350.45 656.43,1338.83 656.45,1331.85 C656.48,1324.88 656.41,1323.02 656.32,1317.90 C656.22,1312.79 655.97,1303.95 655.90,1301.16 L658.69,1301.16 C658.62,1303.95 658.36,1312.79 658.27,1317.90 C658.18,1323.02 658.11,1324.88 658.13,1331.85 C658.15,1338.83 658.31,1350.45 658.41,1359.75 C658.50,1369.06 658.58,1380.68 658.69,1387.66 C658.79,1394.63 658.86,1396.96 659.04,1401.61 C659.21,1406.26 659.54,1412.07 659.73,1415.56 C659.93,1419.05 660.01,1420.21 660.22,1422.53 C660.43,1424.86 660.64,1427.18 660.99,1429.51 C661.34,1431.83 661.83,1434.16 662.31,1436.48 C662.80,1438.81 663.30,1441.13 663.92,1443.46 C664.53,1445.78 665.31,1448.11 666.01,1450.44 C666.71,1452.76 667.23,1454.62 668.10,1457.41 C668.98,1460.20 670.39,1464.15 671.24,1467.18 C672.09,1470.20 672.94,1472.52 673.20,1475.55 C673.45,1478.57 672.99,1482.75 672.78,1485.31 C672.57,1487.87 672.08,1489.96 671.94,1490.89 Z" fill="#D56BB0" stroke="#1a1a1a" stroke-width="0.85" stroke-linejoin="round"/>
<circle cx="644.96" cy="1301.86" r="1.05"/>
<circle cx="660.31" cy="1348.31" r="1.05"/>
<circle cx="652.91" cy="1365.06" r="1.05"/>
<circle cx="649.42" cy="1390.17" r="1.05"/>
<circle cx="668.68" cy="1422.53" r="1.05"/>
<circle cx="648.03" cy="1438.16" r="1.05"/>
<circle cx="647.75" cy="1453.92" r="1.05"/>
<circle cx="660.31" cy="1456.71" r="1.05"/>
<circle cx="654.73" cy="1458.53" r="1.05"/>
<circle cx="652.21" cy="1465.08" r="1.05"/>
<circle cx="656.12" cy="1465.50" r="1.05"/>
<circle cx="653.89" cy="1478.06" r="1.05"/>
<circle cx="644.54" cy="1486.01" r="1.05"/>
<circle cx="645.94" cy="1487.41" r="1.05"/>
<circle cx="657.79" cy="1486.01" r="1.05"/>
<circle cx="664.49" cy="1483.64" r="1.05"/>
<circle cx="668.26" cy="1485.59" r="1.05"/>
<circle cx="654.31" cy="1488.38" r="1.05"/>
<circle cx="644.96" cy="1489.78" r="1.05"/>
<circle cx="670.35" cy="1489.78" r="1.05"/>
<path d="M429.5,1283.25 V1501.3 H678.0" fill="none" stroke="#1a1a1a" stroke-width="1.2"/>
<line x1="425.3" y1="1492.8" x2="429.5" y2="1492.8" stroke="#333" stroke-width="1"/>
<text transform="translate(421.60,1498.20)" font-size="15.2" text-anchor="end">0.0</text>
<line x1="425.3" y1="1452.86" x2="429.5" y2="1452.86" stroke="#333" stroke-width="1"/>
<text transform="translate(421.60,1458.26)" font-size="15.2" text-anchor="end">0.1</text>
<line x1="425.3" y1="1412.9199999999998" x2="429.5" y2="1412.9199999999998" stroke="#333" stroke-width="1"/>
<text transform="translate(421.60,1418.32)" font-size="15.2" text-anchor="end">0.2</text>
<line x1="425.3" y1="1372.98" x2="429.5" y2="1372.98" stroke="#333" stroke-width="1"/>
<text transform="translate(421.60,1378.38)" font-size="15.2" text-anchor="end">0.3</text>
<line x1="425.3" y1="1333.04" x2="429.5" y2="1333.04" stroke="#333" stroke-width="1"/>
<text transform="translate(421.60,1338.44)" font-size="15.2" text-anchor="end">0.4</text>
<line x1="425.3" y1="1293.1" x2="429.5" y2="1293.1" stroke="#333" stroke-width="1"/>
<text transform="translate(421.60,1298.50)" font-size="15.2" text-anchor="end">0.5</text>
<line x1="450.21" y1="1501.3" x2="450.21" y2="1505.8" stroke="#333" stroke-width="1"/>
<text transform="translate(458.21,1517.50) rotate(-45) scale(0.945,1)" font-size="15.6" text-anchor="end">Neuron</text>
<line x1="484.72" y1="1501.3" x2="484.72" y2="1505.8" stroke="#333" stroke-width="1"/>
<text transform="translate(492.72,1517.50) rotate(-45) scale(0.945,1)" font-size="15.6" text-anchor="end">Fibroblast</text>
<line x1="519.24" y1="1501.3" x2="519.24" y2="1505.8" stroke="#333" stroke-width="1"/>
<text transform="translate(527.24,1517.50) rotate(-45) scale(0.945,1)" font-size="15.6" text-anchor="end">NSC</text>
<line x1="553.75" y1="1501.3" x2="553.75" y2="1505.8" stroke="#333" stroke-width="1"/>
<text transform="translate(561.75,1517.50) rotate(-45) scale(0.945,1)" font-size="15.6" text-anchor="end">Immature Glia</text>
<line x1="588.26" y1="1501.3" x2="588.26" y2="1505.8" stroke="#333" stroke-width="1"/>
<text transform="translate(596.26,1517.50) rotate(-45) scale(0.945,1)" font-size="15.6" text-anchor="end">Oligodendrocyte</text>
<line x1="622.78" y1="1501.3" x2="622.78" y2="1505.8" stroke="#333" stroke-width="1"/>
<text transform="translate(630.78,1517.50) rotate(-45) scale(0.945,1)" font-size="15.6" text-anchor="end">Dividing</text>
<line x1="657.29" y1="1501.3" x2="657.29" y2="1505.8" stroke="#333" stroke-width="1"/>
<text transform="translate(665.29,1517.50) rotate(-45) scale(0.945,1)" font-size="15.6" text-anchor="end">Myocyte</text>
<text transform="translate(860.70,1270.65)" font-size="20" font-weight="bold" text-anchor="middle">AAV6</text>
<path d="M753.07,1489.00 C752.03,1488.34 748.48,1486.67 746.80,1485.09 C745.11,1483.51 743.79,1481.37 742.96,1479.51 C742.13,1477.65 741.73,1475.79 741.84,1473.93 C741.96,1472.07 743.06,1469.74 743.66,1468.35 C744.25,1466.95 744.47,1467.19 745.40,1465.56 C746.33,1463.93 748.13,1460.91 749.24,1458.58 C750.34,1456.26 751.27,1453.93 752.03,1451.61 C752.78,1449.28 753.31,1446.96 753.77,1444.63 C754.24,1442.31 754.50,1439.98 754.82,1437.66 C755.13,1435.33 755.42,1433.01 755.66,1430.68 C755.89,1428.36 756.03,1426.73 756.21,1423.71 C756.40,1420.68 756.60,1415.33 756.77,1412.54 C756.95,1409.75 757.18,1412.08 757.26,1406.96 C757.34,1401.85 757.27,1390.46 757.26,1381.85 C757.25,1373.25 757.20,1359.76 757.19,1355.35 L758.03,1355.35 C758.02,1359.76 757.97,1373.25 757.96,1381.85 C757.95,1390.46 757.88,1401.85 757.96,1406.96 C758.04,1412.08 758.27,1409.75 758.45,1412.54 C758.62,1415.33 758.82,1420.68 759.00,1423.71 C759.19,1426.73 759.33,1428.36 759.56,1430.68 C759.79,1433.01 760.08,1435.33 760.40,1437.66 C760.71,1439.98 760.98,1442.31 761.44,1444.63 C761.91,1446.96 762.43,1449.28 763.19,1451.61 C763.94,1453.93 764.87,1456.26 765.98,1458.58 C767.08,1460.91 768.89,1463.93 769.82,1465.56 C770.75,1467.19 770.97,1466.95 771.56,1468.35 C772.15,1469.74 773.26,1472.07 773.37,1473.93 C773.49,1475.79 773.08,1477.65 772.26,1479.51 C771.43,1481.37 770.11,1483.51 768.42,1485.09 C766.73,1486.67 763.19,1488.34 762.14,1489.00 Z" fill="#F07670" stroke="#1a1a1a" stroke-width="0.85" stroke-linejoin="round"/>
<circle cx="747.57" cy="1466.60" r="1.05"/>
<circle cx="745.45" cy="1468.60" r="1.05"/>
<circle cx="771.46" cy="1463.95" r="1.05"/>
<circle cx="770.04" cy="1472.23" r="1.05"/>
<circle cx="758.71" cy="1464.35" r="1.05"/>
<circle cx="760.97" cy="1460.81" r="1.05"/>
<circle cx="765.94" cy="1472.37" r="1.05"/>
<circle cx="770.83" cy="1460.32" r="1.05"/>
<circle cx="751.96" cy="1467.85" r="1.05"/>
<circle cx="747.23" cy="1482.27" r="1.05"/>
<circle cx="746.96" cy="1478.19" r="1.05"/>
<circle cx="768.18" cy="1473.29" r="1.05"/>
<circle cx="744.61" cy="1464.63" r="1.05"/>
<circle cx="771.64" cy="1474.03" r="1.05"/>
<circle cx="773.08" cy="1474.27" r="1.05"/>
<circle cx="748.90" cy="1487.22" r="1.05"/>
<circle cx="762.30" cy="1479.62" r="1.05"/>
<circle cx="759.26" cy="1487.41" r="1.05"/>
<circle cx="744.15" cy="1465.78" r="1.05"/>
<circle cx="747.36" cy="1484.74" r="1.05"/>
<circle cx="749.69" cy="1480.80" r="1.05"/>
<circle cx="746.15" cy="1479.16" r="1.05"/>
<circle cx="760.77" cy="1462.25" r="1.05"/>
<circle cx="772.34" cy="1465.86" r="1.05"/>
<circle cx="746.47" cy="1486.86" r="1.05"/>
<circle cx="764.60" cy="1459.18" r="1.05"/>
<circle cx="744.25" cy="1487.79" r="1.05"/>
<circle cx="769.16" cy="1459.88" r="1.05"/>
<circle cx="760.94" cy="1473.04" r="1.05"/>
<circle cx="750.77" cy="1480.99" r="1.05"/>
<circle cx="748.37" cy="1470.94" r="1.05"/>
<circle cx="761.37" cy="1460.34" r="1.05"/>
<circle cx="772.39" cy="1486.60" r="1.05"/>
<circle cx="752.87" cy="1469.23" r="1.05"/>
<circle cx="767.05" cy="1473.76" r="1.05"/>
<circle cx="754.35" cy="1463.37" r="1.05"/>
<circle cx="745.46" cy="1474.47" r="1.05"/>
<circle cx="762.98" cy="1460.24" r="1.05"/>
<circle cx="766.59" cy="1466.84" r="1.05"/>
<circle cx="765.83" cy="1480.37" r="1.05"/>
<circle cx="758.25" cy="1470.47" r="1.05"/>
<circle cx="765.76" cy="1462.43" r="1.05"/>
<circle cx="760.54" cy="1470.00" r="1.05"/>
<circle cx="759.59" cy="1474.59" r="1.05"/>
<circle cx="744.78" cy="1464.20" r="1.05"/>
<circle cx="761.02" cy="1479.54" r="1.05"/>
<circle cx="752.60" cy="1459.83" r="1.05"/>
<circle cx="752.88" cy="1487.15" r="1.05"/>
<circle cx="768.03" cy="1486.88" r="1.05"/>
<circle cx="752.08" cy="1461.33" r="1.05"/>
<circle cx="754.54" cy="1463.01" r="1.05"/>
<circle cx="765.59" cy="1458.68" r="1.05"/>
<circle cx="743.33" cy="1468.61" r="1.05"/>
<circle cx="767.41" cy="1461.73" r="1.05"/>
<circle cx="749.31" cy="1467.94" r="1.05"/>
<circle cx="742.71" cy="1471.48" r="1.05"/>
<circle cx="762.22" cy="1488.89" r="1.05"/>
<circle cx="748.86" cy="1488.12" r="1.05"/>
<circle cx="745.80" cy="1472.45" r="1.05"/>
<circle cx="772.35" cy="1478.81" r="1.05"/>
<circle cx="768.66" cy="1476.06" r="1.05"/>
<circle cx="759.60" cy="1466.77" r="1.05"/>
<circle cx="759.55" cy="1468.52" r="1.05"/>
<circle cx="742.38" cy="1471.60" r="1.05"/>
<circle cx="763.68" cy="1462.92" r="1.05"/>
<circle cx="746.50" cy="1477.59" r="1.05"/>
<circle cx="763.00" cy="1465.44" r="1.05"/>
<circle cx="748.35" cy="1458.82" r="1.05"/>
<circle cx="757.07" cy="1465.17" r="1.05"/>
<circle cx="754.72" cy="1481.34" r="1.05"/>
<circle cx="753.48" cy="1488.42" r="1.05"/>
<circle cx="758.05" cy="1483.53" r="1.05"/>
<circle cx="752.99" cy="1460.73" r="1.05"/>
<circle cx="764.19" cy="1483.23" r="1.05"/>
<circle cx="760.57" cy="1484.58" r="1.05"/>
<circle cx="771.31" cy="1469.34" r="1.05"/>
<circle cx="763.94" cy="1474.04" r="1.05"/>
<circle cx="763.98" cy="1478.84" r="1.05"/>
<circle cx="760.87" cy="1482.66" r="1.05"/>
<circle cx="746.58" cy="1484.56" r="1.05"/>
<circle cx="762.59" cy="1479.27" r="1.05"/>
<circle cx="758.06" cy="1477.24" r="1.05"/>
<circle cx="755.45" cy="1482.43" r="1.05"/>
<circle cx="761.92" cy="1473.63" r="1.05"/>
<circle cx="753.65" cy="1479.04" r="1.05"/>
<circle cx="751.94" cy="1471.82" r="1.05"/>
<circle cx="766.78" cy="1483.09" r="1.05"/>
<circle cx="760.49" cy="1476.76" r="1.05"/>
<circle cx="771.75" cy="1474.97" r="1.05"/>
<circle cx="744.69" cy="1469.47" r="1.05"/>
<circle cx="763.51" cy="1479.06" r="1.05"/>
<circle cx="745.33" cy="1482.88" r="1.05"/>
<circle cx="742.77" cy="1479.42" r="1.05"/>
<circle cx="742.46" cy="1480.19" r="1.05"/>
<circle cx="772.15" cy="1471.67" r="1.05"/>
<circle cx="770.52" cy="1479.59" r="1.05"/>
<circle cx="744.37" cy="1480.98" r="1.05"/>
<circle cx="761.14" cy="1481.05" r="1.05"/>
<circle cx="755.20" cy="1466.44" r="1.05"/>
<circle cx="749.62" cy="1474.67" r="1.05"/>
<circle cx="764.73" cy="1463.33" r="1.05"/>
<circle cx="750.16" cy="1475.51" r="1.05"/>
<circle cx="759.66" cy="1479.22" r="1.05"/>
<circle cx="755.83" cy="1462.41" r="1.05"/>
<circle cx="752.37" cy="1470.34" r="1.05"/>
<circle cx="747.26" cy="1465.42" r="1.05"/>
<circle cx="759.30" cy="1481.23" r="1.05"/>
<circle cx="766.52" cy="1474.12" r="1.05"/>
<circle cx="754.21" cy="1475.88" r="1.05"/>
<circle cx="768.71" cy="1476.95" r="1.05"/>
<circle cx="761.66" cy="1471.34" r="1.05"/>
<circle cx="760.42" cy="1478.63" r="1.05"/>
<circle cx="768.11" cy="1481.07" r="1.05"/>
<circle cx="760.10" cy="1461.61" r="1.05"/>
<circle cx="750.86" cy="1477.17" r="1.05"/>
<circle cx="745.01" cy="1480.57" r="1.05"/>
<circle cx="747.67" cy="1484.87" r="1.05"/>
<circle cx="743.92" cy="1488.52" r="1.05"/>
<circle cx="743.98" cy="1464.21" r="1.05"/>
<circle cx="755.98" cy="1460.77" r="1.05"/>
<circle cx="758.16" cy="1454.71" r="1.05"/>
<circle cx="760.25" cy="1422.28" r="1.05"/>
<circle cx="765.75" cy="1434.28" r="1.05"/>
<circle cx="751.85" cy="1446.09" r="1.05"/>
<circle cx="763.56" cy="1440.09" r="1.05"/>
<circle cx="760.71" cy="1455.87" r="1.05"/>
<circle cx="748.88" cy="1442.06" r="1.05"/>
<circle cx="752.37" cy="1436.16" r="1.05"/>
<circle cx="748.62" cy="1439.70" r="1.05"/>
<circle cx="763.88" cy="1418.69" r="1.05"/>
<circle cx="752.20" cy="1456.87" r="1.05"/>
<circle cx="744.07" cy="1456.52" r="1.05"/>
<circle cx="749.88" cy="1426.33" r="1.05"/>
<circle cx="772.05" cy="1432.30" r="1.05"/>
<circle cx="762.39" cy="1436.26" r="1.05"/>
<circle cx="756.84" cy="1448.47" r="1.05"/>
<circle cx="771.24" cy="1421.54" r="1.05"/>
<circle cx="743.72" cy="1431.37" r="1.05"/>
<circle cx="749.55" cy="1451.69" r="1.05"/>
<circle cx="762.61" cy="1414.49" r="1.05"/>
<circle cx="763.63" cy="1432.04" r="1.05"/>
<circle cx="751.10" cy="1437.76" r="1.05"/>
<circle cx="762.59" cy="1414.62" r="1.05"/>
<circle cx="746.31" cy="1425.09" r="1.05"/>
<circle cx="750.30" cy="1457.99" r="1.05"/>
<circle cx="753.87" cy="1437.00" r="1.05"/>
<circle cx="749.11" cy="1450.42" r="1.05"/>
<circle cx="748.67" cy="1440.29" r="1.05"/>
<circle cx="765.37" cy="1442.76" r="1.05"/>
<circle cx="756.65" cy="1440.82" r="1.05"/>
<circle cx="755.53" cy="1355.62" r="1.05"/>
<path d="M781.66,1489.27 C780.79,1488.86 776.66,1487.58 776.43,1486.76 C776.19,1485.95 778.81,1485.37 780.26,1484.39 C781.72,1483.42 783.69,1482.18 785.15,1480.90 C786.60,1479.63 788.00,1478.00 788.98,1476.72 C789.97,1475.44 790.67,1474.39 791.08,1473.23 C791.48,1472.07 791.46,1471.02 791.42,1469.74 C791.39,1468.46 790.96,1466.60 790.87,1465.56 C790.77,1464.51 790.75,1464.40 790.87,1463.47 C790.98,1462.54 791.42,1461.49 791.56,1459.98 C791.70,1458.47 791.79,1455.79 791.70,1454.40 C791.62,1453.00 791.24,1452.19 791.08,1451.61 C790.91,1451.03 790.79,1451.03 790.73,1450.91 L793.52,1450.91 C793.46,1451.03 793.33,1451.03 793.17,1451.61 C793.01,1452.19 792.62,1453.00 792.54,1454.40 C792.46,1455.79 792.54,1458.47 792.68,1459.98 C792.82,1461.49 793.26,1462.54 793.38,1463.47 C793.49,1464.40 793.47,1464.51 793.38,1465.56 C793.28,1466.60 792.85,1468.46 792.82,1469.74 C792.78,1471.02 792.76,1472.07 793.17,1473.23 C793.58,1474.39 794.27,1475.44 795.26,1476.72 C796.25,1478.00 797.64,1479.63 799.10,1480.90 C800.55,1482.18 802.53,1483.42 803.98,1484.39 C805.43,1485.37 808.05,1485.95 807.82,1486.76 C807.58,1487.58 803.46,1488.86 802.59,1489.27 Z" fill="#C9A130" stroke="#1a1a1a" stroke-width="0.85" stroke-linejoin="round"/>
<circle cx="782.31" cy="1487.76" r="1.05"/>
<circle cx="805.74" cy="1484.55" r="1.05"/>
<circle cx="783.25" cy="1488.37" r="1.05"/>
<circle cx="793.99" cy="1485.59" r="1.05"/>
<circle cx="797.82" cy="1485.29" r="1.05"/>
<circle cx="782.44" cy="1486.76" r="1.05"/>
<circle cx="787.73" cy="1486.32" r="1.05"/>
<circle cx="783.73" cy="1482.99" r="1.05"/>
<circle cx="800.65" cy="1485.71" r="1.05"/>
<circle cx="795.22" cy="1486.28" r="1.05"/>
<circle cx="805.64" cy="1483.83" r="1.05"/>
<circle cx="789.97" cy="1482.48" r="1.05"/>
<circle cx="805.19" cy="1489.01" r="1.05"/>
<circle cx="804.71" cy="1485.56" r="1.05"/>
<circle cx="796.61" cy="1486.84" r="1.05"/>
<circle cx="786.66" cy="1486.16" r="1.05"/>
<circle cx="797.51" cy="1483.18" r="1.05"/>
<circle cx="799.47" cy="1484.56" r="1.05"/>
<circle cx="789.46" cy="1484.29" r="1.05"/>
<circle cx="789.39" cy="1489.27" r="1.05"/>
<circle cx="787.55" cy="1487.61" r="1.05"/>
<circle cx="788.82" cy="1487.48" r="1.05"/>
<circle cx="783.88" cy="1482.98" r="1.05"/>
<circle cx="790.64" cy="1486.12" r="1.05"/>
<circle cx="801.69" cy="1489.03" r="1.05"/>
<circle cx="782.74" cy="1472.81" r="1.05"/>
<circle cx="804.08" cy="1477.83" r="1.05"/>
<circle cx="795.99" cy="1478.11" r="1.05"/>
<circle cx="793.20" cy="1479.51" r="1.05"/>
<circle cx="789.71" cy="1464.16" r="1.05"/>
<circle cx="791.80" cy="1450.91" r="1.05"/>
<path d="M813.03,1480.21 C812.80,1479.74 811.95,1478.46 811.64,1477.42 C811.33,1476.37 810.98,1475.21 811.15,1473.93 C811.33,1472.65 812.14,1471.14 812.69,1469.74 C813.23,1468.35 813.96,1467.19 814.43,1465.56 C814.89,1463.93 815.24,1461.49 815.48,1459.98 C815.71,1458.47 815.77,1457.07 815.82,1456.49 L837.45,1456.49 C837.51,1457.07 837.56,1458.47 837.80,1459.98 C838.03,1461.49 838.38,1463.93 838.84,1465.56 C839.31,1467.19 840.04,1468.35 840.59,1469.74 C841.13,1471.14 841.95,1472.65 842.12,1473.93 C842.30,1475.21 841.95,1476.37 841.63,1477.42 C841.32,1478.46 840.47,1479.74 840.24,1480.21 Z" fill="#58B548" stroke="#1a1a1a" stroke-width="0.85" stroke-linejoin="round"/>
<circle cx="817.61" cy="1456.07" r="1.05"/>
<circle cx="835.05" cy="1461.09" r="1.05"/>
<circle cx="839.93" cy="1471.84" r="1.05"/>
<circle cx="834.35" cy="1476.02" r="1.05"/>
<circle cx="826.40" cy="1480.21" r="1.05"/>
<path d="M852.08,1491.37 C851.38,1490.79 848.98,1489.16 847.90,1487.88 C846.82,1486.60 845.71,1485.09 845.59,1483.69 C845.48,1482.30 846.64,1480.67 847.20,1479.51 C847.76,1478.35 848.13,1477.88 848.94,1476.72 C849.76,1475.56 851.21,1473.70 852.08,1472.53 C852.95,1471.37 853.33,1471.37 854.17,1469.74 C855.02,1468.12 856.38,1465.09 857.17,1462.77 C857.96,1460.44 858.37,1457.89 858.92,1455.79 C859.46,1453.70 860.13,1453.23 860.45,1450.21 C860.78,1447.19 860.80,1444.40 860.87,1437.66 C860.94,1430.91 860.87,1421.38 860.87,1409.75 C860.87,1398.13 860.88,1380.46 860.87,1367.90 C860.86,1355.35 860.81,1340.00 860.80,1334.42 L861.50,1334.42 C861.49,1340.00 861.44,1355.35 861.43,1367.90 C861.42,1380.46 861.43,1398.13 861.43,1409.75 C861.43,1421.38 861.36,1430.91 861.43,1437.66 C861.50,1444.40 861.52,1447.19 861.85,1450.21 C862.17,1453.23 862.84,1453.70 863.38,1455.79 C863.93,1457.89 864.34,1460.44 865.13,1462.77 C865.92,1465.09 867.28,1468.12 868.13,1469.74 C868.97,1471.37 869.35,1471.37 870.22,1472.53 C871.09,1473.70 872.54,1475.56 873.36,1476.72 C874.17,1477.88 874.54,1478.35 875.10,1479.51 C875.66,1480.67 876.82,1482.30 876.71,1483.69 C876.59,1485.09 875.48,1486.60 874.40,1487.88 C873.32,1489.16 870.92,1490.79 870.22,1491.37 Z" fill="#2DBA8F" stroke="#1a1a1a" stroke-width="0.85" stroke-linejoin="round"/>
<circle cx="860.57" cy="1467.02" r="1.05"/>
<circle cx="867.94" cy="1477.34" r="1.05"/>
<circle cx="854.84" cy="1489.54" r="1.05"/>
<circle cx="871.26" cy="1485.80" r="1.05"/>
<circle cx="857.89" cy="1488.47" r="1.05"/>
<circle cx="859.68" cy="1490.69" r="1.05"/>
<circle cx="865.76" cy="1489.93" r="1.05"/>
<circle cx="870.79" cy="1480.97" r="1.05"/>
<circle cx="874.84" cy="1466.87" r="1.05"/>
<circle cx="869.16" cy="1470.74" r="1.05"/>
<circle cx="859.64" cy="1477.93" r="1.05"/>
<circle cx="871.33" cy="1470.62" r="1.05"/>
<circle cx="872.82" cy="1477.14" r="1.05"/>
<circle cx="850.22" cy="1488.43" r="1.05"/>
<circle cx="852.27" cy="1477.75" r="1.05"/>
<circle cx="866.49" cy="1490.43" r="1.05"/>
<circle cx="867.66" cy="1484.49" r="1.05"/>
<circle cx="866.37" cy="1464.85" r="1.05"/>
<circle cx="870.14" cy="1475.94" r="1.05"/>
<circle cx="848.61" cy="1468.00" r="1.05"/>
<circle cx="868.88" cy="1487.20" r="1.05"/>
<circle cx="866.82" cy="1487.32" r="1.05"/>
<circle cx="865.64" cy="1471.17" r="1.05"/>
<circle cx="860.75" cy="1475.51" r="1.05"/>
<circle cx="861.00" cy="1463.41" r="1.05"/>
<circle cx="857.56" cy="1475.58" r="1.05"/>
<circle cx="858.81" cy="1476.73" r="1.05"/>
<circle cx="862.06" cy="1489.17" r="1.05"/>
<circle cx="871.67" cy="1485.83" r="1.05"/>
<circle cx="872.41" cy="1487.62" r="1.05"/>
<circle cx="860.81" cy="1484.82" r="1.05"/>
<circle cx="855.14" cy="1467.93" r="1.05"/>
<circle cx="853.08" cy="1488.61" r="1.05"/>
<circle cx="849.71" cy="1483.83" r="1.05"/>
<circle cx="860.42" cy="1467.16" r="1.05"/>
<circle cx="871.09" cy="1474.88" r="1.05"/>
<circle cx="846.99" cy="1483.75" r="1.05"/>
<circle cx="871.60" cy="1486.03" r="1.05"/>
<circle cx="860.27" cy="1489.70" r="1.05"/>
<circle cx="849.63" cy="1462.88" r="1.05"/>
<circle cx="849.25" cy="1479.22" r="1.05"/>
<circle cx="868.28" cy="1479.66" r="1.05"/>
<circle cx="864.14" cy="1481.12" r="1.05"/>
<circle cx="867.26" cy="1488.58" r="1.05"/>
<circle cx="871.12" cy="1478.36" r="1.05"/>
<circle cx="856.99" cy="1465.46" r="1.05"/>
<circle cx="857.57" cy="1476.64" r="1.05"/>
<circle cx="874.48" cy="1472.21" r="1.05"/>
<circle cx="861.01" cy="1480.32" r="1.05"/>
<circle cx="872.47" cy="1472.99" r="1.05"/>
<circle cx="860.82" cy="1480.25" r="1.05"/>
<circle cx="871.60" cy="1468.29" r="1.05"/>
<circle cx="850.08" cy="1464.08" r="1.05"/>
<circle cx="869.44" cy="1465.62" r="1.05"/>
<circle cx="864.99" cy="1491.24" r="1.05"/>
<circle cx="860.51" cy="1463.09" r="1.05"/>
<circle cx="857.87" cy="1474.65" r="1.05"/>
<circle cx="858.29" cy="1463.40" r="1.05"/>
<circle cx="864.65" cy="1474.42" r="1.05"/>
<circle cx="866.34" cy="1481.58" r="1.05"/>
<circle cx="860.43" cy="1481.62" r="1.05"/>
<circle cx="865.64" cy="1484.61" r="1.05"/>
<circle cx="864.31" cy="1466.79" r="1.05"/>
<circle cx="860.74" cy="1464.30" r="1.05"/>
<circle cx="863.60" cy="1483.17" r="1.05"/>
<circle cx="865.25" cy="1477.22" r="1.05"/>
<circle cx="858.91" cy="1467.66" r="1.05"/>
<circle cx="873.61" cy="1488.31" r="1.05"/>
<circle cx="871.15" cy="1485.87" r="1.05"/>
<circle cx="848.08" cy="1477.89" r="1.05"/>
<circle cx="852.49" cy="1363.44" r="1.05"/>
<circle cx="862.26" cy="1420.64" r="1.05"/>
<circle cx="858.77" cy="1435.98" r="1.05"/>
<circle cx="848.72" cy="1455.79" r="1.05"/>
<circle cx="850.40" cy="1466.26" r="1.05"/>
<circle cx="852.91" cy="1470.02" r="1.05"/>
<circle cx="871.32" cy="1471.42" r="1.05"/>
<circle cx="867.84" cy="1471.14" r="1.05"/>
<path d="M885.90,1489.97 C884.97,1489.51 880.67,1488.11 880.32,1487.18 C879.97,1486.25 882.41,1485.44 883.81,1484.39 C885.20,1483.35 887.18,1481.95 888.69,1480.90 C890.20,1479.86 891.83,1479.16 892.87,1478.11 C893.92,1477.07 894.64,1475.67 894.97,1474.63 C895.29,1473.58 894.97,1472.65 894.83,1471.84 C894.69,1471.02 894.28,1470.21 894.13,1469.74 C893.98,1469.28 893.95,1469.16 893.92,1469.05 L897.41,1469.05 C897.37,1469.16 897.35,1469.28 897.20,1469.74 C897.05,1470.21 896.64,1471.02 896.50,1471.84 C896.36,1472.65 896.04,1473.58 896.36,1474.63 C896.69,1475.67 897.41,1477.07 898.45,1478.11 C899.50,1479.16 901.13,1479.86 902.64,1480.90 C904.15,1481.95 906.13,1483.35 907.52,1484.39 C908.92,1485.44 911.36,1486.25 911.01,1487.18 C910.66,1488.11 906.36,1489.51 905.43,1489.97 Z" fill="#4AB0E0" stroke="#1a1a1a" stroke-width="0.85" stroke-linejoin="round"/>
<circle cx="887.37" cy="1469.05" r="1.05"/>
<circle cx="888.76" cy="1482.02" r="1.05"/>
<circle cx="896.44" cy="1487.60" r="1.05"/>
<circle cx="899.92" cy="1489.97" r="1.05"/>
<circle cx="904.11" cy="1483.69" r="1.05"/>
<circle cx="902.71" cy="1487.18" r="1.05"/>
<circle cx="908.99" cy="1489.27" r="1.05"/>
<circle cx="883.88" cy="1487.88" r="1.05"/>
<circle cx="892.25" cy="1487.88" r="1.05"/>
<path d="M914.83,1486.48 C914.86,1485.32 914.80,1483.00 914.97,1479.51 C915.15,1476.02 915.49,1470.21 915.88,1465.56 C916.26,1460.91 916.63,1456.26 917.27,1451.61 C917.91,1446.96 918.90,1441.38 919.71,1437.66 C920.53,1433.94 921.67,1431.38 922.16,1429.29 C922.64,1427.19 922.56,1425.80 922.64,1425.10 L937.71,1425.10 C937.79,1425.80 937.71,1427.19 938.20,1429.29 C938.69,1431.38 939.83,1433.94 940.64,1437.66 C941.45,1441.38 942.44,1446.96 943.08,1451.61 C943.72,1456.26 944.09,1460.91 944.48,1465.56 C944.86,1470.21 945.21,1476.02 945.38,1479.51 C945.56,1483.00 945.50,1485.32 945.52,1486.48 Z" fill="#9488C8" stroke="#1a1a1a" stroke-width="0.85" stroke-linejoin="round"/>
<circle cx="923.64" cy="1425.10" r="1.05"/>
<circle cx="926.01" cy="1449.93" r="1.05"/>
<circle cx="938.99" cy="1449.93" r="1.05"/>
<circle cx="939.96" cy="1482.02" r="1.05"/>
<circle cx="932.71" cy="1486.21" r="1.05"/>
<circle cx="931.31" cy="1486.76" r="1.05"/>
<path d="M953.53,1490.67 C952.95,1489.74 950.79,1486.95 950.04,1485.09 C949.30,1483.23 948.95,1481.37 949.07,1479.51 C949.18,1477.65 949.88,1475.79 950.74,1473.93 C951.60,1472.07 953.01,1470.21 954.23,1468.35 C955.45,1466.49 956.96,1464.40 958.06,1462.77 C959.17,1461.14 960.08,1459.98 960.86,1458.58 C961.63,1457.19 962.24,1456.02 962.74,1454.40 C963.24,1452.77 963.60,1450.68 963.85,1448.82 C964.11,1446.96 964.31,1445.10 964.27,1443.24 C964.24,1441.38 963.83,1439.05 963.65,1437.66 C963.46,1436.26 963.16,1435.80 963.16,1434.87 C963.16,1433.94 963.46,1433.24 963.65,1432.08 C963.83,1430.91 964.16,1431.61 964.27,1427.89 C964.39,1424.17 964.33,1417.43 964.34,1409.75 C964.35,1402.08 964.35,1388.36 964.34,1381.85 C964.33,1375.34 964.45,1373.25 964.27,1370.69 C964.10,1368.13 963.52,1367.48 963.30,1366.51 C963.08,1365.53 963.01,1365.11 962.95,1364.83 L966.44,1364.83 C966.38,1365.11 966.31,1365.53 966.09,1366.51 C965.87,1367.48 965.28,1368.13 965.11,1370.69 C964.94,1373.25 965.05,1375.34 965.04,1381.85 C965.03,1388.36 965.03,1402.08 965.04,1409.75 C965.05,1417.43 964.99,1424.17 965.11,1427.89 C965.23,1431.61 965.55,1430.91 965.74,1432.08 C965.92,1433.24 966.23,1433.94 966.23,1434.87 C966.23,1435.80 965.92,1436.26 965.74,1437.66 C965.55,1439.05 965.15,1441.38 965.11,1443.24 C965.08,1445.10 965.27,1446.96 965.53,1448.82 C965.78,1450.68 966.14,1452.77 966.64,1454.40 C967.14,1456.02 967.75,1457.19 968.53,1458.58 C969.31,1459.98 970.21,1461.14 971.32,1462.77 C972.42,1464.40 973.93,1466.49 975.15,1468.35 C976.38,1470.21 977.78,1472.07 978.64,1473.93 C979.50,1475.79 980.20,1477.65 980.32,1479.51 C980.43,1481.37 980.08,1483.23 979.34,1485.09 C978.60,1486.95 976.43,1489.74 975.85,1490.67 Z" fill="#D56BB0" stroke="#1a1a1a" stroke-width="0.85" stroke-linejoin="round"/>
<circle cx="964.79" cy="1364.83" r="1.05"/>
<circle cx="952.52" cy="1435.15" r="1.05"/>
<circle cx="974.84" cy="1462.07" r="1.05"/>
<circle cx="954.75" cy="1469.05" r="1.05"/>
<circle cx="961.31" cy="1472.53" r="1.05"/>
<circle cx="962.70" cy="1473.65" r="1.05"/>
<circle cx="973.17" cy="1472.81" r="1.05"/>
<circle cx="956.42" cy="1475.04" r="1.05"/>
<circle cx="971.07" cy="1474.63" r="1.05"/>
<circle cx="955.31" cy="1477.42" r="1.05"/>
<circle cx="951.54" cy="1481.18" r="1.05"/>
<circle cx="954.75" cy="1480.90" r="1.05"/>
<circle cx="959.21" cy="1482.30" r="1.05"/>
<circle cx="973.86" cy="1481.60" r="1.05"/>
<circle cx="951.96" cy="1485.79" r="1.05"/>
<circle cx="965.49" cy="1487.88" r="1.05"/>
<circle cx="959.21" cy="1488.16" r="1.05"/>
<circle cx="977.07" cy="1489.97" r="1.05"/>
<path d="M736.9,1283.25 V1501.3 H985.4" fill="none" stroke="#1a1a1a" stroke-width="1.2"/>
<line x1="732.6999999999999" y1="1493.4" x2="736.9" y2="1493.4" stroke="#333" stroke-width="1"/>
<text transform="translate(729.00,1498.80)" font-size="15.2" text-anchor="end">0.0</text>
<line x1="732.6999999999999" y1="1453.3400000000001" x2="736.9" y2="1453.3400000000001" stroke="#333" stroke-width="1"/>
<text transform="translate(729.00,1458.74)" font-size="15.2" text-anchor="end">0.1</text>
<line x1="732.6999999999999" y1="1413.28" x2="736.9" y2="1413.28" stroke="#333" stroke-width="1"/>
<text transform="translate(729.00,1418.68)" font-size="15.2" text-anchor="end">0.2</text>
<line x1="732.6999999999999" y1="1373.22" x2="736.9" y2="1373.22" stroke="#333" stroke-width="1"/>
<text transform="translate(729.00,1378.62)" font-size="15.2" text-anchor="end">0.3</text>
<line x1="732.6999999999999" y1="1333.1599999999999" x2="736.9" y2="1333.1599999999999" stroke="#333" stroke-width="1"/>
<text transform="translate(729.00,1338.56)" font-size="15.2" text-anchor="end">0.4</text>
<line x1="732.6999999999999" y1="1293.1" x2="736.9" y2="1293.1" stroke="#333" stroke-width="1"/>
<text transform="translate(729.00,1298.50)" font-size="15.2" text-anchor="end">0.5</text>
<line x1="757.61" y1="1501.3" x2="757.61" y2="1505.8" stroke="#333" stroke-width="1"/>
<text transform="translate(765.61,1517.50) rotate(-45) scale(0.945,1)" font-size="15.6" text-anchor="end">Neuron</text>
<line x1="792.12" y1="1501.3" x2="792.12" y2="1505.8" stroke="#333" stroke-width="1"/>
<text transform="translate(800.12,1517.50) rotate(-45) scale(0.945,1)" font-size="15.6" text-anchor="end">Fibroblast</text>
<line x1="826.64" y1="1501.3" x2="826.64" y2="1505.8" stroke="#333" stroke-width="1"/>
<text transform="translate(834.64,1517.50) rotate(-45) scale(0.945,1)" font-size="15.6" text-anchor="end">NSC</text>
<line x1="861.15" y1="1501.3" x2="861.15" y2="1505.8" stroke="#333" stroke-width="1"/>
<text transform="translate(869.15,1517.50) rotate(-45) scale(0.945,1)" font-size="15.6" text-anchor="end">Immature Glia</text>
<line x1="895.66" y1="1501.3" x2="895.66" y2="1505.8" stroke="#333" stroke-width="1"/>
<text transform="translate(903.66,1517.50) rotate(-45) scale(0.945,1)" font-size="15.6" text-anchor="end">Oligodendrocyte</text>
<line x1="930.18" y1="1501.3" x2="930.18" y2="1505.8" stroke="#333" stroke-width="1"/>
<text transform="translate(938.18,1517.50) rotate(-45) scale(0.945,1)" font-size="15.6" text-anchor="end">Dividing</text>
<line x1="964.69" y1="1501.3" x2="964.69" y2="1505.8" stroke="#333" stroke-width="1"/>
<text transform="translate(972.69,1517.50) rotate(-45) scale(0.945,1)" font-size="15.6" text-anchor="end">Myocyte</text>
<text transform="translate(245.30,1640.10)" font-size="20" font-weight="bold" text-anchor="middle">AAV7</text>
<path d="M133.13,1860.22 C132.41,1859.40 129.76,1857.31 128.81,1855.33 C127.85,1853.36 127.41,1850.45 127.41,1848.36 C127.41,1846.27 128.17,1844.41 128.81,1842.78 C129.45,1841.15 130.20,1840.22 131.25,1838.59 C132.30,1836.97 133.98,1834.64 135.09,1833.01 C136.19,1831.39 137.04,1830.22 137.88,1828.83 C138.71,1827.43 139.53,1826.04 140.11,1824.64 C140.69,1823.25 141.21,1822.09 141.36,1820.46 C141.51,1818.83 141.39,1816.97 141.01,1814.88 C140.64,1812.78 139.19,1810.23 139.13,1807.90 C139.07,1805.58 140.12,1803.25 140.67,1800.93 C141.21,1798.60 141.94,1796.39 142.41,1793.95 C142.87,1791.51 143.28,1787.56 143.46,1786.28 L147.64,1786.28 C147.82,1787.56 148.22,1791.51 148.69,1793.95 C149.15,1796.39 149.88,1798.60 150.43,1800.93 C150.98,1803.25 152.02,1805.58 151.97,1807.90 C151.91,1810.23 150.45,1812.78 150.08,1814.88 C149.71,1816.97 149.58,1818.83 149.73,1820.46 C149.88,1822.09 150.41,1823.25 150.99,1824.64 C151.57,1826.04 152.38,1827.43 153.22,1828.83 C154.06,1830.22 154.91,1831.39 156.01,1833.01 C157.12,1834.64 158.80,1836.97 159.85,1838.59 C160.89,1840.22 161.65,1841.15 162.29,1842.78 C162.93,1844.41 163.68,1846.27 163.68,1848.36 C163.68,1850.45 163.24,1853.36 162.29,1855.33 C161.34,1857.31 158.69,1859.40 157.96,1860.22 Z" fill="#F07670" stroke="#1a1a1a" stroke-width="0.85" stroke-linejoin="round"/>
<circle cx="137.74" cy="1786.70" r="1.05"/>
<circle cx="130.49" cy="1802.60" r="1.05"/>
<circle cx="138.86" cy="1807.20" r="1.05"/>
<circle cx="151.97" cy="1810.97" r="1.05"/>
<circle cx="159.78" cy="1813.90" r="1.05"/>
<circle cx="130.07" cy="1832.32" r="1.05"/>
<circle cx="133.83" cy="1837.48" r="1.05"/>
<circle cx="134.25" cy="1839.99" r="1.05"/>
<circle cx="151.97" cy="1839.71" r="1.05"/>
<circle cx="150.02" cy="1841.38" r="1.05"/>
<circle cx="154.20" cy="1844.87" r="1.05"/>
<circle cx="149.60" cy="1845.85" r="1.05"/>
<circle cx="139.83" cy="1849.75" r="1.05"/>
<circle cx="155.60" cy="1850.87" r="1.05"/>
<circle cx="143.60" cy="1852.54" r="1.05"/>
<circle cx="152.39" cy="1854.64" r="1.05"/>
<circle cx="134.95" cy="1856.03" r="1.05"/>
<circle cx="134.25" cy="1857.43" r="1.05"/>
<circle cx="146.11" cy="1856.73" r="1.05"/>
<circle cx="139.83" cy="1860.22" r="1.05"/>
<path d="M176.21,1860.64 C176.15,1860.33 176.62,1859.36 175.86,1858.82 C175.11,1858.29 173.07,1857.82 171.68,1857.43 C170.28,1857.03 167.96,1856.68 167.49,1856.45 C167.03,1856.22 168.66,1856.10 168.89,1856.03 L202.37,1856.03 C202.60,1856.10 204.23,1856.22 203.77,1856.45 C203.30,1856.68 200.98,1857.03 199.58,1857.43 C198.18,1857.82 196.15,1858.29 195.39,1858.82 C194.64,1859.36 195.10,1860.33 195.05,1860.64 Z" fill="#BBA032" stroke="#1a1a1a" stroke-width="0.85" stroke-linejoin="round"/>
<circle cx="189.64" cy="1856.73" r="1.05"/>
<circle cx="199.82" cy="1856.03" r="1.05"/>
<circle cx="199.12" cy="1860.64" r="1.05"/>
<path d="M217.20,1860.22 C217.46,1859.87 218.15,1858.82 218.73,1858.12 C219.32,1857.43 220.69,1856.85 220.69,1856.03 C220.69,1855.22 219.76,1854.17 218.73,1853.24 C217.71,1852.31 216.06,1851.38 214.55,1850.45 C213.04,1849.52 210.85,1848.59 209.67,1847.66 C208.48,1846.73 207.32,1845.92 207.43,1844.87 C207.55,1843.83 209.06,1842.55 210.36,1841.38 C211.67,1840.22 214.20,1838.83 215.25,1837.90 C216.29,1836.97 216.37,1836.43 216.64,1835.80 C216.91,1835.18 216.82,1834.41 216.85,1834.13 L234.57,1834.13 C234.60,1834.41 234.51,1835.18 234.78,1835.80 C235.05,1836.43 235.13,1836.97 236.17,1837.90 C237.22,1838.83 239.75,1840.22 241.06,1841.38 C242.36,1842.55 243.87,1843.83 243.99,1844.87 C244.10,1845.92 242.94,1846.73 241.75,1847.66 C240.57,1848.59 238.38,1849.52 236.87,1850.45 C235.36,1851.38 233.71,1852.31 232.69,1853.24 C231.66,1854.17 230.73,1855.22 230.73,1856.03 C230.73,1856.85 232.10,1857.43 232.69,1858.12 C233.27,1858.82 233.96,1859.87 234.22,1860.22 Z" fill="#2DB04A" stroke="#1a1a1a" stroke-width="0.85" stroke-linejoin="round"/>
<circle cx="217.54" cy="1834.13" r="1.05"/>
<circle cx="214.19" cy="1841.66" r="1.05"/>
<circle cx="234.70" cy="1844.87" r="1.05"/>
<circle cx="224.52" cy="1848.64" r="1.05"/>
<circle cx="227.31" cy="1859.80" r="1.05"/>
<path d="M249.05,1855.06 C248.79,1854.82 247.05,1854.20 247.51,1853.66 C247.98,1853.13 250.65,1852.38 251.84,1851.85 C253.03,1851.31 254.05,1850.92 254.63,1850.45 C255.21,1849.99 255.21,1849.29 255.33,1849.06 L276.25,1849.06 C276.37,1849.29 276.37,1849.99 276.95,1850.45 C277.53,1850.92 278.56,1851.31 279.74,1851.85 C280.93,1852.38 283.60,1853.13 284.07,1853.66 C284.53,1854.20 282.79,1854.82 282.53,1855.06 Z" fill="#2BBCC8" stroke="#1a1a1a" stroke-width="0.85" stroke-linejoin="round"/>
<circle cx="263.58" cy="1849.06" r="1.05"/>
<circle cx="268.18" cy="1852.54" r="1.05"/>
<circle cx="254.23" cy="1855.06" r="1.05"/>
<path d="M288.08,1857.85 C288.37,1857.61 288.61,1856.92 289.83,1856.45 C291.05,1855.99 293.55,1855.52 295.41,1855.06 C297.27,1854.59 299.42,1854.20 300.99,1853.66 C302.56,1853.13 304.42,1852.50 304.82,1851.85 C305.23,1851.20 304.07,1850.45 303.43,1849.75 C302.79,1849.06 301.63,1848.31 300.99,1847.66 C300.35,1847.01 299.83,1846.15 299.59,1845.85 L312.15,1845.85 C311.92,1846.15 311.39,1847.01 310.75,1847.66 C310.11,1848.31 308.95,1849.06 308.31,1849.75 C307.67,1850.45 306.51,1851.20 306.92,1851.85 C307.32,1852.50 309.18,1853.13 310.75,1853.66 C312.32,1854.20 314.47,1854.59 316.33,1855.06 C318.19,1855.52 320.69,1855.99 321.91,1856.45 C323.14,1856.92 323.37,1857.61 323.66,1857.85 Z" fill="#7094CC" stroke="#1a1a1a" stroke-width="0.85" stroke-linejoin="round"/>
<circle cx="297.90" cy="1845.85" r="1.05"/>
<circle cx="291.90" cy="1856.45" r="1.05"/>
<circle cx="307.24" cy="1857.43" r="1.05"/>
<circle cx="313.24" cy="1858.12" r="1.05"/>
<circle cx="310.03" cy="1854.64" r="1.05"/>
<path d="M334.44,1859.52 C334.04,1858.82 332.87,1856.96 332.00,1855.33 C331.13,1853.71 329.95,1851.50 329.21,1849.75 C328.47,1848.01 327.65,1846.27 327.54,1844.87 C327.42,1843.48 327.86,1842.62 328.51,1841.38 C329.16,1840.15 330.95,1838.13 331.44,1837.48 L360.46,1837.48 C360.95,1838.13 362.74,1840.15 363.39,1841.38 C364.04,1842.62 364.48,1843.48 364.37,1844.87 C364.25,1846.27 363.44,1848.01 362.69,1849.75 C361.95,1851.50 360.77,1853.71 359.90,1855.33 C359.03,1856.96 357.87,1858.82 357.46,1859.52 Z" fill="#C86FB5" stroke="#1a1a1a" stroke-width="0.85" stroke-linejoin="round"/>
<circle cx="358.86" cy="1837.90" r="1.05"/>
<circle cx="337.94" cy="1844.17" r="1.05"/>
<circle cx="351.19" cy="1848.08" r="1.05"/>
<circle cx="352.58" cy="1849.06" r="1.05"/>
<circle cx="342.82" cy="1856.45" r="1.05"/>
<circle cx="359.28" cy="1859.52" r="1.05"/>
<path d="M121.5,1652.7 V1870.9 H370.0" fill="none" stroke="#1a1a1a" stroke-width="1.2"/>
<line x1="117.3" y1="1863.9" x2="121.5" y2="1863.9" stroke="#333" stroke-width="1"/>
<text transform="translate(113.60,1869.30)" font-size="15.2" text-anchor="end">0.0</text>
<line x1="117.3" y1="1823.5800000000002" x2="121.5" y2="1823.5800000000002" stroke="#333" stroke-width="1"/>
<text transform="translate(113.60,1828.98)" font-size="15.2" text-anchor="end">0.1</text>
<line x1="117.3" y1="1783.26" x2="121.5" y2="1783.26" stroke="#333" stroke-width="1"/>
<text transform="translate(113.60,1788.66)" font-size="15.2" text-anchor="end">0.2</text>
<line x1="117.3" y1="1742.94" x2="121.5" y2="1742.94" stroke="#333" stroke-width="1"/>
<text transform="translate(113.60,1748.34)" font-size="15.2" text-anchor="end">0.3</text>
<line x1="117.3" y1="1702.62" x2="121.5" y2="1702.62" stroke="#333" stroke-width="1"/>
<text transform="translate(113.60,1708.02)" font-size="15.2" text-anchor="end">0.4</text>
<line x1="117.3" y1="1662.3" x2="121.5" y2="1662.3" stroke="#333" stroke-width="1"/>
<text transform="translate(113.60,1667.70)" font-size="15.2" text-anchor="end">0.5</text>
<line x1="145.55" y1="1870.9" x2="145.55" y2="1875.4" stroke="#333" stroke-width="1"/>
<text transform="translate(153.55,1887.10) rotate(-45) scale(0.945,1)" font-size="15.6" text-anchor="end">Neuron</text>
<line x1="185.63" y1="1870.9" x2="185.63" y2="1875.4" stroke="#333" stroke-width="1"/>
<text transform="translate(193.63,1887.10) rotate(-45) scale(0.945,1)" font-size="15.6" text-anchor="end">Fibroblast</text>
<line x1="225.71" y1="1870.9" x2="225.71" y2="1875.4" stroke="#333" stroke-width="1"/>
<text transform="translate(233.71,1887.10) rotate(-45) scale(0.945,1)" font-size="15.6" text-anchor="end">NSC</text>
<line x1="265.79" y1="1870.9" x2="265.79" y2="1875.4" stroke="#333" stroke-width="1"/>
<text transform="translate(273.79,1887.10) rotate(-45) scale(0.945,1)" font-size="15.6" text-anchor="end">Immature Glia</text>
<line x1="305.87" y1="1870.9" x2="305.87" y2="1875.4" stroke="#333" stroke-width="1"/>
<text transform="translate(313.87,1887.10) rotate(-45) scale(0.945,1)" font-size="15.6" text-anchor="end">Oligodendrocyte</text>
<line x1="345.95" y1="1870.9" x2="345.95" y2="1875.4" stroke="#333" stroke-width="1"/>
<text transform="translate(353.95,1887.10) rotate(-45) scale(0.945,1)" font-size="15.6" text-anchor="end">Myocyte</text>
<text transform="translate(553.30,1640.10)" font-size="20" font-weight="bold" text-anchor="middle">AAV8</text>
<path d="M440.93,1855.33 C440.59,1854.64 439.28,1852.31 438.84,1851.15 C438.40,1849.99 437.94,1849.52 438.28,1848.36 C438.63,1847.20 439.74,1845.80 440.93,1844.17 C442.13,1842.55 443.84,1840.45 445.47,1838.59 C447.10,1836.73 449.31,1834.87 450.70,1833.01 C452.10,1831.15 452.85,1829.29 453.84,1827.43 C454.83,1825.57 455.79,1823.95 456.63,1821.85 C457.47,1819.76 458.37,1817.20 458.86,1814.88 C459.35,1812.55 459.49,1810.23 459.56,1807.90 C459.63,1805.58 459.44,1802.79 459.28,1800.93 C459.12,1799.07 458.73,1798.02 458.58,1796.74 C458.43,1795.46 458.41,1793.83 458.37,1793.25 L471.63,1793.25 C471.59,1793.83 471.57,1795.46 471.42,1796.74 C471.27,1798.02 470.88,1799.07 470.72,1800.93 C470.56,1802.79 470.37,1805.58 470.44,1807.90 C470.51,1810.23 470.65,1812.55 471.14,1814.88 C471.63,1817.20 472.53,1819.76 473.37,1821.85 C474.21,1823.95 475.17,1825.57 476.16,1827.43 C477.15,1829.29 477.90,1831.15 479.30,1833.01 C480.69,1834.87 482.90,1836.73 484.53,1838.59 C486.16,1840.45 487.87,1842.55 489.07,1844.17 C490.26,1845.80 491.37,1847.20 491.72,1848.36 C492.06,1849.52 491.60,1849.99 491.16,1851.15 C490.72,1852.31 489.41,1854.64 489.07,1855.33 Z" fill="#2BBCC8" stroke="#1a1a1a" stroke-width="0.85" stroke-linejoin="round"/>
<circle cx="466.67" cy="1793.67" r="1.05"/>
<circle cx="460.81" cy="1820.74" r="1.05"/>
<circle cx="450.62" cy="1842.08" r="1.05"/>
<circle cx="481.73" cy="1841.38" r="1.05"/>
<circle cx="446.44" cy="1851.85" r="1.05"/>
<circle cx="453.83" cy="1854.64" r="1.05"/>
<circle cx="478.11" cy="1855.61" r="1.05"/>
<path d="M511.61,1860.64 C509.24,1860.45 498.19,1859.89 497.38,1859.52 C496.57,1859.15 502.96,1858.82 506.73,1858.40 C510.49,1857.99 517.31,1857.40 519.98,1857.01 C522.66,1856.61 523.00,1856.36 522.77,1856.03 C522.54,1855.71 520.42,1855.36 518.59,1855.06 C516.75,1854.75 512.89,1854.36 511.75,1854.22 L536.58,1854.22 C535.44,1854.36 531.58,1854.75 529.75,1855.06 C527.91,1855.36 525.79,1855.71 525.56,1856.03 C525.33,1856.36 525.68,1856.61 528.35,1857.01 C531.03,1857.40 537.84,1857.99 541.61,1858.40 C545.37,1858.82 551.77,1859.15 550.95,1859.52 C550.14,1859.89 539.09,1860.45 536.72,1860.64 Z" fill="#F07670" stroke="#1a1a1a" stroke-width="0.85" stroke-linejoin="round"/>
<circle cx="519.40" cy="1853.94" r="1.05"/>
<circle cx="522.19" cy="1859.24" r="1.05"/>
<circle cx="531.96" cy="1858.82" r="1.05"/>
<circle cx="544.09" cy="1860.64" r="1.05"/>
<circle cx="544.79" cy="1859.52" r="1.05"/>
<circle cx="564.32" cy="1857.43" r="1.05"/>
<circle cx="592.23" cy="1840.27" r="1.05"/>
<path d="M616.41,1860.36 C616.27,1859.52 614.96,1857.31 615.57,1855.33 C616.19,1853.36 618.23,1850.75 620.11,1848.50 C621.99,1846.24 624.11,1844.62 626.88,1841.80 C629.64,1838.99 634.36,1835.01 636.71,1831.62 C639.06,1828.22 640.06,1825.41 640.97,1821.43 C641.87,1817.46 641.97,1812.30 642.15,1807.76 C642.34,1803.23 642.48,1798.18 642.08,1794.23 C641.69,1790.28 641.09,1787.44 639.78,1784.05 C638.47,1780.65 635.29,1777.14 634.20,1773.86 C633.11,1770.58 633.39,1765.96 633.22,1764.38 L651.78,1764.38 C651.61,1765.96 651.89,1770.58 650.80,1773.86 C649.71,1777.14 646.53,1780.65 645.22,1784.05 C643.91,1787.44 643.31,1790.28 642.92,1794.23 C642.52,1798.18 642.66,1803.23 642.85,1807.76 C643.03,1812.30 643.13,1817.46 644.03,1821.43 C644.94,1825.41 645.94,1828.22 648.29,1831.62 C650.64,1835.01 655.36,1838.99 658.12,1841.80 C660.89,1844.62 663.01,1846.24 664.89,1848.50 C666.77,1850.75 668.81,1853.36 669.43,1855.33 C670.04,1857.31 668.73,1859.52 668.59,1860.36 Z" fill="#7AAF3F" stroke="#1a1a1a" stroke-width="0.85" stroke-linejoin="round"/>
<circle cx="639.94" cy="1764.79" r="1.05"/>
<circle cx="620.69" cy="1860.08" r="1.05"/>
<circle cx="649.56" cy="1855.33" r="1.05"/>
<circle cx="663.10" cy="1855.33" r="1.05"/>
<path d="M429.5,1652.7 V1870.9 H678.0" fill="none" stroke="#1a1a1a" stroke-width="1.2"/>
<line x1="425.3" y1="1863.7" x2="429.5" y2="1863.7" stroke="#333" stroke-width="1"/>
<text transform="translate(421.60,1869.10)" font-size="15.2" text-anchor="end">0.0</text>
<line x1="425.3" y1="1823.42" x2="429.5" y2="1823.42" stroke="#333" stroke-width="1"/>
<text transform="translate(421.60,1828.82)" font-size="15.2" text-anchor="end">0.1</text>
<line x1="425.3" y1="1783.14" x2="429.5" y2="1783.14" stroke="#333" stroke-width="1"/>
<text transform="translate(421.60,1788.54)" font-size="15.2" text-anchor="end">0.2</text>
<line x1="425.3" y1="1742.86" x2="429.5" y2="1742.86" stroke="#333" stroke-width="1"/>
<text transform="translate(421.60,1748.26)" font-size="15.2" text-anchor="end">0.3</text>
<line x1="425.3" y1="1702.58" x2="429.5" y2="1702.58" stroke="#333" stroke-width="1"/>
<text transform="translate(421.60,1707.98)" font-size="15.2" text-anchor="end">0.4</text>
<line x1="425.3" y1="1662.3" x2="429.5" y2="1662.3" stroke="#333" stroke-width="1"/>
<text transform="translate(421.60,1667.70)" font-size="15.2" text-anchor="end">0.5</text>
<line x1="465.00" y1="1870.9" x2="465.00" y2="1875.4" stroke="#333" stroke-width="1"/>
<text transform="translate(473.00,1887.10) rotate(-45) scale(0.945,1)" font-size="15.6" text-anchor="end">Neuron</text>
<line x1="524.17" y1="1870.9" x2="524.17" y2="1875.4" stroke="#333" stroke-width="1"/>
<text transform="translate(532.17,1887.10) rotate(-45) scale(0.945,1)" font-size="15.6" text-anchor="end">Fibroblast</text>
<line x1="583.33" y1="1870.9" x2="583.33" y2="1875.4" stroke="#333" stroke-width="1"/>
<text transform="translate(591.33,1887.10) rotate(-45) scale(0.945,1)" font-size="15.6" text-anchor="end">Oligodendrocyte</text>
<line x1="642.50" y1="1870.9" x2="642.50" y2="1875.4" stroke="#333" stroke-width="1"/>
<text transform="translate(650.50,1887.10) rotate(-45) scale(0.945,1)" font-size="15.6" text-anchor="end">Myocyte</text>
<text transform="translate(860.70,1640.10)" font-size="20" font-weight="bold" text-anchor="middle">AAV9</text>
<path d="M754.97,1860.00 C754.77,1859.40 754.45,1857.92 753.81,1856.43 C753.17,1854.94 752.54,1852.86 751.13,1851.07 C749.71,1849.29 746.71,1847.65 745.32,1845.71 C743.94,1843.78 742.82,1841.25 742.82,1839.46 C742.82,1837.68 743.79,1836.79 745.32,1835.00 C746.86,1833.21 750.13,1830.68 752.02,1828.75 C753.91,1826.82 755.89,1825.57 756.66,1823.39 C757.44,1821.22 756.66,1816.99 756.66,1815.71 L765.23,1815.71 C765.23,1816.99 764.46,1821.22 765.23,1823.39 C766.01,1825.57 767.99,1826.82 769.88,1828.75 C771.77,1830.68 775.04,1833.21 776.57,1835.00 C778.11,1836.79 779.07,1837.68 779.07,1839.46 C779.07,1841.25 777.96,1843.78 776.57,1845.71 C775.19,1847.65 772.18,1849.29 770.77,1851.07 C769.36,1852.86 768.73,1854.94 768.09,1856.43 C767.45,1857.92 767.12,1859.40 766.93,1860.00 Z" fill="#2BBCC8" stroke="#1a1a1a" stroke-width="0.85" stroke-linejoin="round"/>
<circle cx="767.50" cy="1815.71" r="1.05"/>
<circle cx="776.79" cy="1830.00" r="1.05"/>
<circle cx="751.79" cy="1838.57" r="1.05"/>
<circle cx="759.46" cy="1839.82" r="1.05"/>
<circle cx="771.96" cy="1837.32" r="1.05"/>
<circle cx="752.32" cy="1843.93" r="1.05"/>
<circle cx="745.18" cy="1850.18" r="1.05"/>
<circle cx="770.18" cy="1856.79" r="1.05"/>
<circle cx="768.39" cy="1860.00" r="1.05"/>
<circle cx="791.61" cy="1851.07" r="1.05"/>
<circle cx="805.00" cy="1859.11" r="1.05"/>
<path d="M824.15,1854.29 C823.95,1853.45 822.98,1851.01 822.98,1849.29 C822.98,1847.56 823.58,1845.71 824.15,1843.93 C824.71,1842.14 825.48,1840.36 826.38,1838.57 C827.27,1836.79 828.86,1835.00 829.50,1833.21 C830.14,1831.43 830.14,1829.64 830.22,1827.86 C830.29,1826.07 829.99,1823.39 829.95,1822.50 L852.27,1822.50 C852.23,1823.39 851.93,1826.07 852.00,1827.86 C852.08,1829.64 852.08,1831.43 852.72,1833.21 C853.36,1835.00 854.95,1836.79 855.84,1838.57 C856.73,1840.36 857.51,1842.14 858.07,1843.93 C858.64,1845.71 859.23,1847.56 859.23,1849.29 C859.23,1851.01 858.27,1853.45 858.07,1854.29 Z" fill="#7094CC" stroke="#1a1a1a" stroke-width="0.85" stroke-linejoin="round"/>
<circle cx="836.25" cy="1822.86" r="1.05"/>
<circle cx="847.50" cy="1844.29" r="1.05"/>
<circle cx="848.21" cy="1854.29" r="1.05"/>
<path d="M865.12,1856.07 C864.85,1855.95 862.62,1855.65 863.51,1855.36 C864.40,1855.06 867.98,1854.61 870.48,1854.29 C872.98,1853.96 877.80,1853.69 878.51,1853.39 C879.23,1853.10 875.39,1852.65 874.76,1852.50 L887.62,1852.50 C886.99,1852.65 883.15,1853.10 883.87,1853.39 C884.58,1853.69 889.40,1853.96 891.90,1854.29 C894.40,1854.61 897.98,1855.06 898.87,1855.36 C899.76,1855.65 897.53,1855.95 897.26,1856.07 Z" fill="#A8A040" stroke="#1a1a1a" stroke-width="0.85" stroke-linejoin="round"/>
<circle cx="866.61" cy="1855.89" r="1.05"/>
<circle cx="882.68" cy="1852.50" r="1.05"/>
<circle cx="891.61" cy="1856.07" r="1.05"/>
<circle cx="907.68" cy="1860.00" r="1.05"/>
<path d="M944.66,1860.36 C944.76,1860.00 945.03,1858.87 945.28,1858.21 C945.53,1857.56 946.47,1857.08 946.17,1856.43 C945.88,1855.77 943.87,1855.00 943.49,1854.29 C943.12,1853.57 943.87,1852.50 943.94,1852.14 L978.76,1852.14 C978.84,1852.50 979.58,1853.57 979.21,1854.29 C978.84,1855.00 976.83,1855.77 976.53,1856.43 C976.23,1857.08 977.17,1857.56 977.42,1858.21 C977.68,1858.87 977.94,1860.00 978.05,1860.36 Z" fill="#2DB04A" stroke="#1a1a1a" stroke-width="0.85" stroke-linejoin="round"/>
<circle cx="948.75" cy="1856.07" r="1.05"/>
<circle cx="963.04" cy="1852.14" r="1.05"/>
<circle cx="967.86" cy="1852.50" r="1.05"/>
<circle cx="958.93" cy="1860.89" r="1.05"/>
<circle cx="970.18" cy="1860.54" r="1.05"/>
<path d="M736.9,1652.7 V1870.9 H985.4" fill="none" stroke="#1a1a1a" stroke-width="1.2"/>
<line x1="732.6999999999999" y1="1865.4" x2="736.9" y2="1865.4" stroke="#333" stroke-width="1"/>
<text transform="translate(729.00,1870.80)" font-size="15.2" text-anchor="end">0.0</text>
<line x1="732.6999999999999" y1="1824.8200000000002" x2="736.9" y2="1824.8200000000002" stroke="#333" stroke-width="1"/>
<text transform="translate(729.00,1830.22)" font-size="15.2" text-anchor="end">0.1</text>
<line x1="732.6999999999999" y1="1784.24" x2="736.9" y2="1784.24" stroke="#333" stroke-width="1"/>
<text transform="translate(729.00,1789.64)" font-size="15.2" text-anchor="end">0.2</text>
<line x1="732.6999999999999" y1="1743.66" x2="736.9" y2="1743.66" stroke="#333" stroke-width="1"/>
<text transform="translate(729.00,1749.06)" font-size="15.2" text-anchor="end">0.3</text>
<line x1="732.6999999999999" y1="1703.08" x2="736.9" y2="1703.08" stroke="#333" stroke-width="1"/>
<text transform="translate(729.00,1708.48)" font-size="15.2" text-anchor="end">0.4</text>
<line x1="732.6999999999999" y1="1662.5" x2="736.9" y2="1662.5" stroke="#333" stroke-width="1"/>
<text transform="translate(729.00,1667.90)" font-size="15.2" text-anchor="end">0.5</text>
<line x1="760.95" y1="1870.9" x2="760.95" y2="1875.4" stroke="#333" stroke-width="1"/>
<text transform="translate(768.95,1887.10) rotate(-45) scale(0.945,1)" font-size="15.6" text-anchor="end">Neuron</text>
<line x1="801.03" y1="1870.9" x2="801.03" y2="1875.4" stroke="#333" stroke-width="1"/>
<text transform="translate(809.03,1887.10) rotate(-45) scale(0.945,1)" font-size="15.6" text-anchor="end">Fibroblast</text>
<line x1="841.11" y1="1870.9" x2="841.11" y2="1875.4" stroke="#333" stroke-width="1"/>
<text transform="translate(849.11,1887.10) rotate(-45) scale(0.945,1)" font-size="15.6" text-anchor="end">NSC</text>
<line x1="881.19" y1="1870.9" x2="881.19" y2="1875.4" stroke="#333" stroke-width="1"/>
<text transform="translate(889.19,1887.10) rotate(-45) scale(0.945,1)" font-size="15.6" text-anchor="end">Immature Glia</text>
<line x1="921.27" y1="1870.9" x2="921.27" y2="1875.4" stroke="#333" stroke-width="1"/>
<text transform="translate(929.27,1887.10) rotate(-45) scale(0.945,1)" font-size="15.6" text-anchor="end">Oligodendrocyte</text>
<line x1="961.35" y1="1870.9" x2="961.35" y2="1875.4" stroke="#333" stroke-width="1"/>
<text transform="translate(969.35,1887.10) rotate(-45) scale(0.945,1)" font-size="15.6" text-anchor="end">Myocyte</text>
<text transform="translate(245.30,2009.40)" font-size="20" font-weight="bold" text-anchor="middle">AAVrh10</text>
<path d="M128.39,2223.55 C128.21,2223.27 126.81,2222.57 127.30,2221.88 C127.79,2221.18 129.39,2220.20 131.32,2219.37 C133.24,2218.53 137.67,2217.69 138.85,2216.85 C140.04,2216.02 138.88,2215.26 138.43,2214.34 C137.99,2213.42 136.55,2211.83 136.17,2211.33 L154.92,2211.33 C154.55,2211.83 153.11,2213.42 152.66,2214.34 C152.22,2215.26 151.06,2216.02 152.25,2216.85 C153.43,2217.69 157.85,2218.53 159.78,2219.37 C161.70,2220.20 163.31,2221.18 163.80,2221.88 C164.29,2222.57 162.89,2223.27 162.71,2223.55 Z" fill="#2BBCC8" stroke="#1a1a1a" stroke-width="0.85" stroke-linejoin="round"/>
<circle cx="133.24" cy="2210.99" r="1.05"/>
<circle cx="143.28" cy="2220.70" r="1.05"/>
<circle cx="159.52" cy="2223.55" r="1.05"/>
<circle cx="200.54" cy="2229.75" r="1.05"/>
<circle cx="239.38" cy="2216.85" r="1.05"/>
<circle cx="278.90" cy="2229.75" r="1.05"/>
<circle cx="302.67" cy="2221.04" r="1.05"/>
<circle cx="347.87" cy="2228.57" r="1.05"/>
<circle cx="349.88" cy="2227.40" r="1.05"/>
<path d="M121.5,2022.0 V2240.0 H370.0" fill="none" stroke="#1a1a1a" stroke-width="1.2"/>
<line x1="117.3" y1="2237.3" x2="121.5" y2="2237.3" stroke="#333" stroke-width="1"/>
<text transform="translate(113.60,2242.70)" font-size="15.2" text-anchor="end">0.0</text>
<line x1="117.3" y1="2196.2200000000003" x2="121.5" y2="2196.2200000000003" stroke="#333" stroke-width="1"/>
<text transform="translate(113.60,2201.62)" font-size="15.2" text-anchor="end">0.1</text>
<line x1="117.3" y1="2155.1400000000003" x2="121.5" y2="2155.1400000000003" stroke="#333" stroke-width="1"/>
<text transform="translate(113.60,2160.54)" font-size="15.2" text-anchor="end">0.2</text>
<line x1="117.3" y1="2114.06" x2="121.5" y2="2114.06" stroke="#333" stroke-width="1"/>
<text transform="translate(113.60,2119.46)" font-size="15.2" text-anchor="end">0.3</text>
<line x1="117.3" y1="2072.98" x2="121.5" y2="2072.98" stroke="#333" stroke-width="1"/>
<text transform="translate(113.60,2078.38)" font-size="15.2" text-anchor="end">0.4</text>
<line x1="117.3" y1="2031.9" x2="121.5" y2="2031.9" stroke="#333" stroke-width="1"/>
<text transform="translate(113.60,2037.30)" font-size="15.2" text-anchor="end">0.5</text>
<line x1="145.55" y1="2240.0" x2="145.55" y2="2244.5" stroke="#333" stroke-width="1"/>
<text transform="translate(153.55,2256.20) rotate(-45) scale(0.945,1)" font-size="15.6" text-anchor="end">Neuron</text>
<line x1="185.63" y1="2240.0" x2="185.63" y2="2244.5" stroke="#333" stroke-width="1"/>
<text transform="translate(193.63,2256.20) rotate(-45) scale(0.945,1)" font-size="15.6" text-anchor="end">Fibroblast</text>
<line x1="225.71" y1="2240.0" x2="225.71" y2="2244.5" stroke="#333" stroke-width="1"/>
<text transform="translate(233.71,2256.20) rotate(-45) scale(0.945,1)" font-size="15.6" text-anchor="end">NSC</text>
<line x1="265.79" y1="2240.0" x2="265.79" y2="2244.5" stroke="#333" stroke-width="1"/>
<text transform="translate(273.79,2256.20) rotate(-45) scale(0.945,1)" font-size="15.6" text-anchor="end">Immature Glia</text>
<line x1="305.87" y1="2240.0" x2="305.87" y2="2244.5" stroke="#333" stroke-width="1"/>
<text transform="translate(313.87,2256.20) rotate(-45) scale(0.945,1)" font-size="15.6" text-anchor="end">Oligodendrocyte</text>
<line x1="345.95" y1="2240.0" x2="345.95" y2="2244.5" stroke="#333" stroke-width="1"/>
<text transform="translate(353.95,2256.20) rotate(-45) scale(0.945,1)" font-size="15.6" text-anchor="end">Myocyte</text>
<text transform="translate(553.30,2009.40)" font-size="20" font-weight="bold" text-anchor="middle">AAVDJ</text>
<path d="M446.02,2229.75 C445.19,2228.85 442.53,2226.40 441.00,2224.39 C439.47,2222.38 437.86,2219.92 436.81,2217.69 C435.77,2215.46 434.86,2213.23 434.72,2210.99 C434.58,2208.76 435.42,2206.53 435.98,2204.30 C436.54,2202.07 437.23,2199.83 438.07,2197.60 C438.91,2195.37 440.16,2193.42 441.00,2190.90 C441.84,2188.39 442.47,2185.32 443.09,2182.53 C443.72,2179.74 444.21,2176.95 444.77,2174.16 C445.33,2171.37 445.91,2168.58 446.44,2165.79 C446.97,2163.00 447.60,2159.65 447.95,2157.42 C448.30,2155.19 448.44,2153.23 448.53,2152.40 L451.88,2152.40 C451.98,2153.23 452.12,2155.19 452.47,2157.42 C452.82,2159.65 453.45,2163.00 453.98,2165.79 C454.51,2168.58 455.09,2171.37 455.65,2174.16 C456.21,2176.95 456.70,2179.74 457.32,2182.53 C457.95,2185.32 458.58,2188.39 459.42,2190.90 C460.25,2193.42 461.51,2195.37 462.35,2197.60 C463.18,2199.83 463.88,2202.07 464.44,2204.30 C465.00,2206.53 465.83,2208.76 465.69,2210.99 C465.56,2213.23 464.65,2215.46 463.60,2217.69 C462.56,2219.92 460.95,2222.38 459.42,2224.39 C457.88,2226.40 455.23,2228.85 454.39,2229.75 Z" fill="#F07670" stroke="#1a1a1a" stroke-width="0.85" stroke-linejoin="round"/>
<circle cx="457.34" cy="2182.99" r="1.05"/>
<circle cx="442.49" cy="2203.24" r="1.05"/>
<circle cx="460.72" cy="2226.94" r="1.05"/>
<circle cx="443.28" cy="2170.61" r="1.05"/>
<circle cx="436.01" cy="2170.50" r="1.05"/>
<circle cx="448.76" cy="2205.58" r="1.05"/>
<circle cx="442.77" cy="2174.92" r="1.05"/>
<circle cx="459.61" cy="2221.94" r="1.05"/>
<circle cx="447.49" cy="2176.99" r="1.05"/>
<circle cx="440.09" cy="2224.89" r="1.05"/>
<circle cx="446.56" cy="2204.86" r="1.05"/>
<circle cx="464.15" cy="2180.25" r="1.05"/>
<circle cx="447.06" cy="2195.43" r="1.05"/>
<circle cx="461.74" cy="2219.86" r="1.05"/>
<circle cx="445.51" cy="2221.01" r="1.05"/>
<circle cx="437.90" cy="2188.34" r="1.05"/>
<circle cx="435.80" cy="2201.50" r="1.05"/>
<circle cx="454.62" cy="2204.61" r="1.05"/>
<circle cx="446.51" cy="2205.07" r="1.05"/>
<circle cx="455.66" cy="2198.67" r="1.05"/>
<circle cx="447.17" cy="2203.56" r="1.05"/>
<circle cx="458.25" cy="2201.79" r="1.05"/>
<circle cx="445.42" cy="2170.19" r="1.05"/>
<circle cx="456.51" cy="2209.35" r="1.05"/>
<circle cx="450.30" cy="2206.53" r="1.05"/>
<circle cx="442.54" cy="2193.35" r="1.05"/>
<circle cx="460.07" cy="2198.15" r="1.05"/>
<circle cx="450.50" cy="2205.90" r="1.05"/>
<circle cx="443.40" cy="2198.69" r="1.05"/>
<circle cx="453.03" cy="2193.44" r="1.05"/>
<circle cx="450.05" cy="2169.08" r="1.05"/>
<circle cx="464.37" cy="2177.57" r="1.05"/>
<circle cx="460.54" cy="2219.42" r="1.05"/>
<circle cx="444.95" cy="2196.44" r="1.05"/>
<circle cx="441.79" cy="2168.82" r="1.05"/>
<circle cx="456.71" cy="2195.66" r="1.05"/>
<circle cx="449.34" cy="2213.86" r="1.05"/>
<circle cx="452.28" cy="2204.36" r="1.05"/>
<circle cx="445.97" cy="2220.07" r="1.05"/>
<circle cx="438.47" cy="2199.92" r="1.05"/>
<circle cx="452.19" cy="2170.50" r="1.05"/>
<circle cx="454.59" cy="2218.44" r="1.05"/>
<circle cx="460.00" cy="2200.39" r="1.05"/>
<circle cx="454.94" cy="2170.40" r="1.05"/>
<circle cx="460.86" cy="2226.12" r="1.05"/>
<circle cx="457.93" cy="2187.82" r="1.05"/>
<circle cx="440.20" cy="2200.69" r="1.05"/>
<circle cx="447.80" cy="2194.53" r="1.05"/>
<circle cx="455.74" cy="2223.57" r="1.05"/>
<circle cx="452.95" cy="2179.33" r="1.05"/>
<circle cx="446.11" cy="2169.45" r="1.05"/>
<circle cx="462.80" cy="2218.32" r="1.05"/>
<circle cx="450.77" cy="2204.90" r="1.05"/>
<circle cx="438.46" cy="2212.67" r="1.05"/>
<circle cx="460.29" cy="2202.61" r="1.05"/>
<circle cx="437.38" cy="2186.57" r="1.05"/>
<circle cx="443.17" cy="2190.29" r="1.05"/>
<circle cx="445.82" cy="2197.27" r="1.05"/>
<circle cx="442.98" cy="2179.10" r="1.05"/>
<circle cx="452.02" cy="2210.23" r="1.05"/>
<circle cx="436.66" cy="2179.60" r="1.05"/>
<circle cx="454.05" cy="2218.21" r="1.05"/>
<circle cx="462.67" cy="2196.02" r="1.05"/>
<circle cx="446.56" cy="2189.46" r="1.05"/>
<circle cx="444.01" cy="2185.51" r="1.05"/>
<circle cx="441.81" cy="2209.08" r="1.05"/>
<circle cx="441.23" cy="2213.99" r="1.05"/>
<circle cx="439.02" cy="2178.86" r="1.05"/>
<circle cx="442.12" cy="2181.16" r="1.05"/>
<circle cx="440.36" cy="2227.75" r="1.05"/>
<circle cx="437.23" cy="2197.67" r="1.05"/>
<circle cx="457.73" cy="2180.81" r="1.05"/>
<circle cx="447.37" cy="2220.92" r="1.05"/>
<circle cx="452.52" cy="2183.91" r="1.05"/>
<circle cx="440.36" cy="2190.39" r="1.05"/>
<circle cx="460.32" cy="2186.02" r="1.05"/>
<circle cx="458.31" cy="2171.33" r="1.05"/>
<circle cx="463.61" cy="2189.22" r="1.05"/>
<circle cx="458.00" cy="2194.13" r="1.05"/>
<circle cx="438.95" cy="2214.54" r="1.05"/>
<circle cx="464.18" cy="2220.38" r="1.05"/>
<circle cx="447.21" cy="2219.45" r="1.05"/>
<circle cx="450.41" cy="2190.70" r="1.05"/>
<circle cx="460.90" cy="2186.05" r="1.05"/>
<circle cx="440.31" cy="2193.46" r="1.05"/>
<circle cx="441.32" cy="2211.66" r="1.05"/>
<circle cx="460.93" cy="2193.61" r="1.05"/>
<circle cx="441.23" cy="2187.03" r="1.05"/>
<circle cx="446.21" cy="2183.65" r="1.05"/>
<circle cx="446.72" cy="2202.29" r="1.05"/>
<circle cx="439.64" cy="2170.56" r="1.05"/>
<circle cx="455.71" cy="2227.78" r="1.05"/>
<circle cx="446.19" cy="2203.25" r="1.05"/>
<circle cx="454.94" cy="2179.60" r="1.05"/>
<circle cx="452.40" cy="2213.51" r="1.05"/>
<circle cx="463.14" cy="2224.39" r="1.05"/>
<circle cx="459.75" cy="2182.77" r="1.05"/>
<circle cx="445.58" cy="2189.25" r="1.05"/>
<circle cx="447.46" cy="2179.40" r="1.05"/>
<circle cx="451.35" cy="2186.52" r="1.05"/>
<circle cx="437.59" cy="2207.96" r="1.05"/>
<circle cx="443.30" cy="2171.50" r="1.05"/>
<circle cx="451.95" cy="2197.85" r="1.05"/>
<circle cx="463.17" cy="2200.35" r="1.05"/>
<circle cx="460.61" cy="2210.16" r="1.05"/>
<circle cx="456.76" cy="2220.65" r="1.05"/>
<circle cx="441.61" cy="2198.05" r="1.05"/>
<circle cx="454.07" cy="2194.78" r="1.05"/>
<circle cx="443.72" cy="2167.73" r="1.05"/>
<circle cx="440.17" cy="2182.78" r="1.05"/>
<circle cx="452.68" cy="2204.71" r="1.05"/>
<circle cx="456.03" cy="2197.43" r="1.05"/>
<circle cx="453.26" cy="2172.67" r="1.05"/>
<circle cx="441.38" cy="2212.58" r="1.05"/>
<circle cx="443.23" cy="2205.47" r="1.05"/>
<circle cx="457.01" cy="2217.63" r="1.05"/>
<circle cx="463.20" cy="2180.96" r="1.05"/>
<circle cx="462.84" cy="2187.66" r="1.05"/>
<circle cx="444.21" cy="2173.80" r="1.05"/>
<circle cx="451.45" cy="2215.71" r="1.05"/>
<circle cx="447.84" cy="2215.68" r="1.05"/>
<circle cx="452.57" cy="2221.94" r="1.05"/>
<circle cx="441.21" cy="2183.73" r="1.05"/>
<circle cx="458.72" cy="2193.99" r="1.05"/>
<circle cx="447.55" cy="2219.57" r="1.05"/>
<circle cx="463.80" cy="2203.56" r="1.05"/>
<circle cx="448.90" cy="2188.50" r="1.05"/>
<circle cx="445.67" cy="2202.19" r="1.05"/>
<circle cx="450.27" cy="2196.63" r="1.05"/>
<circle cx="464.17" cy="2227.49" r="1.05"/>
<circle cx="441.24" cy="2226.14" r="1.05"/>
<circle cx="451.93" cy="2171.78" r="1.05"/>
<circle cx="437.54" cy="2209.98" r="1.05"/>
<circle cx="437.19" cy="2203.38" r="1.05"/>
<circle cx="444.00" cy="2187.94" r="1.05"/>
<circle cx="441.31" cy="2182.42" r="1.05"/>
<circle cx="456.10" cy="2224.89" r="1.05"/>
<circle cx="447.03" cy="2217.40" r="1.05"/>
<circle cx="447.63" cy="2192.05" r="1.05"/>
<circle cx="449.22" cy="2201.96" r="1.05"/>
<circle cx="443.69" cy="2187.83" r="1.05"/>
<circle cx="437.42" cy="2195.93" r="1.05"/>
<circle cx="437.69" cy="2169.47" r="1.05"/>
<circle cx="440.90" cy="2189.11" r="1.05"/>
<circle cx="437.80" cy="2192.46" r="1.05"/>
<circle cx="445.30" cy="2180.87" r="1.05"/>
<circle cx="452.56" cy="2191.96" r="1.05"/>
<circle cx="441.87" cy="2183.80" r="1.05"/>
<circle cx="459.04" cy="2214.62" r="1.05"/>
<circle cx="455.81" cy="2209.97" r="1.05"/>
<circle cx="444.52" cy="2224.07" r="1.05"/>
<circle cx="461.85" cy="2200.54" r="1.05"/>
<circle cx="443.22" cy="2211.67" r="1.05"/>
<circle cx="449.57" cy="2217.99" r="1.05"/>
<circle cx="446.82" cy="2177.90" r="1.05"/>
<circle cx="463.64" cy="2167.55" r="1.05"/>
<circle cx="448.28" cy="2226.51" r="1.05"/>
<circle cx="448.27" cy="2219.51" r="1.05"/>
<circle cx="453.13" cy="2196.93" r="1.05"/>
<circle cx="460.72" cy="2184.41" r="1.05"/>
<circle cx="446.23" cy="2172.29" r="1.05"/>
<circle cx="459.75" cy="2152.64" r="1.05"/>
<circle cx="451.55" cy="2189.67" r="1.05"/>
<circle cx="438.09" cy="2169.59" r="1.05"/>
<circle cx="448.97" cy="2183.75" r="1.05"/>
<circle cx="447.78" cy="2181.39" r="1.05"/>
<circle cx="449.79" cy="2170.39" r="1.05"/>
<circle cx="449.09" cy="2174.63" r="1.05"/>
<circle cx="436.12" cy="2152.97" r="1.05"/>
<circle cx="436.63" cy="2172.07" r="1.05"/>
<circle cx="448.39" cy="2158.78" r="1.05"/>
<circle cx="439.78" cy="2176.02" r="1.05"/>
<circle cx="463.48" cy="2151.29" r="1.05"/>
<circle cx="456.83" cy="2160.46" r="1.05"/>
<circle cx="445.52" cy="2189.62" r="1.05"/>
<circle cx="442.36" cy="2188.44" r="1.05"/>
<circle cx="451.11" cy="2179.41" r="1.05"/>
<circle cx="464.65" cy="2169.00" r="1.05"/>
<circle cx="456.19" cy="2173.21" r="1.05"/>
<circle cx="463.15" cy="2188.51" r="1.05"/>
<circle cx="456.61" cy="2150.91" r="1.05"/>
<circle cx="458.36" cy="2190.79" r="1.05"/>
<circle cx="451.25" cy="2154.95" r="1.05"/>
<circle cx="439.87" cy="2179.48" r="1.05"/>
<circle cx="441.99" cy="2163.93" r="1.05"/>
<circle cx="438.00" cy="2162.36" r="1.05"/>
<circle cx="453.49" cy="2179.37" r="1.05"/>
<circle cx="442.67" cy="2180.53" r="1.05"/>
<circle cx="453.62" cy="2164.95" r="1.05"/>
<circle cx="459.06" cy="2174.35" r="1.05"/>
<path d="M470.49,2229.75 C470.31,2229.41 468.85,2228.63 469.40,2227.74 C469.96,2226.84 472.54,2225.50 473.84,2224.39 C475.14,2223.27 476.14,2222.16 477.19,2221.04 C478.23,2219.92 479.34,2218.81 480.12,2217.69 C480.90,2216.58 481.42,2215.46 481.88,2214.34 C482.34,2213.23 482.60,2212.11 482.88,2210.99 C483.16,2209.88 483.35,2209.60 483.55,2207.65 C483.75,2205.69 483.97,2202.07 484.05,2199.28 C484.14,2196.48 484.08,2194.81 484.05,2190.90 C484.02,2187.00 483.91,2178.35 483.89,2175.84 L485.56,2175.84 C485.53,2178.35 485.42,2187.00 485.39,2190.90 C485.36,2194.81 485.31,2196.48 485.39,2199.28 C485.48,2202.07 485.70,2205.69 485.89,2207.65 C486.09,2209.60 486.28,2209.88 486.56,2210.99 C486.84,2212.11 487.11,2213.23 487.57,2214.34 C488.03,2215.46 488.54,2216.58 489.33,2217.69 C490.11,2218.81 491.21,2219.92 492.26,2221.04 C493.30,2222.16 494.31,2223.27 495.60,2224.39 C496.90,2225.50 499.48,2226.84 500.04,2227.74 C500.60,2228.63 499.13,2229.41 498.95,2229.75 Z" fill="#C9A130" stroke="#1a1a1a" stroke-width="0.85" stroke-linejoin="round"/>
<circle cx="493.17" cy="2222.92" r="1.05"/>
<circle cx="484.47" cy="2225.22" r="1.05"/>
<circle cx="482.12" cy="2229.15" r="1.05"/>
<circle cx="477.02" cy="2223.65" r="1.05"/>
<circle cx="478.58" cy="2229.59" r="1.05"/>
<circle cx="477.75" cy="2226.54" r="1.05"/>
<circle cx="473.45" cy="2221.26" r="1.05"/>
<circle cx="469.62" cy="2225.72" r="1.05"/>
<circle cx="486.42" cy="2227.53" r="1.05"/>
<circle cx="482.12" cy="2226.84" r="1.05"/>
<circle cx="486.62" cy="2224.33" r="1.05"/>
<circle cx="474.34" cy="2229.66" r="1.05"/>
<circle cx="496.20" cy="2224.37" r="1.05"/>
<circle cx="480.45" cy="2228.34" r="1.05"/>
<circle cx="481.45" cy="2222.84" r="1.05"/>
<circle cx="477.93" cy="2225.92" r="1.05"/>
<circle cx="478.24" cy="2222.18" r="1.05"/>
<circle cx="469.74" cy="2226.46" r="1.05"/>
<circle cx="479.44" cy="2226.60" r="1.05"/>
<circle cx="484.32" cy="2224.27" r="1.05"/>
<circle cx="487.71" cy="2227.33" r="1.05"/>
<circle cx="489.14" cy="2221.70" r="1.05"/>
<circle cx="470.81" cy="2228.86" r="1.05"/>
<circle cx="486.71" cy="2222.52" r="1.05"/>
<circle cx="497.72" cy="2222.83" r="1.05"/>
<circle cx="479.29" cy="2229.42" r="1.05"/>
<circle cx="488.23" cy="2225.08" r="1.05"/>
<circle cx="494.98" cy="2222.60" r="1.05"/>
<circle cx="497.43" cy="2225.04" r="1.05"/>
<circle cx="487.50" cy="2221.30" r="1.05"/>
<circle cx="476.78" cy="2228.88" r="1.05"/>
<circle cx="476.45" cy="2225.22" r="1.05"/>
<circle cx="470.42" cy="2223.34" r="1.05"/>
<circle cx="482.41" cy="2225.20" r="1.05"/>
<circle cx="497.28" cy="2227.21" r="1.05"/>
<circle cx="472.10" cy="2226.93" r="1.05"/>
<circle cx="488.73" cy="2228.84" r="1.05"/>
<circle cx="481.29" cy="2225.68" r="1.05"/>
<circle cx="474.15" cy="2224.94" r="1.05"/>
<circle cx="482.55" cy="2227.84" r="1.05"/>
<circle cx="480.45" cy="2223.33" r="1.05"/>
<circle cx="472.22" cy="2224.01" r="1.05"/>
<circle cx="471.58" cy="2228.49" r="1.05"/>
<circle cx="499.36" cy="2229.35" r="1.05"/>
<circle cx="484.24" cy="2221.41" r="1.05"/>
<circle cx="469.39" cy="2221.82" r="1.05"/>
<circle cx="482.40" cy="2221.28" r="1.05"/>
<circle cx="480.79" cy="2224.44" r="1.05"/>
<circle cx="492.07" cy="2222.18" r="1.05"/>
<circle cx="495.35" cy="2228.37" r="1.05"/>
<circle cx="498.57" cy="2226.14" r="1.05"/>
<circle cx="498.87" cy="2224.83" r="1.05"/>
<circle cx="481.18" cy="2222.68" r="1.05"/>
<circle cx="482.56" cy="2227.25" r="1.05"/>
<circle cx="472.15" cy="2221.18" r="1.05"/>
<circle cx="481.85" cy="2228.09" r="1.05"/>
<circle cx="471.33" cy="2223.51" r="1.05"/>
<circle cx="496.90" cy="2225.15" r="1.05"/>
<circle cx="498.32" cy="2226.32" r="1.05"/>
<circle cx="492.87" cy="2222.92" r="1.05"/>
<circle cx="492.37" cy="2211.13" r="1.05"/>
<circle cx="494.10" cy="2219.62" r="1.05"/>
<circle cx="487.38" cy="2219.26" r="1.05"/>
<circle cx="498.72" cy="2207.44" r="1.05"/>
<circle cx="472.28" cy="2218.97" r="1.05"/>
<circle cx="494.74" cy="2217.69" r="1.05"/>
<circle cx="490.31" cy="2206.38" r="1.05"/>
<circle cx="469.80" cy="2213.03" r="1.05"/>
<circle cx="487.66" cy="2218.83" r="1.05"/>
<circle cx="495.08" cy="2214.54" r="1.05"/>
<circle cx="497.38" cy="2220.96" r="1.05"/>
<circle cx="485.37" cy="2220.60" r="1.05"/>
<circle cx="477.05" cy="2213.08" r="1.05"/>
<circle cx="489.12" cy="2218.01" r="1.05"/>
<circle cx="485.12" cy="2216.55" r="1.05"/>
<circle cx="488.44" cy="2190.90" r="1.05"/>
<circle cx="493.80" cy="2192.91" r="1.05"/>
<circle cx="483.76" cy="2175.84" r="1.05"/>
<circle cx="482.92" cy="2196.76" r="1.05"/>
<circle cx="472.04" cy="2202.62" r="1.05"/>
<circle cx="472.04" cy="2213.51" r="1.05"/>
<circle cx="476.22" cy="2211.83" r="1.05"/>
<path d="M507.10,2229.41 C506.68,2228.57 505.13,2226.06 504.59,2224.39 C504.04,2222.71 503.41,2221.60 503.83,2219.37 C504.25,2217.13 505.79,2213.51 507.10,2210.99 C508.41,2208.48 510.31,2206.53 511.70,2204.30 C513.10,2202.07 514.66,2199.83 515.47,2197.60 C516.28,2195.37 516.35,2194.39 516.56,2190.90 C516.77,2187.42 516.70,2179.05 516.72,2176.67 L521.75,2176.67 C521.78,2179.05 521.71,2187.42 521.91,2190.90 C522.12,2194.39 522.19,2195.37 523.00,2197.60 C523.81,2199.83 525.37,2202.07 526.77,2204.30 C528.17,2206.53 530.06,2208.48 531.37,2210.99 C532.69,2213.51 534.22,2217.13 534.64,2219.37 C535.06,2221.60 534.43,2222.71 533.89,2224.39 C533.34,2226.06 531.79,2228.57 531.37,2229.41 Z" fill="#58B548" stroke="#1a1a1a" stroke-width="0.85" stroke-linejoin="round"/>
<circle cx="531.47" cy="2176.67" r="1.05"/>
<circle cx="523.60" cy="2185.88" r="1.05"/>
<circle cx="517.24" cy="2198.44" r="1.05"/>
<circle cx="520.59" cy="2199.28" r="1.05"/>
<circle cx="511.88" cy="2208.48" r="1.05"/>
<circle cx="510.88" cy="2216.85" r="1.05"/>
<circle cx="523.94" cy="2211.83" r="1.05"/>
<circle cx="524.77" cy="2213.51" r="1.05"/>
<circle cx="517.24" cy="2220.20" r="1.05"/>
<circle cx="522.26" cy="2221.88" r="1.05"/>
<circle cx="529.29" cy="2220.20" r="1.05"/>
<circle cx="532.31" cy="2223.05" r="1.05"/>
<circle cx="511.88" cy="2225.23" r="1.05"/>
<circle cx="518.08" cy="2225.23" r="1.05"/>
<circle cx="523.10" cy="2226.06" r="1.05"/>
<circle cx="528.12" cy="2228.57" r="1.05"/>
<path d="M544.54,2229.75 C543.50,2228.85 538.82,2226.12 538.26,2224.39 C537.71,2222.66 540.15,2221.04 541.19,2219.37 C542.24,2217.69 543.22,2216.30 544.54,2214.34 C545.87,2212.39 548.03,2210.16 549.15,2207.65 C550.26,2205.13 550.72,2202.07 551.24,2199.28 C551.75,2196.48 552.03,2192.86 552.24,2190.90 C552.45,2188.95 552.45,2188.11 552.49,2187.56 L555.01,2187.56 C555.05,2188.11 555.05,2188.95 555.26,2190.90 C555.47,2192.86 555.75,2196.48 556.26,2199.28 C556.78,2202.07 557.24,2205.13 558.35,2207.65 C559.47,2210.16 561.63,2212.39 562.96,2214.34 C564.28,2216.30 565.26,2217.69 566.31,2219.37 C567.35,2221.04 569.79,2222.66 569.24,2224.39 C568.68,2226.12 564.00,2228.85 562.96,2229.75 Z" fill="#2DBA8F" stroke="#1a1a1a" stroke-width="0.85" stroke-linejoin="round"/>
<circle cx="561.79" cy="2220.90" r="1.05"/>
<circle cx="566.11" cy="2220.67" r="1.05"/>
<circle cx="566.17" cy="2216.68" r="1.05"/>
<circle cx="539.58" cy="2216.25" r="1.05"/>
<circle cx="555.10" cy="2224.68" r="1.05"/>
<circle cx="557.68" cy="2227.68" r="1.05"/>
<circle cx="553.30" cy="2219.04" r="1.05"/>
<circle cx="566.34" cy="2227.68" r="1.05"/>
<circle cx="539.96" cy="2224.88" r="1.05"/>
<circle cx="559.02" cy="2226.75" r="1.05"/>
<circle cx="559.27" cy="2222.90" r="1.05"/>
<circle cx="545.29" cy="2227.51" r="1.05"/>
<circle cx="546.91" cy="2226.09" r="1.05"/>
<circle cx="559.36" cy="2218.88" r="1.05"/>
<circle cx="548.83" cy="2223.44" r="1.05"/>
<circle cx="567.12" cy="2222.03" r="1.05"/>
<circle cx="539.56" cy="2220.82" r="1.05"/>
<circle cx="562.85" cy="2220.55" r="1.05"/>
<circle cx="546.16" cy="2221.22" r="1.05"/>
<circle cx="558.89" cy="2217.15" r="1.05"/>
<circle cx="545.12" cy="2222.65" r="1.05"/>
<circle cx="559.47" cy="2219.18" r="1.05"/>
<circle cx="554.52" cy="2222.79" r="1.05"/>
<circle cx="539.46" cy="2224.87" r="1.05"/>
<circle cx="547.97" cy="2218.64" r="1.05"/>
<circle cx="567.68" cy="2228.38" r="1.05"/>
<circle cx="549.27" cy="2223.81" r="1.05"/>
<circle cx="540.80" cy="2222.26" r="1.05"/>
<circle cx="540.32" cy="2218.45" r="1.05"/>
<circle cx="557.23" cy="2225.10" r="1.05"/>
<circle cx="539.84" cy="2187.22" r="1.05"/>
<circle cx="543.19" cy="2195.93" r="1.05"/>
<circle cx="556.08" cy="2198.94" r="1.05"/>
<circle cx="558.76" cy="2202.29" r="1.05"/>
<circle cx="567.13" cy="2204.30" r="1.05"/>
<circle cx="548.21" cy="2208.48" r="1.05"/>
<circle cx="557.09" cy="2207.31" r="1.05"/>
<circle cx="562.44" cy="2214.34" r="1.05"/>
<circle cx="566.63" cy="2217.36" r="1.05"/>
<circle cx="547.37" cy="2214.34" r="1.05"/>
<path d="M578.64,2229.75 C577.66,2228.85 573.13,2225.98 572.78,2224.39 C572.43,2222.80 574.94,2221.60 576.54,2220.20 C578.15,2218.81 580.80,2217.27 582.40,2216.02 C584.01,2214.76 585.61,2213.78 586.17,2212.67 C586.73,2211.55 585.93,2210.44 585.75,2209.32 C585.57,2208.20 584.97,2207.09 585.08,2205.97 C585.19,2204.86 586.00,2203.74 586.42,2202.62 C586.84,2201.51 587.37,2202.62 587.59,2199.28 C587.82,2195.93 587.73,2189.51 587.76,2182.53 C587.79,2175.56 587.79,2163.84 587.76,2157.42 C587.73,2151.00 587.68,2146.54 587.59,2144.03 C587.51,2141.52 587.32,2142.63 587.26,2142.35 L589.27,2142.35 C589.21,2142.63 589.02,2141.52 588.93,2144.03 C588.85,2146.54 588.79,2151.00 588.77,2157.42 C588.74,2163.84 588.74,2175.56 588.77,2182.53 C588.79,2189.51 588.71,2195.93 588.93,2199.28 C589.16,2202.62 589.69,2201.51 590.11,2202.62 C590.52,2203.74 591.33,2204.86 591.44,2205.97 C591.56,2207.09 590.96,2208.20 590.78,2209.32 C590.59,2210.44 589.80,2211.55 590.36,2212.67 C590.91,2213.78 592.52,2214.76 594.12,2216.02 C595.73,2217.27 598.38,2218.81 599.98,2220.20 C601.59,2221.60 604.10,2222.80 603.75,2224.39 C603.40,2225.98 598.87,2228.85 597.89,2229.75 Z" fill="#4AB0E0" stroke="#1a1a1a" stroke-width="0.85" stroke-linejoin="round"/>
<circle cx="575.93" cy="2219.24" r="1.05"/>
<circle cx="584.94" cy="2223.93" r="1.05"/>
<circle cx="596.58" cy="2223.40" r="1.05"/>
<circle cx="580.95" cy="2221.23" r="1.05"/>
<circle cx="599.91" cy="2219.60" r="1.05"/>
<circle cx="575.24" cy="2225.27" r="1.05"/>
<circle cx="598.70" cy="2226.04" r="1.05"/>
<circle cx="588.40" cy="2218.41" r="1.05"/>
<circle cx="596.97" cy="2220.29" r="1.05"/>
<circle cx="592.53" cy="2218.44" r="1.05"/>
<circle cx="574.05" cy="2226.08" r="1.05"/>
<circle cx="592.22" cy="2218.63" r="1.05"/>
<circle cx="597.46" cy="2221.26" r="1.05"/>
<circle cx="602.56" cy="2218.47" r="1.05"/>
<circle cx="593.27" cy="2219.54" r="1.05"/>
<circle cx="581.75" cy="2229.10" r="1.05"/>
<circle cx="581.04" cy="2223.10" r="1.05"/>
<circle cx="592.01" cy="2227.27" r="1.05"/>
<circle cx="600.48" cy="2219.57" r="1.05"/>
<circle cx="595.27" cy="2227.90" r="1.05"/>
<circle cx="589.40" cy="2226.84" r="1.05"/>
<circle cx="582.31" cy="2218.44" r="1.05"/>
<circle cx="594.84" cy="2226.50" r="1.05"/>
<circle cx="602.40" cy="2219.90" r="1.05"/>
<circle cx="577.18" cy="2218.80" r="1.05"/>
<circle cx="590.38" cy="2227.43" r="1.05"/>
<circle cx="578.98" cy="2227.33" r="1.05"/>
<circle cx="578.94" cy="2227.38" r="1.05"/>
<circle cx="593.94" cy="2221.91" r="1.05"/>
<circle cx="592.56" cy="2221.52" r="1.05"/>
<circle cx="577.85" cy="2142.02" r="1.05"/>
<circle cx="587.89" cy="2195.09" r="1.05"/>
<circle cx="593.42" cy="2205.64" r="1.05"/>
<circle cx="596.26" cy="2208.48" r="1.05"/>
<circle cx="600.61" cy="2205.13" r="1.05"/>
<circle cx="585.55" cy="2210.16" r="1.05"/>
<circle cx="580.52" cy="2216.85" r="1.05"/>
<circle cx="595.59" cy="2218.03" r="1.05"/>
<circle cx="600.11" cy="2218.53" r="1.05"/>
<path d="M615.24,2228.07 C614.69,2227.32 613.18,2225.14 611.90,2223.55 C610.61,2221.96 607.82,2220.34 607.54,2218.53 C607.26,2216.71 609.08,2214.48 610.22,2212.67 C611.37,2210.85 613.53,2208.82 614.41,2207.65 C615.29,2206.47 615.31,2205.97 615.50,2205.64 L630.06,2205.64 C630.24,2205.97 630.27,2206.47 631.15,2207.65 C632.03,2208.82 634.19,2210.85 635.33,2212.67 C636.48,2214.48 638.29,2216.71 638.01,2218.53 C637.73,2220.34 634.94,2221.96 633.66,2223.55 C632.38,2225.14 630.87,2227.32 630.31,2228.07 Z" fill="#9488C8" stroke="#1a1a1a" stroke-width="0.85" stroke-linejoin="round"/>
<circle cx="621.04" cy="2205.64" r="1.05"/>
<circle cx="612.33" cy="2213.51" r="1.05"/>
<circle cx="621.88" cy="2219.03" r="1.05"/>
<circle cx="631.42" cy="2220.20" r="1.05"/>
<circle cx="619.70" cy="2228.57" r="1.05"/>
<path d="M645.74,2229.41 C645.08,2228.57 642.25,2226.06 641.81,2224.39 C641.36,2222.71 642.29,2221.04 643.06,2219.37 C643.83,2217.69 644.94,2216.30 646.41,2214.34 C647.87,2212.39 650.39,2209.88 651.85,2207.65 C653.32,2205.41 654.50,2203.18 655.20,2200.95 C655.90,2198.72 655.97,2196.48 656.04,2194.25 C656.11,2192.02 655.80,2189.51 655.62,2187.56 C655.44,2185.60 654.92,2184.49 654.95,2182.53 C654.98,2180.58 655.53,2178.35 655.78,2175.84 C656.04,2173.32 656.29,2170.53 656.45,2167.47 C656.62,2164.40 656.76,2160.49 656.79,2157.42 C656.82,2154.35 656.71,2151.84 656.62,2149.05 C656.54,2146.26 656.29,2143.47 656.29,2140.68 C656.29,2137.89 656.62,2135.10 656.62,2132.31 C656.62,2129.52 656.34,2125.33 656.29,2123.94 L658.30,2123.94 C658.24,2125.33 657.96,2129.52 657.96,2132.31 C657.96,2135.10 658.30,2137.89 658.30,2140.68 C658.30,2143.47 658.05,2146.26 657.96,2149.05 C657.88,2151.84 657.77,2154.35 657.79,2157.42 C657.82,2160.49 657.96,2164.40 658.13,2167.47 C658.30,2170.53 658.55,2173.32 658.80,2175.84 C659.05,2178.35 659.61,2180.58 659.64,2182.53 C659.66,2184.49 659.15,2185.60 658.97,2187.56 C658.78,2189.51 658.48,2192.02 658.55,2194.25 C658.62,2196.48 658.69,2198.72 659.38,2200.95 C660.08,2203.18 661.27,2205.41 662.73,2207.65 C664.20,2209.88 666.71,2212.39 668.17,2214.34 C669.64,2216.30 670.76,2217.69 671.52,2219.37 C672.29,2221.04 673.22,2222.71 672.78,2224.39 C672.33,2226.06 669.50,2228.57 668.84,2229.41 Z" fill="#D56BB0" stroke="#1a1a1a" stroke-width="0.85" stroke-linejoin="round"/>
<circle cx="666.16" cy="2217.28" r="1.05"/>
<circle cx="654.18" cy="2220.30" r="1.05"/>
<circle cx="667.47" cy="2214.39" r="1.05"/>
<circle cx="665.17" cy="2223.39" r="1.05"/>
<circle cx="646.87" cy="2227.80" r="1.05"/>
<circle cx="660.28" cy="2221.46" r="1.05"/>
<circle cx="663.49" cy="2218.10" r="1.05"/>
<circle cx="666.89" cy="2225.62" r="1.05"/>
<circle cx="656.60" cy="2215.55" r="1.05"/>
<circle cx="668.12" cy="2229.25" r="1.05"/>
<circle cx="645.82" cy="2213.56" r="1.05"/>
<circle cx="647.05" cy="2216.73" r="1.05"/>
<circle cx="665.70" cy="2228.73" r="1.05"/>
<circle cx="649.55" cy="2219.01" r="1.05"/>
<circle cx="660.37" cy="2217.75" r="1.05"/>
<circle cx="656.73" cy="2218.98" r="1.05"/>
<circle cx="655.01" cy="2222.18" r="1.05"/>
<circle cx="655.33" cy="2228.49" r="1.05"/>
<circle cx="651.93" cy="2226.76" r="1.05"/>
<circle cx="661.86" cy="2218.84" r="1.05"/>
<circle cx="648.60" cy="2222.21" r="1.05"/>
<circle cx="669.06" cy="2215.25" r="1.05"/>
<circle cx="665.08" cy="2223.50" r="1.05"/>
<circle cx="652.48" cy="2224.00" r="1.05"/>
<circle cx="645.47" cy="2225.45" r="1.05"/>
<circle cx="653.41" cy="2218.04" r="1.05"/>
<circle cx="654.26" cy="2227.99" r="1.05"/>
<circle cx="657.55" cy="2217.09" r="1.05"/>
<circle cx="647.37" cy="2217.80" r="1.05"/>
<circle cx="666.74" cy="2220.43" r="1.05"/>
<circle cx="647.08" cy="2228.79" r="1.05"/>
<circle cx="665.23" cy="2222.35" r="1.05"/>
<circle cx="647.73" cy="2222.49" r="1.05"/>
<circle cx="667.43" cy="2228.68" r="1.05"/>
<circle cx="658.82" cy="2223.81" r="1.05"/>
<circle cx="647.49" cy="2123.60" r="1.05"/>
<circle cx="652.51" cy="2139.34" r="1.05"/>
<circle cx="668.75" cy="2180.86" r="1.05"/>
<circle cx="669.26" cy="2184.21" r="1.05"/>
<circle cx="642.47" cy="2185.55" r="1.05"/>
<circle cx="645.82" cy="2196.26" r="1.05"/>
<circle cx="652.01" cy="2196.26" r="1.05"/>
<circle cx="662.56" cy="2206.31" r="1.05"/>
<circle cx="642.80" cy="2212.67" r="1.05"/>
<path d="M429.5,2022.0 V2240.0 H678.0" fill="none" stroke="#1a1a1a" stroke-width="1.2"/>
<line x1="425.3" y1="2232.3" x2="429.5" y2="2232.3" stroke="#333" stroke-width="1"/>
<text transform="translate(421.60,2237.70)" font-size="15.2" text-anchor="end">0.0</text>
<line x1="425.3" y1="2192.2200000000003" x2="429.5" y2="2192.2200000000003" stroke="#333" stroke-width="1"/>
<text transform="translate(421.60,2197.62)" font-size="15.2" text-anchor="end">0.1</text>
<line x1="425.3" y1="2152.1400000000003" x2="429.5" y2="2152.1400000000003" stroke="#333" stroke-width="1"/>
<text transform="translate(421.60,2157.54)" font-size="15.2" text-anchor="end">0.2</text>
<line x1="425.3" y1="2112.06" x2="429.5" y2="2112.06" stroke="#333" stroke-width="1"/>
<text transform="translate(421.60,2117.46)" font-size="15.2" text-anchor="end">0.3</text>
<line x1="425.3" y1="2071.98" x2="429.5" y2="2071.98" stroke="#333" stroke-width="1"/>
<text transform="translate(421.60,2077.38)" font-size="15.2" text-anchor="end">0.4</text>
<line x1="425.3" y1="2031.9" x2="429.5" y2="2031.9" stroke="#333" stroke-width="1"/>
<text transform="translate(421.60,2037.30)" font-size="15.2" text-anchor="end">0.5</text>
<line x1="450.21" y1="2240.0" x2="450.21" y2="2244.5" stroke="#333" stroke-width="1"/>
<text transform="translate(458.21,2256.20) rotate(-45) scale(0.945,1)" font-size="15.6" text-anchor="end">Neuron</text>
<line x1="484.72" y1="2240.0" x2="484.72" y2="2244.5" stroke="#333" stroke-width="1"/>
<text transform="translate(492.72,2256.20) rotate(-45) scale(0.945,1)" font-size="15.6" text-anchor="end">Fibroblast</text>
<line x1="519.24" y1="2240.0" x2="519.24" y2="2244.5" stroke="#333" stroke-width="1"/>
<text transform="translate(527.24,2256.20) rotate(-45) scale(0.945,1)" font-size="15.6" text-anchor="end">NSC</text>
<line x1="553.75" y1="2240.0" x2="553.75" y2="2244.5" stroke="#333" stroke-width="1"/>
<text transform="translate(561.75,2256.20) rotate(-45) scale(0.945,1)" font-size="15.6" text-anchor="end">Immature Glia</text>
<line x1="588.26" y1="2240.0" x2="588.26" y2="2244.5" stroke="#333" stroke-width="1"/>
<text transform="translate(596.26,2256.20) rotate(-45) scale(0.945,1)" font-size="15.6" text-anchor="end">Oligodendrocyte</text>
<line x1="622.78" y1="2240.0" x2="622.78" y2="2244.5" stroke="#333" stroke-width="1"/>
<text transform="translate(630.78,2256.20) rotate(-45) scale(0.945,1)" font-size="15.6" text-anchor="end">Dividing</text>
<line x1="657.29" y1="2240.0" x2="657.29" y2="2244.5" stroke="#333" stroke-width="1"/>
<text transform="translate(665.29,2256.20) rotate(-45) scale(0.945,1)" font-size="15.6" text-anchor="end">Myocyte</text>
<text transform="translate(860.70,2009.40)" font-size="20" font-weight="bold" text-anchor="middle">AAVAnc80</text>
<path d="M752.59,2227.74 C751.47,2226.90 747.65,2224.95 745.89,2222.71 C744.13,2220.48 742.32,2217.13 742.04,2214.34 C741.76,2211.55 743.29,2208.48 744.21,2205.97 C745.14,2203.46 746.61,2201.23 747.56,2199.28 C748.51,2197.32 748.96,2197.04 749.91,2194.25 C750.86,2191.46 752.36,2186.44 753.26,2182.53 C754.15,2178.63 754.79,2175.00 755.26,2170.81 C755.74,2166.63 755.96,2160.35 756.10,2157.42 C756.24,2154.49 756.10,2153.93 756.10,2153.23 L759.12,2153.23 C759.12,2153.93 758.98,2154.49 759.12,2157.42 C759.25,2160.35 759.48,2166.63 759.95,2170.81 C760.43,2175.00 761.07,2178.63 761.96,2182.53 C762.85,2186.44 764.36,2191.46 765.31,2194.25 C766.26,2197.04 766.70,2197.32 767.65,2199.28 C768.60,2201.23 770.08,2203.46 771.00,2205.97 C771.92,2208.48 773.46,2211.55 773.18,2214.34 C772.90,2217.13 771.09,2220.48 769.33,2222.71 C767.57,2224.95 763.75,2226.90 762.63,2227.74 Z" fill="#F07670" stroke="#1a1a1a" stroke-width="0.85" stroke-linejoin="round"/>
<circle cx="752.02" cy="2198.17" r="1.05"/>
<circle cx="766.85" cy="2206.26" r="1.05"/>
<circle cx="770.59" cy="2225.85" r="1.05"/>
<circle cx="743.95" cy="2215.56" r="1.05"/>
<circle cx="766.36" cy="2225.09" r="1.05"/>
<circle cx="745.08" cy="2194.56" r="1.05"/>
<circle cx="749.64" cy="2217.97" r="1.05"/>
<circle cx="763.45" cy="2208.62" r="1.05"/>
<circle cx="764.81" cy="2207.00" r="1.05"/>
<circle cx="763.08" cy="2218.78" r="1.05"/>
<circle cx="756.86" cy="2204.27" r="1.05"/>
<circle cx="765.78" cy="2193.32" r="1.05"/>
<circle cx="765.96" cy="2199.14" r="1.05"/>
<circle cx="743.75" cy="2200.53" r="1.05"/>
<circle cx="750.37" cy="2198.13" r="1.05"/>
<circle cx="756.10" cy="2191.23" r="1.05"/>
<circle cx="754.14" cy="2191.28" r="1.05"/>
<circle cx="768.10" cy="2223.72" r="1.05"/>
<circle cx="753.42" cy="2211.87" r="1.05"/>
<circle cx="751.45" cy="2214.48" r="1.05"/>
<circle cx="767.46" cy="2202.98" r="1.05"/>
<circle cx="748.11" cy="2207.49" r="1.05"/>
<circle cx="770.26" cy="2208.91" r="1.05"/>
<circle cx="746.83" cy="2200.00" r="1.05"/>
<circle cx="762.40" cy="2219.43" r="1.05"/>
<circle cx="746.00" cy="2196.80" r="1.05"/>
<circle cx="744.14" cy="2216.85" r="1.05"/>
<circle cx="750.36" cy="2209.30" r="1.05"/>
<circle cx="753.24" cy="2191.41" r="1.05"/>
<circle cx="760.39" cy="2217.26" r="1.05"/>
<circle cx="769.19" cy="2219.15" r="1.05"/>
<circle cx="758.90" cy="2197.10" r="1.05"/>
<circle cx="756.40" cy="2218.27" r="1.05"/>
<circle cx="753.03" cy="2199.47" r="1.05"/>
<circle cx="754.80" cy="2222.90" r="1.05"/>
<circle cx="762.48" cy="2225.45" r="1.05"/>
<circle cx="767.67" cy="2207.60" r="1.05"/>
<circle cx="756.72" cy="2221.63" r="1.05"/>
<circle cx="754.91" cy="2226.70" r="1.05"/>
<circle cx="768.88" cy="2217.19" r="1.05"/>
<circle cx="754.97" cy="2195.96" r="1.05"/>
<circle cx="770.56" cy="2216.71" r="1.05"/>
<circle cx="756.78" cy="2218.06" r="1.05"/>
<circle cx="755.63" cy="2223.20" r="1.05"/>
<circle cx="750.02" cy="2191.01" r="1.05"/>
<circle cx="759.39" cy="2198.30" r="1.05"/>
<circle cx="770.17" cy="2199.79" r="1.05"/>
<circle cx="768.25" cy="2193.79" r="1.05"/>
<circle cx="765.19" cy="2198.07" r="1.05"/>
<circle cx="744.25" cy="2194.05" r="1.05"/>
<circle cx="752.89" cy="2206.11" r="1.05"/>
<circle cx="762.22" cy="2206.65" r="1.05"/>
<circle cx="766.23" cy="2220.17" r="1.05"/>
<circle cx="760.62" cy="2224.40" r="1.05"/>
<circle cx="766.92" cy="2227.24" r="1.05"/>
<circle cx="768.22" cy="2202.70" r="1.05"/>
<circle cx="756.81" cy="2216.66" r="1.05"/>
<circle cx="749.32" cy="2192.53" r="1.05"/>
<circle cx="754.97" cy="2212.70" r="1.05"/>
<circle cx="764.64" cy="2218.34" r="1.05"/>
<circle cx="771.80" cy="2196.84" r="1.05"/>
<circle cx="759.30" cy="2222.68" r="1.05"/>
<circle cx="744.86" cy="2197.89" r="1.05"/>
<circle cx="753.88" cy="2204.35" r="1.05"/>
<circle cx="743.64" cy="2209.40" r="1.05"/>
<circle cx="750.22" cy="2223.25" r="1.05"/>
<circle cx="770.44" cy="2209.99" r="1.05"/>
<circle cx="760.02" cy="2223.64" r="1.05"/>
<circle cx="757.52" cy="2217.99" r="1.05"/>
<circle cx="771.34" cy="2191.52" r="1.05"/>
<circle cx="745.43" cy="2217.42" r="1.05"/>
<circle cx="771.21" cy="2203.46" r="1.05"/>
<circle cx="745.98" cy="2193.79" r="1.05"/>
<circle cx="751.78" cy="2216.85" r="1.05"/>
<circle cx="762.07" cy="2218.38" r="1.05"/>
<circle cx="753.92" cy="2205.94" r="1.05"/>
<circle cx="754.16" cy="2216.87" r="1.05"/>
<circle cx="746.37" cy="2209.63" r="1.05"/>
<circle cx="752.81" cy="2203.76" r="1.05"/>
<circle cx="746.97" cy="2206.58" r="1.05"/>
<circle cx="753.37" cy="2215.90" r="1.05"/>
<circle cx="755.58" cy="2215.69" r="1.05"/>
<circle cx="766.58" cy="2192.79" r="1.05"/>
<circle cx="745.73" cy="2190.93" r="1.05"/>
<circle cx="762.42" cy="2213.22" r="1.05"/>
<circle cx="748.96" cy="2206.02" r="1.05"/>
<circle cx="750.70" cy="2212.25" r="1.05"/>
<circle cx="764.08" cy="2203.38" r="1.05"/>
<circle cx="757.31" cy="2201.59" r="1.05"/>
<circle cx="752.80" cy="2226.65" r="1.05"/>
<circle cx="771.67" cy="2222.49" r="1.05"/>
<circle cx="768.10" cy="2213.71" r="1.05"/>
<circle cx="755.76" cy="2213.19" r="1.05"/>
<circle cx="750.58" cy="2213.27" r="1.05"/>
<circle cx="768.72" cy="2203.81" r="1.05"/>
<circle cx="746.60" cy="2213.00" r="1.05"/>
<circle cx="754.06" cy="2192.03" r="1.05"/>
<circle cx="765.64" cy="2205.54" r="1.05"/>
<circle cx="749.38" cy="2206.37" r="1.05"/>
<circle cx="768.02" cy="2203.10" r="1.05"/>
<circle cx="752.45" cy="2207.40" r="1.05"/>
<circle cx="749.98" cy="2197.43" r="1.05"/>
<circle cx="751.49" cy="2210.21" r="1.05"/>
<circle cx="765.00" cy="2215.82" r="1.05"/>
<circle cx="760.48" cy="2213.18" r="1.05"/>
<circle cx="754.09" cy="2193.13" r="1.05"/>
<circle cx="752.44" cy="2199.62" r="1.05"/>
<circle cx="744.94" cy="2212.33" r="1.05"/>
<circle cx="771.10" cy="2227.22" r="1.05"/>
<circle cx="764.47" cy="2204.36" r="1.05"/>
<circle cx="766.97" cy="2222.48" r="1.05"/>
<circle cx="771.57" cy="2206.82" r="1.05"/>
<circle cx="748.53" cy="2216.32" r="1.05"/>
<circle cx="768.28" cy="2223.72" r="1.05"/>
<circle cx="751.44" cy="2213.28" r="1.05"/>
<circle cx="754.74" cy="2214.52" r="1.05"/>
<circle cx="746.80" cy="2191.44" r="1.05"/>
<circle cx="746.06" cy="2198.71" r="1.05"/>
<circle cx="756.81" cy="2199.48" r="1.05"/>
<circle cx="745.91" cy="2200.59" r="1.05"/>
<circle cx="764.37" cy="2193.53" r="1.05"/>
<circle cx="770.49" cy="2225.34" r="1.05"/>
<circle cx="769.11" cy="2222.11" r="1.05"/>
<circle cx="744.00" cy="2194.96" r="1.05"/>
<circle cx="749.11" cy="2221.95" r="1.05"/>
<circle cx="764.40" cy="2200.32" r="1.05"/>
<circle cx="756.75" cy="2224.91" r="1.05"/>
<circle cx="755.79" cy="2213.19" r="1.05"/>
<circle cx="757.31" cy="2196.17" r="1.05"/>
<circle cx="764.90" cy="2204.86" r="1.05"/>
<circle cx="765.92" cy="2192.12" r="1.05"/>
<circle cx="768.66" cy="2204.27" r="1.05"/>
<circle cx="756.57" cy="2207.64" r="1.05"/>
<circle cx="757.47" cy="2211.24" r="1.05"/>
<circle cx="766.47" cy="2198.27" r="1.05"/>
<circle cx="764.97" cy="2213.42" r="1.05"/>
<circle cx="756.14" cy="2193.70" r="1.05"/>
<circle cx="767.06" cy="2209.68" r="1.05"/>
<circle cx="771.07" cy="2202.23" r="1.05"/>
<circle cx="770.45" cy="2207.12" r="1.05"/>
<circle cx="762.87" cy="2194.37" r="1.05"/>
<circle cx="757.38" cy="2200.85" r="1.05"/>
<circle cx="749.46" cy="2195.47" r="1.05"/>
<circle cx="770.63" cy="2202.61" r="1.05"/>
<circle cx="769.56" cy="2216.35" r="1.05"/>
<circle cx="756.60" cy="2193.16" r="1.05"/>
<circle cx="764.01" cy="2209.00" r="1.05"/>
<circle cx="767.84" cy="2215.13" r="1.05"/>
<circle cx="755.04" cy="2214.06" r="1.05"/>
<circle cx="765.60" cy="2215.15" r="1.05"/>
<circle cx="751.32" cy="2192.20" r="1.05"/>
<circle cx="745.03" cy="2206.20" r="1.05"/>
<circle cx="756.74" cy="2198.38" r="1.05"/>
<circle cx="768.88" cy="2204.79" r="1.05"/>
<circle cx="753.30" cy="2227.49" r="1.05"/>
<circle cx="771.33" cy="2197.11" r="1.05"/>
<circle cx="760.11" cy="2209.75" r="1.05"/>
<circle cx="768.92" cy="2193.20" r="1.05"/>
<circle cx="762.29" cy="2196.98" r="1.05"/>
<circle cx="758.13" cy="2215.01" r="1.05"/>
<circle cx="744.49" cy="2213.68" r="1.05"/>
<circle cx="746.83" cy="2224.73" r="1.05"/>
<circle cx="757.12" cy="2224.46" r="1.05"/>
<circle cx="759.39" cy="2203.21" r="1.05"/>
<circle cx="749.41" cy="2192.16" r="1.05"/>
<circle cx="760.06" cy="2217.81" r="1.05"/>
<circle cx="757.43" cy="2215.81" r="1.05"/>
<circle cx="763.10" cy="2195.98" r="1.05"/>
<circle cx="763.47" cy="2222.86" r="1.05"/>
<circle cx="750.43" cy="2214.03" r="1.05"/>
<circle cx="763.26" cy="2184.95" r="1.05"/>
<circle cx="767.44" cy="2162.67" r="1.05"/>
<circle cx="759.08" cy="2156.06" r="1.05"/>
<circle cx="755.90" cy="2163.31" r="1.05"/>
<circle cx="770.52" cy="2190.43" r="1.05"/>
<circle cx="752.71" cy="2188.73" r="1.05"/>
<circle cx="770.45" cy="2154.77" r="1.05"/>
<circle cx="764.13" cy="2171.62" r="1.05"/>
<circle cx="743.12" cy="2169.36" r="1.05"/>
<circle cx="766.67" cy="2175.05" r="1.05"/>
<circle cx="744.98" cy="2184.76" r="1.05"/>
<circle cx="751.27" cy="2172.25" r="1.05"/>
<circle cx="753.47" cy="2187.11" r="1.05"/>
<circle cx="743.30" cy="2189.69" r="1.05"/>
<circle cx="769.69" cy="2190.60" r="1.05"/>
<circle cx="755.18" cy="2158.84" r="1.05"/>
<circle cx="755.59" cy="2176.22" r="1.05"/>
<circle cx="745.53" cy="2162.05" r="1.05"/>
<circle cx="746.63" cy="2166.61" r="1.05"/>
<circle cx="756.12" cy="2157.41" r="1.05"/>
<circle cx="754.43" cy="2187.54" r="1.05"/>
<circle cx="754.83" cy="2171.75" r="1.05"/>
<circle cx="756.01" cy="2174.45" r="1.05"/>
<circle cx="759.37" cy="2187.31" r="1.05"/>
<circle cx="760.66" cy="2160.61" r="1.05"/>
<circle cx="745.33" cy="2165.93" r="1.05"/>
<circle cx="769.73" cy="2188.95" r="1.05"/>
<circle cx="770.29" cy="2156.14" r="1.05"/>
<circle cx="743.91" cy="2172.00" r="1.05"/>
<circle cx="743.99" cy="2186.91" r="1.05"/>
<circle cx="763.89" cy="2175.43" r="1.05"/>
<circle cx="760.63" cy="2176.27" r="1.05"/>
<circle cx="755.76" cy="2189.66" r="1.05"/>
<circle cx="747.32" cy="2162.02" r="1.05"/>
<circle cx="757.49" cy="2166.25" r="1.05"/>
<circle cx="750.14" cy="2161.73" r="1.05"/>
<circle cx="755.21" cy="2186.95" r="1.05"/>
<circle cx="769.87" cy="2162.46" r="1.05"/>
<circle cx="753.59" cy="2186.08" r="1.05"/>
<circle cx="754.24" cy="2170.81" r="1.05"/>
<circle cx="767.70" cy="2166.07" r="1.05"/>
<circle cx="743.61" cy="2168.10" r="1.05"/>
<circle cx="769.51" cy="2154.55" r="1.05"/>
<circle cx="768.85" cy="2170.66" r="1.05"/>
<circle cx="759.29" cy="2179.95" r="1.05"/>
<circle cx="769.27" cy="2174.41" r="1.05"/>
<circle cx="768.96" cy="2154.29" r="1.05"/>
<circle cx="754.66" cy="2184.29" r="1.05"/>
<circle cx="755.61" cy="2185.27" r="1.05"/>
<circle cx="743.71" cy="2185.98" r="1.05"/>
<path d="M784.17,2229.75 C782.93,2228.99 777.21,2226.54 776.72,2225.23 C776.23,2223.91 779.44,2222.99 781.24,2221.88 C783.04,2220.76 786.05,2219.64 787.52,2218.53 C788.98,2217.41 789.79,2216.30 790.03,2215.18 C790.27,2214.06 788.80,2212.95 788.94,2211.83 C789.08,2210.72 790.64,2209.60 790.87,2208.48 C791.09,2207.37 790.21,2206.11 790.28,2205.13 C790.35,2204.16 791.06,2205.00 791.29,2202.62 C791.51,2200.25 791.56,2195.65 791.62,2190.90 C791.68,2186.16 791.65,2179.05 791.62,2174.16 C791.59,2169.28 791.48,2163.70 791.45,2161.61 L792.79,2161.61 C792.76,2163.70 792.65,2169.28 792.62,2174.16 C792.60,2179.05 792.57,2186.16 792.62,2190.90 C792.68,2195.65 792.74,2200.25 792.96,2202.62 C793.18,2205.00 793.89,2204.16 793.96,2205.13 C794.03,2206.11 793.15,2207.37 793.38,2208.48 C793.60,2209.60 795.16,2210.72 795.30,2211.83 C795.44,2212.95 793.98,2214.06 794.21,2215.18 C794.45,2216.30 795.26,2217.41 796.73,2218.53 C798.19,2219.64 801.20,2220.76 803.00,2221.88 C804.80,2222.99 808.01,2223.91 807.52,2225.23 C807.04,2226.54 801.32,2228.99 800.07,2229.75 Z" fill="#C9A130" stroke="#1a1a1a" stroke-width="0.85" stroke-linejoin="round"/>
<circle cx="785.64" cy="2229.64" r="1.05"/>
<circle cx="779.21" cy="2223.40" r="1.05"/>
<circle cx="797.74" cy="2219.37" r="1.05"/>
<circle cx="796.95" cy="2222.99" r="1.05"/>
<circle cx="800.94" cy="2220.72" r="1.05"/>
<circle cx="802.58" cy="2229.16" r="1.05"/>
<circle cx="792.49" cy="2227.03" r="1.05"/>
<circle cx="784.26" cy="2228.74" r="1.05"/>
<circle cx="794.33" cy="2229.56" r="1.05"/>
<circle cx="780.76" cy="2229.21" r="1.05"/>
<circle cx="806.26" cy="2225.77" r="1.05"/>
<circle cx="788.96" cy="2221.24" r="1.05"/>
<circle cx="801.47" cy="2225.49" r="1.05"/>
<circle cx="798.95" cy="2225.99" r="1.05"/>
<circle cx="794.55" cy="2222.40" r="1.05"/>
<circle cx="792.10" cy="2219.66" r="1.05"/>
<circle cx="805.21" cy="2221.52" r="1.05"/>
<circle cx="788.92" cy="2226.24" r="1.05"/>
<circle cx="795.86" cy="2223.66" r="1.05"/>
<circle cx="779.21" cy="2222.06" r="1.05"/>
<circle cx="803.66" cy="2227.28" r="1.05"/>
<circle cx="799.91" cy="2229.50" r="1.05"/>
<circle cx="783.23" cy="2228.47" r="1.05"/>
<circle cx="789.35" cy="2224.95" r="1.05"/>
<circle cx="799.93" cy="2223.54" r="1.05"/>
<circle cx="804.17" cy="2222.42" r="1.05"/>
<circle cx="798.60" cy="2219.86" r="1.05"/>
<circle cx="798.54" cy="2227.84" r="1.05"/>
<circle cx="800.66" cy="2226.79" r="1.05"/>
<circle cx="799.64" cy="2227.39" r="1.05"/>
<circle cx="792.48" cy="2222.56" r="1.05"/>
<circle cx="777.29" cy="2227.91" r="1.05"/>
<circle cx="803.45" cy="2222.42" r="1.05"/>
<circle cx="804.85" cy="2224.52" r="1.05"/>
<circle cx="792.60" cy="2223.03" r="1.05"/>
<circle cx="779.15" cy="2219.90" r="1.05"/>
<circle cx="801.34" cy="2222.80" r="1.05"/>
<circle cx="785.04" cy="2220.70" r="1.05"/>
<circle cx="777.73" cy="2222.37" r="1.05"/>
<circle cx="781.61" cy="2221.03" r="1.05"/>
<circle cx="779.32" cy="2223.77" r="1.05"/>
<circle cx="799.29" cy="2221.99" r="1.05"/>
<circle cx="782.08" cy="2221.88" r="1.05"/>
<circle cx="784.68" cy="2223.23" r="1.05"/>
<circle cx="802.86" cy="2227.03" r="1.05"/>
<circle cx="795.48" cy="2227.55" r="1.05"/>
<circle cx="779.62" cy="2224.07" r="1.05"/>
<circle cx="796.76" cy="2219.93" r="1.05"/>
<circle cx="791.73" cy="2223.62" r="1.05"/>
<circle cx="807.18" cy="2224.00" r="1.05"/>
<circle cx="783.32" cy="2224.60" r="1.05"/>
<circle cx="802.34" cy="2224.06" r="1.05"/>
<circle cx="776.74" cy="2219.61" r="1.05"/>
<circle cx="780.29" cy="2225.63" r="1.05"/>
<circle cx="800.10" cy="2226.56" r="1.05"/>
<circle cx="787.65" cy="2220.51" r="1.05"/>
<circle cx="805.63" cy="2222.92" r="1.05"/>
<circle cx="797.15" cy="2227.39" r="1.05"/>
<circle cx="786.70" cy="2229.35" r="1.05"/>
<circle cx="789.11" cy="2220.11" r="1.05"/>
<circle cx="781.85" cy="2221.88" r="1.05"/>
<circle cx="803.35" cy="2219.63" r="1.05"/>
<circle cx="792.51" cy="2221.21" r="1.05"/>
<circle cx="782.49" cy="2222.45" r="1.05"/>
<circle cx="795.48" cy="2220.63" r="1.05"/>
<circle cx="801.51" cy="2223.90" r="1.05"/>
<circle cx="802.87" cy="2227.26" r="1.05"/>
<circle cx="784.35" cy="2228.35" r="1.05"/>
<circle cx="784.56" cy="2222.83" r="1.05"/>
<circle cx="782.18" cy="2229.20" r="1.05"/>
<circle cx="787.39" cy="2161.61" r="1.05"/>
<circle cx="782.37" cy="2207.65" r="1.05"/>
<circle cx="778.69" cy="2211.83" r="1.05"/>
<circle cx="783.71" cy="2216.02" r="1.05"/>
<circle cx="802.46" cy="2205.13" r="1.05"/>
<circle cx="795.76" cy="2206.81" r="1.05"/>
<circle cx="802.13" cy="2213.00" r="1.05"/>
<circle cx="797.10" cy="2217.69" r="1.05"/>
<path d="M812.41,2227.40 C812.20,2226.34 811.40,2222.94 811.15,2221.04 C810.90,2219.14 810.55,2218.25 810.90,2216.02 C811.25,2213.78 812.36,2210.44 813.24,2207.65 C814.12,2204.86 815.17,2202.07 816.17,2199.28 C817.18,2196.48 818.39,2193.69 819.27,2190.90 C820.15,2188.11 820.85,2185.32 821.45,2182.53 C822.05,2179.74 822.35,2178.35 822.87,2174.16 C823.39,2169.98 824.12,2163.00 824.54,2157.42 C824.96,2151.84 825.17,2146.26 825.38,2140.68 C825.59,2135.10 825.70,2132.31 825.80,2123.94 C825.90,2115.57 825.97,2100.22 825.97,2090.45 C825.97,2080.69 825.91,2071.25 825.80,2065.34 C825.69,2059.42 825.38,2056.69 825.30,2054.96 L827.98,2054.96 C827.89,2056.69 827.58,2059.42 827.47,2065.34 C827.36,2071.25 827.31,2080.69 827.31,2090.45 C827.31,2100.22 827.38,2115.57 827.47,2123.94 C827.57,2132.31 827.68,2135.10 827.89,2140.68 C828.10,2146.26 828.31,2151.84 828.73,2157.42 C829.15,2163.00 829.89,2169.98 830.40,2174.16 C830.92,2178.35 831.23,2179.74 831.83,2182.53 C832.43,2185.32 833.12,2188.11 834.00,2190.90 C834.88,2193.69 836.10,2196.48 837.10,2199.28 C838.10,2202.07 839.15,2204.86 840.03,2207.65 C840.91,2210.44 842.02,2213.78 842.37,2216.02 C842.72,2218.25 842.37,2219.14 842.12,2221.04 C841.87,2222.94 841.08,2226.34 840.87,2227.40 Z" fill="#58B548" stroke="#1a1a1a" stroke-width="0.85" stroke-linejoin="round"/>
<circle cx="836.45" cy="2152.06" r="1.05"/>
<circle cx="836.95" cy="2167.80" r="1.05"/>
<circle cx="830.25" cy="2178.85" r="1.05"/>
<circle cx="823.05" cy="2189.56" r="1.05"/>
<circle cx="828.91" cy="2189.73" r="1.05"/>
<circle cx="833.10" cy="2195.59" r="1.05"/>
<circle cx="821.88" cy="2204.63" r="1.05"/>
<circle cx="831.42" cy="2204.63" r="1.05"/>
<circle cx="819.71" cy="2216.02" r="1.05"/>
<circle cx="824.23" cy="2216.02" r="1.05"/>
<circle cx="831.93" cy="2216.35" r="1.05"/>
<circle cx="821.38" cy="2223.55" r="1.05"/>
<circle cx="815.52" cy="2226.06" r="1.05"/>
<circle cx="832.26" cy="2224.39" r="1.05"/>
<circle cx="835.61" cy="2225.23" r="1.05"/>
<circle cx="825.90" cy="2054.96" r="1.05"/>
<path d="M853.20,2226.40 C852.01,2225.50 846.71,2222.77 846.08,2221.04 C845.45,2219.31 848.31,2217.69 849.43,2216.02 C850.55,2214.34 851.59,2212.67 852.78,2210.99 C853.96,2209.32 855.47,2207.65 856.55,2205.97 C857.62,2204.30 858.57,2202.48 859.22,2200.95 C859.88,2199.41 860.33,2198.16 860.48,2196.76 C860.63,2195.37 860.38,2193.97 860.15,2192.58 C859.91,2191.18 859.35,2189.73 859.06,2188.39 C858.76,2187.05 858.50,2185.18 858.39,2184.54 L863.91,2184.54 C863.80,2185.18 863.54,2187.05 863.24,2188.39 C862.95,2189.73 862.39,2191.18 862.15,2192.58 C861.92,2193.97 861.67,2195.37 861.82,2196.76 C861.97,2198.16 862.42,2199.41 863.08,2200.95 C863.73,2202.48 864.68,2204.30 865.75,2205.97 C866.83,2207.65 868.34,2209.32 869.52,2210.99 C870.71,2212.67 871.75,2214.34 872.87,2216.02 C873.99,2217.69 876.85,2219.31 876.22,2221.04 C875.59,2222.77 870.29,2225.50 869.10,2226.40 Z" fill="#2DBA8F" stroke="#1a1a1a" stroke-width="0.85" stroke-linejoin="round"/>
<circle cx="860.39" cy="2184.54" r="1.05"/>
<circle cx="847.33" cy="2211.33" r="1.05"/>
<circle cx="857.37" cy="2215.18" r="1.05"/>
<circle cx="872.44" cy="2205.13" r="1.05"/>
<circle cx="849.84" cy="2221.04" r="1.05"/>
<circle cx="856.54" cy="2221.04" r="1.05"/>
<circle cx="860.72" cy="2221.04" r="1.05"/>
<circle cx="866.58" cy="2216.85" r="1.05"/>
<circle cx="868.26" cy="2221.88" r="1.05"/>
<circle cx="872.44" cy="2215.18" r="1.05"/>
<circle cx="859.89" cy="2226.40" r="1.05"/>
<circle cx="854.03" cy="2225.73" r="1.05"/>
<circle cx="865.75" cy="2213.51" r="1.05"/>
<path d="M887.71,2227.40 C886.43,2226.90 880.92,2225.45 880.01,2224.39 C879.10,2223.33 881.20,2222.43 882.27,2221.04 C883.34,2219.64 885.20,2217.69 886.46,2216.02 C887.71,2214.34 888.80,2212.67 889.80,2210.99 C890.81,2209.32 891.81,2207.37 892.48,2205.97 C893.15,2204.58 893.54,2203.40 893.82,2202.62 C894.10,2201.84 894.10,2201.51 894.16,2201.28 L897.17,2201.28 C897.23,2201.51 897.23,2201.84 897.51,2202.62 C897.78,2203.40 898.18,2204.58 898.84,2205.97 C899.51,2207.37 900.52,2209.32 901.52,2210.99 C902.53,2212.67 903.62,2214.34 904.87,2216.02 C906.13,2217.69 907.98,2219.64 909.06,2221.04 C910.13,2222.43 912.22,2223.33 911.32,2224.39 C910.41,2225.45 904.90,2226.90 903.62,2227.40 Z" fill="#4AB0E0" stroke="#1a1a1a" stroke-width="0.85" stroke-linejoin="round"/>
<circle cx="885.00" cy="2207.65" r="1.05"/>
<circle cx="883.32" cy="2211.83" r="1.05"/>
<circle cx="888.35" cy="2214.01" r="1.05"/>
<circle cx="895.55" cy="2201.28" r="1.05"/>
<circle cx="898.39" cy="2215.68" r="1.05"/>
<circle cx="902.58" cy="2219.03" r="1.05"/>
<circle cx="900.90" cy="2219.70" r="1.05"/>
<circle cx="883.32" cy="2218.03" r="1.05"/>
<circle cx="886.67" cy="2222.71" r="1.05"/>
<circle cx="893.37" cy="2223.55" r="1.05"/>
<circle cx="888.35" cy="2226.40" r="1.05"/>
<circle cx="894.21" cy="2226.90" r="1.05"/>
<circle cx="908.44" cy="2224.39" r="1.05"/>
<circle cx="906.76" cy="2225.73" r="1.05"/>
<circle cx="896.72" cy="2226.06" r="1.05"/>
<path d="M922.06,2223.55 C921.81,2222.57 921.01,2219.50 920.55,2217.69 C920.09,2215.88 919.85,2214.34 919.30,2212.67 C918.74,2210.99 917.97,2209.32 917.20,2207.65 C916.44,2205.97 915.04,2204.02 914.69,2202.62 C914.34,2201.23 915.04,2199.83 915.11,2199.28 L945.25,2199.28 C945.32,2199.83 946.01,2201.23 945.66,2202.62 C945.32,2204.02 943.92,2205.97 943.15,2207.65 C942.39,2209.32 941.62,2210.99 941.06,2212.67 C940.50,2214.34 940.26,2215.88 939.80,2217.69 C939.34,2219.50 938.55,2222.57 938.30,2223.55 Z" fill="#9488C8" stroke="#1a1a1a" stroke-width="0.85" stroke-linejoin="round"/>
<circle cx="918.48" cy="2202.96" r="1.05"/>
<circle cx="922.33" cy="2198.94" r="1.05"/>
<circle cx="924.01" cy="2211.83" r="1.05"/>
<circle cx="930.20" cy="2223.55" r="1.05"/>
<path d="M951.72,2229.08 C951.30,2228.16 949.00,2225.73 949.21,2223.55 C949.41,2221.37 951.72,2218.67 952.97,2216.02 C954.23,2213.37 955.69,2210.44 956.74,2207.65 C957.79,2204.86 958.39,2202.07 959.25,2199.28 C960.12,2196.48 961.23,2193.69 961.93,2190.90 C962.63,2188.11 963.12,2186.72 963.44,2182.53 C963.76,2178.35 963.76,2171.37 963.85,2165.79 C963.95,2160.21 964.05,2154.07 964.02,2149.05 C963.99,2144.03 963.78,2138.72 963.69,2135.66 C963.59,2132.59 963.41,2132.59 963.44,2130.63 C963.46,2128.68 963.76,2127.84 963.85,2123.94 C963.95,2120.03 964.02,2110.60 964.02,2107.19 C964.02,2103.79 963.88,2104.12 963.85,2103.51 L965.53,2103.51 C965.50,2104.12 965.36,2103.79 965.36,2107.19 C965.36,2110.60 965.43,2120.03 965.53,2123.94 C965.63,2127.84 965.92,2128.68 965.95,2130.63 C965.98,2132.59 965.79,2132.59 965.70,2135.66 C965.60,2138.72 965.39,2144.03 965.36,2149.05 C965.33,2154.07 965.43,2160.21 965.53,2165.79 C965.63,2171.37 965.63,2178.35 965.95,2182.53 C966.27,2186.72 966.76,2188.11 967.45,2190.90 C968.15,2193.69 969.27,2196.48 970.13,2199.28 C971.00,2202.07 971.60,2204.86 972.64,2207.65 C973.69,2210.44 975.16,2213.37 976.41,2216.02 C977.67,2218.67 979.97,2221.37 980.18,2223.55 C980.39,2225.73 978.09,2228.16 977.67,2229.08 Z" fill="#D56BB0" stroke="#1a1a1a" stroke-width="0.85" stroke-linejoin="round"/>
<circle cx="960.45" cy="2210.64" r="1.05"/>
<circle cx="965.02" cy="2211.05" r="1.05"/>
<circle cx="966.87" cy="2225.49" r="1.05"/>
<circle cx="978.17" cy="2224.48" r="1.05"/>
<circle cx="953.99" cy="2221.99" r="1.05"/>
<circle cx="976.59" cy="2219.30" r="1.05"/>
<circle cx="969.74" cy="2210.79" r="1.05"/>
<circle cx="967.91" cy="2210.95" r="1.05"/>
<circle cx="952.23" cy="2210.69" r="1.05"/>
<circle cx="973.90" cy="2217.89" r="1.05"/>
<circle cx="958.41" cy="2209.63" r="1.05"/>
<circle cx="969.22" cy="2208.17" r="1.05"/>
<circle cx="959.41" cy="2217.73" r="1.05"/>
<circle cx="964.40" cy="2215.03" r="1.05"/>
<circle cx="964.88" cy="2207.22" r="1.05"/>
<circle cx="964.24" cy="2223.99" r="1.05"/>
<circle cx="978.89" cy="2209.59" r="1.05"/>
<circle cx="959.23" cy="2218.87" r="1.05"/>
<circle cx="978.17" cy="2207.62" r="1.05"/>
<circle cx="979.15" cy="2214.91" r="1.05"/>
<circle cx="952.43" cy="2213.61" r="1.05"/>
<circle cx="955.10" cy="2209.42" r="1.05"/>
<circle cx="968.62" cy="2208.27" r="1.05"/>
<circle cx="953.88" cy="2208.03" r="1.05"/>
<circle cx="977.00" cy="2226.54" r="1.05"/>
<circle cx="970.05" cy="2226.44" r="1.05"/>
<circle cx="955.60" cy="2213.73" r="1.05"/>
<circle cx="959.22" cy="2221.14" r="1.05"/>
<circle cx="950.41" cy="2216.99" r="1.05"/>
<circle cx="950.98" cy="2217.86" r="1.05"/>
<circle cx="960.75" cy="2215.92" r="1.05"/>
<circle cx="968.30" cy="2215.60" r="1.05"/>
<circle cx="957.47" cy="2211.40" r="1.05"/>
<circle cx="974.54" cy="2208.77" r="1.05"/>
<circle cx="957.74" cy="2220.95" r="1.05"/>
<circle cx="951.79" cy="2217.40" r="1.05"/>
<circle cx="963.89" cy="2217.46" r="1.05"/>
<circle cx="968.26" cy="2210.83" r="1.05"/>
<circle cx="957.48" cy="2228.49" r="1.05"/>
<circle cx="953.21" cy="2217.86" r="1.05"/>
<circle cx="962.61" cy="2223.12" r="1.05"/>
<circle cx="951.48" cy="2206.90" r="1.05"/>
<circle cx="960.81" cy="2223.49" r="1.05"/>
<circle cx="950.67" cy="2206.65" r="1.05"/>
<circle cx="974.43" cy="2210.70" r="1.05"/>
<circle cx="975.53" cy="2227.58" r="1.05"/>
<circle cx="953.89" cy="2215.88" r="1.05"/>
<circle cx="950.47" cy="2218.88" r="1.05"/>
<circle cx="978.74" cy="2223.09" r="1.05"/>
<circle cx="971.09" cy="2224.43" r="1.05"/>
<circle cx="977.92" cy="2103.51" r="1.05"/>
<circle cx="961.18" cy="2111.88" r="1.05"/>
<circle cx="960.34" cy="2134.82" r="1.05"/>
<circle cx="966.20" cy="2135.32" r="1.05"/>
<circle cx="976.24" cy="2160.43" r="1.05"/>
<circle cx="959.17" cy="2166.13" r="1.05"/>
<circle cx="971.56" cy="2172.82" r="1.05"/>
<circle cx="956.99" cy="2179.52" r="1.05"/>
<circle cx="956.99" cy="2185.88" r="1.05"/>
<circle cx="951.97" cy="2197.94" r="1.05"/>
<circle cx="955.82" cy="2202.62" r="1.05"/>
<circle cx="953.14" cy="2205.13" r="1.05"/>
<circle cx="957.49" cy="2209.32" r="1.05"/>
<path d="M736.9,2022.0 V2240.0 H985.4" fill="none" stroke="#1a1a1a" stroke-width="1.2"/>
<line x1="732.6999999999999" y1="2231.4" x2="736.9" y2="2231.4" stroke="#333" stroke-width="1"/>
<text transform="translate(729.00,2236.80)" font-size="15.2" text-anchor="end">0.0</text>
<line x1="732.6999999999999" y1="2191.5" x2="736.9" y2="2191.5" stroke="#333" stroke-width="1"/>
<text transform="translate(729.00,2196.90)" font-size="15.2" text-anchor="end">0.1</text>
<line x1="732.6999999999999" y1="2151.6" x2="736.9" y2="2151.6" stroke="#333" stroke-width="1"/>
<text transform="translate(729.00,2157.00)" font-size="15.2" text-anchor="end">0.2</text>
<line x1="732.6999999999999" y1="2111.7000000000003" x2="736.9" y2="2111.7000000000003" stroke="#333" stroke-width="1"/>
<text transform="translate(729.00,2117.10)" font-size="15.2" text-anchor="end">0.3</text>
<line x1="732.6999999999999" y1="2071.8" x2="736.9" y2="2071.8" stroke="#333" stroke-width="1"/>
<text transform="translate(729.00,2077.20)" font-size="15.2" text-anchor="end">0.4</text>
<line x1="732.6999999999999" y1="2031.9" x2="736.9" y2="2031.9" stroke="#333" stroke-width="1"/>
<text transform="translate(729.00,2037.30)" font-size="15.2" text-anchor="end">0.5</text>
<line x1="757.61" y1="2240.0" x2="757.61" y2="2244.5" stroke="#333" stroke-width="1"/>
<text transform="translate(765.61,2256.20) rotate(-45) scale(0.945,1)" font-size="15.6" text-anchor="end">Neuron</text>
<line x1="792.12" y1="2240.0" x2="792.12" y2="2244.5" stroke="#333" stroke-width="1"/>
<text transform="translate(800.12,2256.20) rotate(-45) scale(0.945,1)" font-size="15.6" text-anchor="end">Fibroblast</text>
<line x1="826.64" y1="2240.0" x2="826.64" y2="2244.5" stroke="#333" stroke-width="1"/>
<text transform="translate(834.64,2256.20) rotate(-45) scale(0.945,1)" font-size="15.6" text-anchor="end">NSC</text>
<line x1="861.15" y1="2240.0" x2="861.15" y2="2244.5" stroke="#333" stroke-width="1"/>
<text transform="translate(869.15,2256.20) rotate(-45) scale(0.945,1)" font-size="15.6" text-anchor="end">Immature Glia</text>
<line x1="895.66" y1="2240.0" x2="895.66" y2="2244.5" stroke="#333" stroke-width="1"/>
<text transform="translate(903.66,2256.20) rotate(-45) scale(0.945,1)" font-size="15.6" text-anchor="end">Oligodendrocyte</text>
<line x1="930.18" y1="2240.0" x2="930.18" y2="2244.5" stroke="#333" stroke-width="1"/>
<text transform="translate(938.18,2256.20) rotate(-45) scale(0.945,1)" font-size="15.6" text-anchor="end">Dividing</text>
<line x1="964.69" y1="2240.0" x2="964.69" y2="2244.5" stroke="#333" stroke-width="1"/>
<text transform="translate(972.69,2256.20) rotate(-45) scale(0.945,1)" font-size="15.6" text-anchor="end">Myocyte</text>
<text transform="translate(-0.50,25.00)" font-size="31.5" font-weight="bold">A</text>
<text transform="translate(5.00,1239.50) scale(0.85,1)" font-size="31.5" font-weight="bold">B</text>
<text transform="translate(1033.50,25.70) scale(0.85,1)" font-size="31.5" font-weight="bold">C</text>
<text transform="translate(1034.00,1238.80)" font-size="31.5" font-weight="bold">D</text>
</svg></body></html>
